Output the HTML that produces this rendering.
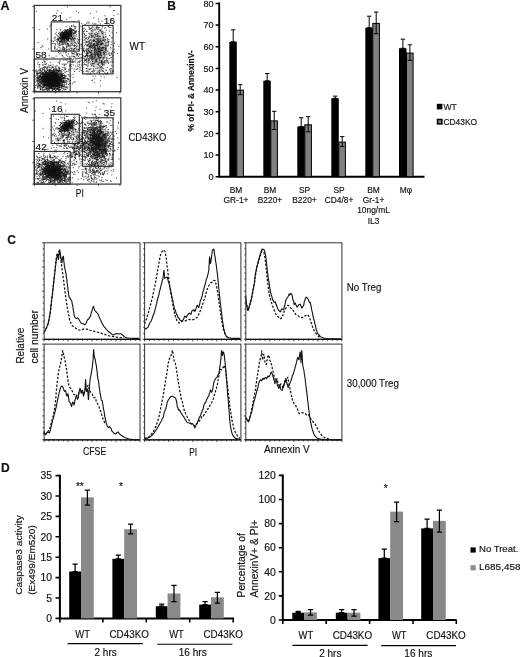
<!DOCTYPE html>
<html lang="en"><head><meta charset="utf-8"><title>Figure</title>
<style>html,body{margin:0;padding:0;background:#fff}body{width:520px;height:657px;overflow:hidden}svg{display:block}text{font-family:"Liberation Sans", sans-serif;fill:#111;stroke:#111;stroke-width:.22px;stroke-opacity:.7}</style>
</head><body>
<svg width="520" height="657" viewBox="0 0 520 657">
<rect width="520" height="657" fill="#fff"/>
<defs>
<radialGradient id="blob"><stop offset="0" stop-color="#000" stop-opacity="0.85"/><stop offset="0.45" stop-color="#000" stop-opacity="0.55"/><stop offset="1" stop-color="#000" stop-opacity="0"/></radialGradient>
<radialGradient id="blob2"><stop offset="0" stop-color="#000" stop-opacity="0.45"/><stop offset="0.5" stop-color="#000" stop-opacity="0.25"/><stop offset="1" stop-color="#000" stop-opacity="0"/></radialGradient>
<filter id="soft" x="-5%" y="-5%" width="110%" height="110%"><feGaussianBlur stdDeviation="0.35"/></filter>
</defs>
<text x="0.4" y="9.6" font-size="12.6" font-weight="bold" fill="#000">A</text>
<text x="167.2" y="10" font-size="12" font-weight="bold" fill="#000">B</text>
<text x="7.2" y="244" font-size="12" font-weight="bold" fill="#000">C</text>
<text x="0.9" y="471.7" font-size="12" font-weight="bold" fill="#000">D</text>
<g filter="url(#soft)">
<ellipse cx="52" cy="80.5" rx="12" ry="10" fill="url(#blob)" opacity="1.0"/>
<ellipse cx="65.8" cy="35.4" rx="8.5" ry="6" fill="url(#blob)" opacity="0.8" transform="rotate(-40 65.8 35.4)"/>
<ellipse cx="97.5" cy="50.0" rx="13" ry="24" fill="url(#blob2)" opacity="1.0"/>
<path d="M51.7 82.0h.1M54.7 76.4h.1M56.0 76.1h.1M50.3 87.2h.1M55.8 78.0h.1M48.4 81.7h.1M52.2 75.7h.1M51.5 84.0h.1M61.2 79.9h.1M65.7 76.5h.1M64.3 81.7h.1M60.0 83.5h.1M51.2 79.4h.1M69.0 81.1h.1M52.2 81.1h.1M62.5 80.1h.1M59.2 77.7h.1M45.9 75.1h.1M51.3 85.0h.1M55.9 80.7h.1M51.2 80.7h.1M59.9 82.5h.1M44.7 70.9h.1M46.3 80.0h.1M48.2 73.5h.1M50.9 83.3h.1M52.5 84.2h.1M51.8 83.9h.1M43.3 75.2h.1M51.1 77.9h.1M52.4 74.4h.1M56.0 80.3h.1M45.0 85.1h.1M61.4 78.2h.1M49.8 69.6h.1M55.1 80.6h.1M43.1 82.3h.1M54.5 79.1h.1M52.1 88.5h.1M55.1 79.5h.1M49.8 79.4h.1M54.4 75.1h.1M52.5 78.3h.1M43.7 82.3h.1M51.5 83.9h.1M53.2 86.2h.1M51.4 83.4h.1M60.1 83.9h.1M65.1 72.4h.1M54.9 76.4h.1M58.1 78.4h.1M50.2 82.7h.1M53.4 79.7h.1M46.9 82.2h.1M58.8 81.4h.1M52.8 75.1h.1M51.2 75.8h.1M45.5 80.2h.1M52.0 77.4h.1M54.8 70.6h.1M59.0 83.8h.1M65.0 87.5h.1M62.6 86.6h.1M56.7 85.5h.1M52.7 72.6h.1M42.4 86.1h.1M52.7 79.2h.1M54.0 75.8h.1M45.4 76.3h.1M53.1 76.6h.1M57.4 74.9h.1M44.0 78.1h.1M45.7 79.3h.1M56.9 79.8h.1M55.6 81.3h.1M54.7 79.5h.1M61.8 78.2h.1M41.9 75.0h.1M58.5 83.6h.1M44.3 71.3h.1M54.0 77.6h.1M62.7 86.5h.1M52.1 80.9h.1M56.5 83.8h.1M55.7 80.5h.1M60.5 75.8h.1M43.8 76.2h.1M50.1 80.0h.1M55.4 78.5h.1M48.2 78.2h.1M53.0 80.8h.1M43.6 82.4h.1M50.1 77.2h.1M60.1 87.1h.1M45.8 78.5h.1M47.7 83.7h.1M45.7 84.1h.1M53.5 88.7h.1M59.3 86.5h.1M47.9 84.3h.1M38.3 85.5h.1M61.2 73.5h.1M47.7 74.3h.1M51.2 84.7h.1M64.8 72.0h.1M50.3 80.4h.1M53.6 81.0h.1M59.1 74.0h.1M54.1 75.8h.1M62.2 85.2h.1M52.0 82.6h.1M59.1 78.5h.1M59.4 77.3h.1M51.5 76.3h.1M49.3 81.7h.1M40.2 70.9h.1M46.3 78.9h.1M53.5 73.2h.1M54.3 84.8h.1M52.5 81.0h.1M52.7 86.7h.1M54.3 69.4h.1M58.5 71.5h.1M73.7 82.1h.1M43.3 79.0h.1M60.6 77.3h.1M44.5 79.8h.1M51.7 80.2h.1M50.9 84.5h.1M48.2 80.9h.1M58.3 84.4h.1M55.4 86.9h.1M60.4 81.5h.1M53.4 73.8h.1M39.3 85.6h.1M54.2 85.0h.1M52.2 66.8h.1M50.4 79.9h.1M52.5 75.0h.1M53.9 80.0h.1M43.9 80.6h.1M50.5 88.2h.1M56.0 79.3h.1M62.3 90.8h.1M44.8 83.9h.1M47.5 80.2h.1M50.8 79.0h.1M53.3 81.0h.1M41.6 81.3h.1M53.0 77.7h.1M54.5 89.4h.1M48.6 80.2h.1M55.4 75.4h.1M51.6 85.0h.1M54.8 79.9h.1M53.3 81.3h.1M62.6 81.4h.1M56.7 86.1h.1M56.4 84.4h.1M42.4 76.9h.1M55.7 82.2h.1M53.0 75.5h.1M47.0 90.0h.1M53.9 79.8h.1M58.5 83.5h.1M61.2 76.5h.1M44.6 74.3h.1M43.4 86.8h.1M49.8 82.9h.1M39.5 77.0h.1M57.2 74.5h.1M50.2 87.9h.1M46.7 74.5h.1M58.1 79.1h.1M50.3 79.1h.1M50.3 81.7h.1M54.0 80.7h.1M50.7 79.8h.1M46.8 89.3h.1M48.1 80.0h.1M62.6 84.6h.1M66.1 75.9h.1M45.7 82.9h.1M54.7 72.1h.1M55.1 77.6h.1M51.4 76.3h.1M59.7 81.7h.1M54.3 74.9h.1M52.4 74.6h.1M43.7 84.4h.1M45.4 76.7h.1M48.8 79.2h.1M54.9 79.3h.1M61.9 74.9h.1M47.0 78.5h.1M49.6 85.3h.1M64.1 78.8h.1M50.5 82.2h.1M53.4 86.2h.1M51.8 74.1h.1M57.3 85.8h.1M50.9 70.3h.1M42.6 81.8h.1M43.6 76.8h.1M55.1 75.2h.1M35.6 76.3h.1M42.3 75.2h.1M52.6 71.9h.1M53.5 86.0h.1M59.1 87.5h.1M50.8 74.8h.1M55.7 78.8h.1M52.9 77.9h.1M57.7 80.0h.1M60.0 75.3h.1M51.4 85.0h.1M62.0 82.5h.1M57.2 76.4h.1M47.0 76.8h.1M43.0 74.6h.1M49.7 78.9h.1M56.3 84.4h.1M52.4 83.7h.1M53.4 75.1h.1M52.6 80.9h.1M46.7 74.7h.1M54.0 71.9h.1M48.8 74.2h.1M63.8 82.6h.1M46.3 71.4h.1M59.8 78.2h.1M59.0 83.9h.1M58.0 77.9h.1M49.0 75.9h.1M50.2 75.0h.1M61.8 72.8h.1M40.2 76.5h.1M50.4 80.0h.1M50.9 80.5h.1M40.6 72.8h.1M63.2 77.4h.1M60.0 86.0h.1M47.6 74.6h.1M61.4 80.5h.1M45.8 64.5h.1M49.6 74.4h.1M46.3 73.7h.1M55.4 73.3h.1M57.0 88.7h.1M47.1 77.4h.1M59.6 72.1h.1M54.6 80.9h.1M52.6 80.1h.1M59.4 81.6h.1M51.0 87.0h.1M40.0 77.4h.1M57.1 81.2h.1M56.7 77.6h.1M53.4 75.3h.1M48.2 79.2h.1M50.6 79.3h.1M57.7 76.7h.1M54.1 78.0h.1M50.5 80.2h.1M60.8 82.6h.1M61.4 79.1h.1M56.0 70.4h.1M51.3 81.1h.1M53.5 78.6h.1M55.4 76.1h.1M54.3 78.1h.1M52.6 74.3h.1M50.3 80.9h.1M53.4 78.5h.1M50.1 71.4h.1M48.8 81.1h.1M49.8 82.1h.1M56.5 80.0h.1M47.4 81.8h.1M52.2 72.6h.1M47.3 85.7h.1M45.2 80.4h.1M61.2 87.3h.1M55.5 67.9h.1M51.0 72.5h.1M61.1 79.0h.1M44.1 77.0h.1M48.5 88.9h.1M41.7 77.9h.1M54.8 74.5h.1M56.1 83.5h.1M49.3 80.5h.1M46.3 75.3h.1M51.6 84.3h.1M47.1 85.1h.1M49.7 78.4h.1M50.6 75.0h.1M62.1 85.6h.1M52.0 82.1h.1M63.4 80.9h.1M56.8 76.9h.1M67.0 81.7h.1M45.8 81.3h.1M55.9 81.2h.1M49.8 65.6h.1M52.3 83.4h.1M45.8 88.2h.1M44.3 80.6h.1M49.2 84.1h.1M55.6 81.0h.1M44.1 89.2h.1M53.1 80.5h.1M49.4 87.0h.1M50.7 87.9h.1M58.5 80.8h.1M52.5 84.7h.1M46.7 71.5h.1M57.6 83.4h.1M57.8 73.7h.1M44.7 81.6h.1M49.3 77.5h.1M45.5 78.0h.1M45.8 74.5h.1M57.4 82.6h.1M55.9 84.8h.1M51.2 75.5h.1M51.9 78.6h.1M46.7 76.1h.1M53.6 87.2h.1M35.4 87.7h.1M51.4 81.5h.1M42.1 77.9h.1M58.3 82.4h.1M49.9 75.7h.1M64.2 75.4h.1M48.4 75.8h.1M52.7 81.8h.1M48.3 78.0h.1M49.6 75.4h.1M55.4 75.8h.1M44.6 78.9h.1M57.2 79.7h.1M52.7 84.3h.1M63.5 77.4h.1M45.9 78.7h.1M45.3 89.9h.1M53.9 79.0h.1M43.6 81.4h.1M48.1 77.1h.1M37.7 86.6h.1M47.6 83.2h.1M64.6 86.3h.1M52.8 82.9h.1M47.9 77.9h.1M62.7 84.6h.1M57.2 79.8h.1M56.3 79.6h.1M65.8 89.6h.1M49.2 85.8h.1M39.1 78.0h.1M64.7 78.3h.1M60.4 79.5h.1M53.5 70.3h.1M51.3 72.5h.1M50.2 79.6h.1M54.1 80.5h.1M56.1 78.1h.1M63.0 82.5h.1M38.0 88.1h.1M42.7 82.3h.1M55.0 88.6h.1M52.4 80.2h.1M53.8 81.3h.1M54.9 80.6h.1M59.5 80.0h.1M37.2 77.2h.1M53.0 83.5h.1M48.5 74.0h.1M52.4 85.4h.1M50.1 80.8h.1M42.5 75.1h.1M52.0 77.8h.1M44.2 68.7h.1M56.9 78.7h.1M47.1 82.7h.1M44.5 70.8h.1M47.4 78.0h.1M55.8 84.1h.1M60.1 71.2h.1M55.9 73.4h.1M55.9 83.2h.1M48.4 88.1h.1M54.8 73.0h.1M57.9 76.9h.1M59.5 84.3h.1M58.2 71.4h.1M47.6 79.0h.1M49.6 80.6h.1M47.8 79.9h.1M43.5 81.0h.1M49.0 82.1h.1M61.7 81.6h.1M53.5 81.9h.1M59.2 90.5h.1M52.5 74.3h.1M63.4 81.3h.1M53.3 77.0h.1M52.0 77.2h.1M49.1 76.1h.1M51.3 85.5h.1M36.2 72.1h.1M55.9 76.9h.1M48.0 73.7h.1M55.2 81.0h.1M59.3 77.0h.1M57.2 70.5h.1M61.8 80.3h.1M51.2 79.4h.1M64.0 80.5h.1M46.2 82.3h.1M53.4 76.1h.1M48.5 76.8h.1M60.4 78.0h.1M42.3 79.7h.1M44.9 76.6h.1M46.5 76.3h.1M47.5 77.0h.1M52.2 82.3h.1M44.6 76.5h.1M63.6 81.4h.1M51.8 81.0h.1M43.1 80.4h.1M47.8 73.9h.1M44.2 89.9h.1M46.7 80.8h.1M49.2 89.3h.1M58.2 81.1h.1M48.3 83.6h.1M54.5 82.6h.1M53.7 81.5h.1M54.0 74.9h.1M51.3 84.9h.1M58.6 80.5h.1M48.7 74.2h.1M51.9 74.9h.1M42.3 90.7h.1M39.0 76.8h.1M47.1 80.1h.1M49.8 88.2h.1M59.5 87.5h.1M50.9 87.7h.1M51.5 76.9h.1M49.5 83.8h.1M51.3 82.9h.1M57.5 70.4h.1M45.4 82.8h.1M51.0 80.7h.1M45.7 76.9h.1M56.8 80.5h.1M45.6 72.0h.1M44.9 75.7h.1M57.9 88.3h.1M53.9 74.1h.1M53.4 85.7h.1M44.7 76.8h.1M48.6 83.6h.1M55.8 83.1h.1M52.7 77.8h.1M55.1 81.5h.1M52.4 77.6h.1M53.7 86.7h.1M49.7 84.7h.1M43.6 81.9h.1M38.0 73.4h.1M47.0 77.8h.1M38.2 86.6h.1M65.7 78.2h.1M46.9 83.6h.1M47.3 79.2h.1M48.4 83.2h.1M51.5 85.8h.1M66.1 86.6h.1M57.8 86.7h.1M54.4 76.3h.1M50.5 75.4h.1M59.5 73.8h.1M51.7 83.0h.1M45.5 78.5h.1M45.1 79.2h.1M52.0 83.5h.1M45.4 77.4h.1M53.8 80.0h.1M52.4 75.9h.1M45.7 77.1h.1M49.8 75.7h.1M49.3 82.0h.1M47.8 89.0h.1M46.4 75.9h.1M54.1 83.2h.1M51.6 80.7h.1M55.7 71.8h.1M55.7 69.6h.1M50.3 76.4h.1M56.9 80.3h.1M51.7 72.9h.1M64.5 77.4h.1M66.3 78.3h.1M42.7 73.1h.1M49.1 72.7h.1M50.4 78.5h.1M51.8 83.4h.1M40.3 79.2h.1M52.2 75.4h.1M48.4 78.5h.1M46.6 79.2h.1M42.6 68.3h.1M53.0 85.3h.1M55.1 77.0h.1M55.1 73.9h.1M45.6 73.4h.1M58.1 79.6h.1M46.3 75.1h.1M55.6 85.9h.1M46.7 77.5h.1M60.8 74.2h.1M58.8 70.2h.1M47.7 76.4h.1M47.0 89.3h.1M45.5 73.2h.1M45.2 85.2h.1M57.8 76.7h.1M54.3 72.6h.1M44.8 66.5h.1M59.5 80.6h.1M53.3 81.6h.1M50.4 79.1h.1M46.7 68.2h.1M52.7 76.9h.1M50.9 81.4h.1M58.6 78.5h.1M46.5 81.2h.1M38.4 70.1h.1M46.7 80.6h.1M53.9 78.0h.1M53.9 78.0h.1M47.5 77.5h.1M56.1 75.0h.1M53.2 76.1h.1M52.1 86.0h.1M49.1 82.6h.1M49.6 80.3h.1M53.1 79.1h.1M48.1 74.1h.1M43.2 78.9h.1M57.4 79.0h.1M56.3 82.2h.1M55.5 87.2h.1M59.4 70.1h.1M58.8 71.3h.1M51.2 85.9h.1M49.1 72.9h.1M55.2 90.4h.1M49.9 80.1h.1M43.4 79.5h.1M49.1 83.1h.1M57.1 76.0h.1M52.6 75.7h.1M52.3 81.1h.1M37.6 73.2h.1M53.0 79.8h.1M48.1 85.2h.1M56.0 77.0h.1M63.6 78.0h.1M48.5 80.0h.1M59.0 79.9h.1M51.3 83.0h.1M56.1 80.0h.1M65.0 77.1h.1M43.6 67.4h.1M54.0 82.0h.1M55.3 76.9h.1M52.4 80.6h.1M54.4 71.2h.1M53.8 76.4h.1M55.3 82.4h.1M46.9 84.2h.1M54.3 85.8h.1M43.2 84.7h.1M43.1 78.0h.1M52.3 84.9h.1M60.7 83.3h.1M55.8 79.3h.1M64.3 78.3h.1M51.2 85.0h.1M45.6 78.8h.1M54.1 76.6h.1M49.6 78.7h.1M46.3 88.5h.1M53.7 73.0h.1M59.1 74.3h.1M58.5 88.6h.1M52.0 72.6h.1M46.5 86.0h.1M55.0 77.6h.1M53.9 82.4h.1M46.6 85.6h.1M42.9 84.9h.1M42.5 82.1h.1M62.1 81.8h.1M50.3 78.2h.1M46.4 77.5h.1M56.6 89.0h.1M47.4 80.7h.1M44.9 84.6h.1M52.2 67.7h.1M56.9 79.1h.1M58.2 82.8h.1M44.7 76.5h.1M56.2 74.9h.1M50.0 82.3h.1M55.8 85.4h.1M56.1 76.5h.1M50.1 84.1h.1M55.8 83.0h.1M55.2 88.4h.1M52.5 79.9h.1M46.4 84.1h.1M43.4 80.5h.1M56.5 78.6h.1M48.1 82.8h.1M42.5 80.8h.1M43.6 86.8h.1M52.4 72.8h.1M61.1 74.8h.1M42.5 74.2h.1M43.4 81.8h.1M39.8 83.3h.1M52.9 79.6h.1M51.3 81.3h.1M55.5 81.0h.1M43.2 69.8h.1M51.2 75.6h.1M49.9 84.5h.1M51.6 84.5h.1M61.3 88.1h.1M55.3 84.4h.1M53.4 67.2h.1M56.7 82.6h.1M41.6 79.9h.1M51.7 73.1h.1M40.8 87.7h.1M52.0 79.4h.1M61.7 87.1h.1M43.2 81.6h.1M57.1 88.5h.1M60.3 81.0h.1M49.3 84.6h.1M48.9 81.9h.1M58.3 75.0h.1M52.3 76.8h.1M61.8 75.8h.1M57.1 71.8h.1M62.4 74.0h.1M50.4 82.3h.1M40.4 70.3h.1M55.5 86.0h.1M53.7 79.1h.1M41.2 76.6h.1M60.9 75.4h.1M49.5 81.6h.1M61.9 77.3h.1M47.9 82.7h.1M55.6 84.5h.1M50.1 70.8h.1M53.6 83.0h.1M57.9 70.5h.1M53.1 84.7h.1M43.9 67.4h.1M36.1 71.4h.1M44.5 85.5h.1M45.4 80.0h.1M58.9 85.2h.1M59.2 68.7h.1M41.1 73.5h.1M40.8 86.6h.1M41.9 78.4h.1M60.0 81.2h.1M68.1 74.8h.1M52.4 75.4h.1M53.2 80.2h.1M38.1 84.5h.1M51.1 86.6h.1M57.4 79.8h.1M47.3 73.1h.1M55.1 74.2h.1M49.6 88.6h.1M56.7 82.6h.1M59.0 75.9h.1M58.6 89.4h.1M36.1 79.9h.1M56.0 85.0h.1M53.4 85.0h.1M49.8 81.5h.1M48.6 76.8h.1M56.4 72.4h.1M56.3 73.9h.1M53.9 75.9h.1M50.9 82.7h.1M62.1 78.3h.1M57.4 85.5h.1M40.0 82.6h.1M52.8 88.3h.1M60.4 90.0h.1M59.1 67.4h.1M58.6 82.7h.1M53.3 81.3h.1M62.4 79.0h.1M48.7 81.0h.1M44.1 79.3h.1M37.4 73.8h.1M52.2 70.5h.1M58.8 88.8h.1M57.6 84.4h.1M53.5 75.3h.1M54.8 78.4h.1M54.4 84.9h.1M48.3 76.7h.1M57.6 83.1h.1M51.6 85.8h.1M52.4 79.7h.1M58.5 77.1h.1M58.9 79.8h.1M54.0 84.8h.1M54.8 80.0h.1M58.3 90.4h.1M46.9 88.8h.1M45.3 87.0h.1M52.9 84.4h.1M35.6 70.8h.1M42.6 87.5h.1M48.5 83.8h.1M44.3 75.5h.1M50.2 75.5h.1M57.1 78.2h.1M52.8 81.4h.1M50.4 72.6h.1M37.6 83.8h.1M47.5 77.7h.1M52.0 83.4h.1M51.0 71.3h.1M63.3 88.1h.1M49.6 79.4h.1M44.0 72.6h.1M49.4 87.8h.1M53.7 78.6h.1M51.7 78.0h.1M42.6 73.7h.1M47.4 72.9h.1M47.6 79.1h.1M69.3 83.9h.1M59.6 79.6h.1M42.8 72.7h.1M57.6 89.4h.1M49.6 88.3h.1M50.7 75.5h.1M51.2 87.0h.1M45.7 79.2h.1M51.8 79.9h.1M53.1 74.6h.1M54.4 84.9h.1M47.8 78.9h.1M56.5 81.5h.1M64.6 76.0h.1M47.1 77.0h.1M48.2 86.3h.1M47.6 79.7h.1M37.0 81.1h.1M53.6 84.8h.1M50.1 75.5h.1M51.7 79.5h.1M65.4 82.2h.1M54.4 78.6h.1M63.4 80.9h.1M52.2 81.1h.1M59.0 85.3h.1M60.4 81.0h.1M44.0 75.2h.1M54.3 86.7h.1M54.9 79.5h.1M49.4 85.6h.1M67.6 79.2h.1M59.9 76.2h.1M58.6 77.3h.1M50.9 75.5h.1M50.8 82.4h.1M56.7 82.1h.1M40.7 80.0h.1M56.3 81.0h.1M57.8 83.1h.1M47.1 75.1h.1M52.3 86.5h.1M55.1 82.1h.1M59.7 77.6h.1M55.2 78.4h.1M55.8 80.4h.1M47.5 80.6h.1M38.4 78.9h.1M42.3 80.0h.1M49.5 72.4h.1M52.9 80.3h.1M55.7 70.0h.1M46.6 77.4h.1M55.1 79.8h.1M53.1 82.8h.1M61.2 77.5h.1M50.0 80.9h.1M55.0 78.1h.1M57.5 81.3h.1M45.4 73.6h.1M41.2 82.8h.1M54.2 85.0h.1M63.3 73.7h.1M60.8 80.1h.1M54.6 78.3h.1M53.5 69.6h.1M50.2 72.7h.1M56.7 79.3h.1M60.9 75.1h.1M58.6 81.7h.1M47.6 82.6h.1M59.3 77.8h.1M57.6 84.0h.1M64.0 89.4h.1M55.9 77.2h.1M48.7 85.3h.1M48.7 85.4h.1M49.9 86.5h.1M44.0 78.4h.1M42.4 79.5h.1M52.4 75.7h.1M53.1 84.8h.1M59.9 85.5h.1M49.4 81.4h.1M66.5 82.9h.1M48.5 75.8h.1M53.8 68.4h.1M48.3 76.3h.1M48.2 70.1h.1M47.7 78.4h.1M47.7 74.8h.1M58.1 78.0h.1M54.8 75.7h.1M42.5 87.6h.1M58.3 72.7h.1M43.2 84.6h.1M45.5 85.3h.1M57.8 80.8h.1M62.5 75.2h.1M46.3 75.8h.1M37.1 77.9h.1M55.4 85.4h.1M39.8 80.6h.1M59.6 84.0h.1M43.5 76.2h.1M56.0 86.6h.1M52.2 74.8h.1M55.2 77.2h.1M50.0 80.7h.1M43.8 82.6h.1M61.8 84.6h.1M45.7 81.6h.1M45.8 76.4h.1M57.3 86.4h.1M61.1 71.0h.1M46.0 75.5h.1M55.4 73.9h.1M61.8 76.4h.1M54.0 82.8h.1M66.2 87.3h.1M60.8 76.7h.1M47.7 79.2h.1M57.4 82.9h.1M49.3 87.3h.1M54.0 86.2h.1M55.7 87.1h.1M57.3 79.7h.1M39.3 79.6h.1M50.5 75.9h.1M48.4 73.6h.1M43.4 85.1h.1M56.4 78.1h.1M50.8 80.3h.1M57.8 84.6h.1M65.8 81.0h.1M54.9 79.6h.1M51.2 73.9h.1M48.3 78.8h.1M57.6 74.5h.1M59.4 83.9h.1M58.2 82.1h.1M44.0 84.3h.1M42.1 77.0h.1M58.1 87.0h.1M48.9 85.8h.1M50.7 86.5h.1M45.8 83.0h.1M48.3 81.8h.1M50.3 81.3h.1M46.1 76.6h.1M40.8 77.7h.1M45.7 78.8h.1M55.3 74.5h.1M57.0 79.8h.1M37.7 78.7h.1M46.9 74.2h.1M49.0 83.4h.1M40.9 74.7h.1M47.8 81.2h.1M58.7 81.7h.1M56.1 69.1h.1M47.6 82.4h.1M56.2 74.3h.1M42.1 79.9h.1M44.0 86.3h.1M54.6 85.3h.1M53.6 80.5h.1M52.6 80.6h.1M44.6 79.7h.1M53.3 79.3h.1M50.7 75.6h.1M55.3 80.9h.1M55.8 80.6h.1M42.9 81.0h.1M50.0 79.6h.1M49.7 81.6h.1M42.8 78.6h.1M39.2 73.3h.1M48.5 74.6h.1M40.5 76.5h.1M51.5 85.2h.1M44.9 73.3h.1M55.7 73.9h.1M51.2 79.8h.1M55.0 77.5h.1M55.3 77.2h.1M47.0 87.4h.1M64.7 82.4h.1M54.2 83.5h.1M58.4 81.0h.1M58.1 85.4h.1M51.5 79.6h.1M49.8 78.8h.1M61.5 85.5h.1M50.3 79.3h.1M44.4 85.4h.1M59.9 78.0h.1M40.5 85.6h.1M58.0 75.5h.1M56.7 78.8h.1M62.3 82.7h.1M61.6 76.1h.1M46.7 75.9h.1M51.8 83.8h.1M47.0 77.7h.1M52.5 76.3h.1M39.9 81.5h.1M59.2 82.0h.1M46.9 82.0h.1M38.7 85.0h.1M55.6 80.8h.1M60.1 83.4h.1M53.5 69.8h.1M56.3 81.9h.1M61.1 77.8h.1M54.0 82.7h.1M54.0 76.2h.1M47.4 76.8h.1M56.6 74.2h.1M56.5 84.8h.1M62.6 82.2h.1M47.7 77.7h.1M51.6 74.6h.1M42.3 84.3h.1M52.2 71.4h.1M57.8 86.8h.1M40.5 79.8h.1M44.5 75.8h.1M53.2 80.8h.1M50.8 72.3h.1M44.5 85.9h.1M60.9 75.2h.1M50.4 76.7h.1M66.7 87.7h.1M51.5 77.9h.1M38.1 78.4h.1M56.8 82.0h.1M59.5 78.0h.1M50.0 77.2h.1M53.3 89.5h.1M45.6 83.4h.1M48.1 82.2h.1M42.5 78.5h.1M40.9 73.3h.1M55.0 73.9h.1M53.7 83.6h.1M43.2 75.3h.1M52.3 78.7h.1M58.0 75.5h.1M53.3 71.7h.1M51.3 80.5h.1M57.3 76.3h.1M59.2 90.1h.1M48.5 77.9h.1M58.5 87.3h.1M41.7 73.5h.1M52.9 86.2h.1M47.8 90.1h.1M55.2 84.0h.1M59.0 70.3h.1M53.0 80.0h.1M39.8 76.3h.1M51.5 83.5h.1M41.7 78.1h.1M44.7 81.8h.1M53.9 81.3h.1M52.7 75.9h.1M45.5 71.9h.1M43.4 83.8h.1M53.4 76.8h.1M53.0 83.2h.1M46.9 81.0h.1M46.1 76.4h.1M52.0 72.3h.1M46.9 80.3h.1M53.5 86.9h.1M50.3 65.4h.1M53.2 73.1h.1M55.3 81.6h.1M53.3 82.6h.1M46.5 86.1h.1M56.9 89.7h.1M57.8 83.1h.1M43.7 82.6h.1M58.8 78.2h.1M55.1 80.8h.1M45.8 72.5h.1M48.3 83.0h.1M47.9 82.1h.1M41.6 81.0h.1M45.8 82.2h.1M42.2 68.6h.1M43.9 77.5h.1M54.8 76.0h.1M64.6 81.0h.1M56.0 83.9h.1M60.2 89.6h.1M50.5 78.9h.1M57.4 77.5h.1M59.9 79.2h.1M52.1 79.6h.1M61.5 81.0h.1M57.7 82.5h.1M39.2 81.2h.1M55.7 72.7h.1M62.9 73.8h.1M48.0 75.7h.1M52.2 77.3h.1M50.0 87.4h.1M56.8 79.7h.1M56.4 86.0h.1M59.8 76.1h.1M62.5 75.2h.1M57.5 86.6h.1M51.5 74.6h.1M54.0 79.7h.1M64.1 84.9h.1M50.4 77.2h.1M50.1 84.7h.1M50.6 82.4h.1M49.5 69.4h.1M40.1 90.0h.1M44.6 84.3h.1M61.3 81.7h.1M57.9 78.6h.1M46.5 75.2h.1M54.8 71.1h.1M52.9 81.2h.1M57.3 77.8h.1M40.9 72.0h.1M59.7 77.8h.1M42.1 89.5h.1M50.6 76.5h.1M53.7 86.4h.1M56.5 89.0h.1M42.7 79.0h.1M47.0 83.4h.1M42.9 73.2h.1M44.7 77.1h.1M56.9 82.0h.1M54.4 75.8h.1M63.4 77.8h.1M40.6 88.5h.1M46.6 85.6h.1M55.4 80.8h.1M51.2 74.7h.1M58.4 82.3h.1M55.2 75.6h.1M49.7 78.7h.1M45.3 79.1h.1M53.8 81.5h.1M53.8 77.4h.1M53.9 84.8h.1M46.5 86.1h.1M63.4 80.7h.1M54.5 81.9h.1M55.5 78.5h.1M46.7 80.4h.1M58.3 88.7h.1M46.1 76.3h.1M47.3 75.7h.1M44.9 77.9h.1M57.6 79.7h.1M56.8 82.5h.1M50.8 80.5h.1M59.3 62.8h.1M53.3 70.8h.1M49.3 85.9h.1M50.6 78.2h.1M53.3 80.1h.1M56.2 78.3h.1M56.8 87.7h.1M51.1 85.3h.1M53.6 81.2h.1M52.6 83.1h.1M46.4 80.6h.1M57.2 77.5h.1M41.5 76.9h.1M52.4 88.3h.1M44.4 81.8h.1M48.9 82.7h.1M54.5 73.6h.1M60.3 84.3h.1M49.7 78.8h.1M61.1 74.8h.1M55.6 73.6h.1M45.0 85.1h.1M56.7 76.9h.1M75.1 82.0h.1M52.2 85.6h.1M47.4 82.7h.1M49.9 83.5h.1M43.6 73.3h.1M56.4 74.1h.1M40.1 84.9h.1M48.3 73.5h.1M51.1 79.1h.1M51.7 79.4h.1M49.0 77.8h.1M46.2 80.6h.1M54.0 80.3h.1M54.1 85.2h.1M53.5 82.3h.1M56.1 73.5h.1M47.2 74.0h.1M47.1 81.7h.1M63.8 77.9h.1M56.2 77.0h.1M59.0 85.8h.1M53.2 82.8h.1M54.5 82.6h.1M56.9 81.3h.1M48.2 80.0h.1M56.1 75.6h.1M50.6 82.0h.1M54.5 77.0h.1M53.6 82.6h.1M52.1 67.1h.1M51.9 76.8h.1M43.2 77.4h.1M57.3 80.4h.1M51.5 77.5h.1M53.7 73.8h.1M52.7 84.7h.1M38.4 81.5h.1M49.0 86.1h.1M43.7 87.6h.1M45.1 78.5h.1M50.1 81.1h.1M49.8 81.1h.1M59.2 70.9h.1M58.4 71.2h.1M51.6 80.4h.1M62.2 86.1h.1M46.2 79.9h.1M39.2 87.8h.1M58.8 87.3h.1M48.7 82.0h.1M46.6 75.7h.1M56.7 77.1h.1M57.0 81.0h.1M62.5 77.1h.1M48.3 79.4h.1M51.4 70.5h.1M57.7 78.7h.1M52.4 77.5h.1M46.0 79.0h.1M51.9 80.5h.1M47.9 77.2h.1M44.2 81.4h.1M51.0 80.5h.1M47.6 84.9h.1M45.5 81.2h.1M46.2 80.0h.1M43.9 78.7h.1M64.2 89.9h.1M52.5 74.5h.1M54.2 76.3h.1M37.8 80.3h.1M61.7 85.3h.1M52.7 90.7h.1M61.1 70.6h.1M51.9 78.7h.1M56.9 70.3h.1M47.5 88.4h.1M63.3 88.9h.1M49.3 79.0h.1M44.3 81.7h.1M55.2 84.8h.1M57.1 72.2h.1M39.1 76.1h.1M55.6 83.0h.1M63.5 75.7h.1M55.8 78.5h.1M50.4 86.1h.1M54.6 83.6h.1M49.2 74.3h.1M51.5 75.5h.1M44.6 81.4h.1M53.2 73.7h.1M52.0 76.5h.1M47.5 79.0h.1M56.4 86.2h.1M47.9 76.6h.1M44.7 77.5h.1M53.9 81.5h.1M57.4 79.3h.1M51.5 88.4h.1M42.5 77.2h.1M41.5 78.2h.1M48.6 84.5h.1M51.6 74.2h.1M43.9 76.7h.1M57.0 65.8h.1M44.6 83.3h.1M45.8 84.4h.1M41.0 78.1h.1M46.6 75.5h.1M53.2 86.3h.1M50.8 73.3h.1M49.8 79.1h.1M56.9 83.8h.1M56.2 73.1h.1M61.7 83.6h.1M47.4 82.9h.1M60.3 80.5h.1M50.3 84.3h.1M57.4 75.5h.1M44.4 84.8h.1M50.2 77.0h.1M49.2 80.5h.1M47.8 73.1h.1M51.4 79.5h.1M59.0 83.0h.1M52.2 78.4h.1M50.8 72.8h.1M51.9 82.7h.1M49.1 85.5h.1M61.3 74.5h.1M50.0 82.5h.1M37.6 80.8h.1M56.9 85.7h.1M59.0 74.1h.1M46.8 82.4h.1M39.9 79.6h.1M45.1 73.7h.1M59.6 89.5h.1M41.9 81.2h.1M50.4 81.0h.1M54.9 89.1h.1M47.2 82.2h.1M48.5 85.3h.1M48.0 83.6h.1M59.1 84.6h.1M38.3 75.0h.1M51.9 85.2h.1M45.1 82.4h.1M62.0 85.1h.1M60.5 77.9h.1M48.7 78.3h.1M46.2 83.1h.1M58.5 78.4h.1M59.5 79.2h.1M59.8 78.6h.1M54.4 75.7h.1M62.6 75.5h.1M49.0 80.2h.1M44.3 84.4h.1M53.5 84.3h.1M44.4 77.9h.1M59.2 83.9h.1M65.0 79.0h.1M47.0 79.9h.1M54.2 85.9h.1M58.5 83.3h.1M56.1 76.9h.1M50.0 74.9h.1M40.2 75.1h.1M40.1 72.4h.1M49.3 73.7h.1M60.6 83.0h.1M48.9 73.2h.1M45.1 74.9h.1M50.8 82.2h.1M49.9 70.7h.1M40.9 81.2h.1M55.8 75.9h.1M64.4 75.9h.1M48.8 78.1h.1M59.9 79.3h.1M42.1 76.8h.1M54.5 88.1h.1M48.9 80.1h.1M57.5 73.5h.1M60.1 79.6h.1M53.1 82.6h.1M48.2 80.9h.1M51.6 75.1h.1M66.6 80.7h.1M58.9 78.5h.1M55.0 74.6h.1M59.3 81.4h.1M51.9 77.0h.1M49.0 78.7h.1M58.6 82.0h.1M40.4 74.7h.1M43.0 85.9h.1M43.1 74.4h.1M38.7 78.5h.1M53.9 79.7h.1M48.0 80.0h.1M51.9 87.2h.1M57.8 76.2h.1M46.1 83.0h.1M45.9 73.7h.1M44.5 81.5h.1M41.8 71.9h.1M50.9 78.8h.1M63.1 79.0h.1M45.1 76.7h.1M55.8 85.8h.1M44.6 84.2h.1M57.2 81.2h.1M45.9 75.9h.1M56.1 85.6h.1M43.0 72.7h.1M70.4 76.6h.1M58.7 81.1h.1M48.1 79.0h.1M56.4 82.2h.1M58.3 81.5h.1M47.5 75.2h.1M58.9 79.6h.1M63.5 79.0h.1M55.9 85.9h.1M55.6 77.1h.1M61.9 76.3h.1M52.6 79.5h.1M45.2 75.9h.1M44.8 80.4h.1M54.0 70.4h.1M59.7 85.9h.1M42.7 79.7h.1M47.4 77.5h.1M55.1 77.6h.1M45.3 81.0h.1M53.9 79.2h.1M48.0 81.4h.1M55.7 90.2h.1M50.3 80.2h.1M41.3 83.7h.1M52.0 83.3h.1M59.6 78.7h.1M65.5 89.6h.1M63.7 86.4h.1M58.4 76.7h.1M53.0 82.1h.1M46.2 88.6h.1M48.8 84.5h.1M55.2 84.9h.1M51.5 78.0h.1M52.7 80.3h.1M50.4 82.3h.1M56.1 77.4h.1M48.8 71.0h.1M54.5 89.1h.1M70.4 80.5h.1M49.2 71.3h.1M37.7 64.1h.1M41.1 86.5h.1M46.2 78.2h.1M50.6 75.5h.1M47.8 73.8h.1M52.8 85.9h.1M59.6 80.1h.1M52.3 73.5h.1M44.1 80.7h.1M61.9 82.2h.1M57.7 78.2h.1M52.2 76.8h.1M46.4 75.7h.1M45.6 79.0h.1M47.0 76.7h.1M56.5 75.4h.1M47.3 84.5h.1M36.9 84.2h.1M50.6 79.1h.1M49.5 79.9h.1M41.5 83.3h.1M58.1 78.1h.1M42.8 80.3h.1M52.3 86.8h.1M54.8 79.6h.1M57.0 71.2h.1M47.6 73.3h.1M56.5 77.5h.1M47.3 79.2h.1M53.6 72.0h.1M54.1 73.2h.1M49.6 81.9h.1M48.0 82.8h.1M51.3 79.3h.1M44.6 84.8h.1M59.4 87.5h.1M47.7 84.7h.1M50.2 73.6h.1M51.8 73.0h.1M50.1 78.2h.1M66.3 71.4h.1M62.2 84.0h.1M52.6 79.3h.1M49.5 83.2h.1M66.0 81.7h.1M58.6 75.4h.1M55.7 80.6h.1M55.2 73.5h.1M60.6 73.4h.1M49.6 83.1h.1M50.1 74.3h.1M46.3 75.2h.1M60.0 78.9h.1M52.0 84.2h.1M48.0 79.6h.1M45.8 79.7h.1M47.6 72.3h.1M61.5 86.5h.1M61.4 80.8h.1M53.1 78.2h.1M53.6 88.1h.1M67.6 88.2h.1M37.0 77.6h.1M51.4 84.2h.1M41.3 72.1h.1M51.6 79.4h.1M48.2 80.6h.1M48.1 77.5h.1M52.4 77.1h.1M56.5 80.7h.1M54.1 74.8h.1M41.9 77.8h.1M59.9 87.8h.1M56.4 84.0h.1M51.9 81.8h.1M51.5 77.4h.1M49.7 90.7h.1M66.5 83.7h.1M50.2 74.6h.1M48.4 80.2h.1M48.3 83.1h.1M43.9 81.2h.1M50.9 81.2h.1M42.4 82.9h.1M59.2 78.6h.1M50.5 76.9h.1M55.4 76.2h.1M53.3 83.0h.1M45.5 79.3h.1M38.5 77.4h.1M49.3 77.3h.1M70.6 83.4h.1M48.9 89.9h.1M52.9 84.5h.1M68.4 84.5h.1M44.7 83.1h.1M48.9 69.4h.1M57.0 83.2h.1M53.7 85.6h.1M58.5 77.8h.1M60.8 83.3h.1M49.0 74.7h.1M48.3 78.2h.1M44.8 72.8h.1M68.6 79.7h.1M42.2 68.2h.1M41.1 83.4h.1M55.2 76.4h.1M48.5 75.7h.1M37.5 87.8h.1M40.8 77.0h.1M56.4 76.2h.1M49.0 80.6h.1M47.1 85.5h.1M57.4 80.4h.1M48.3 76.1h.1M53.2 84.9h.1M48.6 81.4h.1M44.9 67.4h.1M38.5 83.7h.1M52.2 89.9h.1M48.5 84.5h.1M60.6 85.5h.1M42.2 76.6h.1M49.2 70.6h.1M52.5 85.7h.1M45.2 76.5h.1M45.7 72.7h.1M52.0 78.2h.1M63.8 82.6h.1M53.1 76.3h.1M39.9 85.1h.1M47.7 90.5h.1M55.0 84.3h.1M50.2 79.6h.1M54.2 84.9h.1M41.2 81.7h.1M72.9 77.3h.1M45.6 72.8h.1M48.6 80.2h.1M39.6 85.9h.1M53.9 81.0h.1M52.6 77.8h.1M63.1 82.6h.1M51.3 87.4h.1M56.5 81.5h.1M52.9 77.3h.1M39.9 75.4h.1M38.1 78.8h.1M50.5 62.6h.1M48.2 82.9h.1M49.6 70.9h.1M60.1 72.8h.1M36.4 69.9h.1M47.9 85.4h.1M59.1 79.6h.1M36.7 73.1h.1M39.5 76.7h.1M54.1 76.9h.1M52.4 71.0h.1M59.0 85.7h.1M43.7 87.0h.1M44.9 89.3h.1M52.6 74.6h.1M55.6 72.2h.1M39.1 67.1h.1M50.5 77.6h.1M47.3 74.9h.1M61.7 74.8h.1M41.1 87.3h.1M61.5 80.5h.1M53.8 78.1h.1M62.8 67.7h.1M54.4 73.3h.1M60.6 77.4h.1M57.8 73.1h.1M42.2 70.3h.1M59.4 88.0h.1M50.6 70.2h.1M46.9 72.9h.1M61.8 80.4h.1M52.6 75.0h.1M37.4 80.8h.1M48.9 72.0h.1M44.3 89.7h.1M38.9 71.1h.1M45.8 72.8h.1M43.9 82.0h.1M64.5 64.7h.1M47.8 78.3h.1M47.2 76.6h.1M44.8 85.5h.1M43.6 77.0h.1M48.0 78.8h.1M46.4 85.5h.1M47.9 79.3h.1M47.5 70.5h.1M40.1 70.1h.1M49.8 72.6h.1M37.9 79.8h.1M53.0 64.8h.1M64.1 78.2h.1M47.0 86.0h.1M48.7 73.5h.1M68.8 69.9h.1M47.1 84.4h.1M37.8 77.2h.1M39.5 77.6h.1M54.3 78.6h.1M36.6 81.1h.1M49.0 81.3h.1M58.7 85.6h.1M51.9 80.3h.1M37.6 77.0h.1M50.1 75.0h.1M48.9 71.8h.1M44.3 81.0h.1M45.8 87.5h.1M52.1 78.6h.1M45.9 78.9h.1M38.5 83.1h.1M41.2 82.0h.1M49.2 86.2h.1M47.8 85.7h.1M39.2 82.6h.1M45.9 79.5h.1M48.7 85.0h.1M35.8 78.9h.1M42.9 64.5h.1M44.8 83.0h.1M46.2 85.1h.1M44.6 78.1h.1M44.3 80.6h.1M66.0 80.7h.1M49.8 73.4h.1M40.8 89.0h.1M37.4 71.2h.1M47.1 74.8h.1M66.6 60.3h.1M51.4 83.3h.1M37.4 73.2h.1M52.1 90.2h.1M39.3 66.2h.1M57.2 89.4h.1M44.8 61.4h.1M61.8 76.5h.1M58.7 77.7h.1M44.4 74.6h.1M62.0 88.8h.1M64.9 75.2h.1M47.0 77.3h.1M43.4 75.7h.1M43.7 80.5h.1M40.3 75.8h.1M46.6 87.8h.1M51.5 77.2h.1M53.1 81.0h.1M58.3 81.8h.1M65.0 88.1h.1M47.6 74.9h.1M56.4 81.9h.1M47.1 66.9h.1M55.3 84.0h.1M35.8 85.8h.1M42.9 80.9h.1M52.0 72.0h.1M42.4 62.5h.1M39.3 64.5h.1M52.2 78.5h.1M56.7 80.7h.1M42.0 80.6h.1M44.3 82.6h.1M51.0 70.6h.1M48.0 78.4h.1M45.1 84.7h.1M64.3 75.2h.1M44.7 61.1h.1M46.8 74.7h.1M53.6 72.5h.1M44.5 70.8h.1M55.2 66.6h.1M48.5 81.5h.1M46.6 69.2h.1M47.7 81.0h.1M38.3 80.6h.1M59.8 86.0h.1M53.8 83.3h.1M39.7 69.3h.1M48.7 78.8h.1M39.9 79.1h.1M54.1 79.7h.1M38.1 62.2h.1M45.5 79.2h.1M45.5 74.8h.1M41.4 83.4h.1M47.5 78.9h.1M38.8 73.3h.1M49.6 70.5h.1M36.0 75.5h.1M59.4 79.4h.1M61.9 77.0h.1M45.1 67.6h.1M42.5 88.8h.1M51.1 83.5h.1M54.7 77.9h.1M46.1 78.9h.1M54.4 81.4h.1M52.7 79.2h.1M40.7 76.0h.1M39.1 85.5h.1M70.7 75.4h.1M37.2 77.9h.1M60.2 76.8h.1M53.8 78.7h.1M48.7 74.0h.1M43.3 80.9h.1M51.9 83.8h.1M49.3 67.3h.1M53.1 75.7h.1M45.3 66.9h.1M42.6 72.5h.1M47.7 67.1h.1M48.5 78.9h.1M37.4 73.3h.1M39.9 84.8h.1M56.0 73.3h.1M49.3 71.7h.1M66.4 84.8h.1M58.7 68.0h.1M37.5 86.1h.1M46.2 76.1h.1M51.2 68.6h.1M55.3 78.1h.1M52.6 73.0h.1M52.9 72.7h.1M57.1 86.5h.1M56.7 81.9h.1M54.0 57.7h.1M55.9 75.9h.1M48.9 75.9h.1M54.3 88.6h.1M42.1 71.2h.1M61.8 71.4h.1M67.7 78.4h.1M39.6 85.4h.1M64.1 67.2h.1M62.8 75.9h.1M62.1 75.1h.1M64.4 83.2h.1M45.7 74.1h.1M45.2 71.8h.1M45.4 58.9h.1M49.7 77.8h.1M72.4 83.7h.1M43.4 82.2h.1M36.4 73.5h.1M53.6 69.2h.1M47.4 85.1h.1M52.7 80.9h.1M39.9 73.2h.1M48.9 84.9h.1M40.1 69.6h.1M58.9 71.0h.1M58.2 79.8h.1M54.5 83.8h.1M39.3 72.8h.1M54.1 89.5h.1M51.0 79.5h.1M57.6 78.1h.1M47.4 70.1h.1M57.4 70.0h.1M52.9 67.4h.1M58.4 70.3h.1M56.0 66.1h.1M43.8 86.8h.1M40.3 78.5h.1M43.5 60.7h.1M50.9 81.2h.1M37.5 82.3h.1M40.4 70.5h.1M48.1 72.9h.1M69.8 66.3h.1M55.0 85.4h.1M53.3 74.4h.1M51.6 86.5h.1M44.5 70.0h.1M39.2 80.4h.1M50.2 67.6h.1M64.4 86.1h.1M56.1 69.1h.1M44.1 73.9h.1M44.1 69.6h.1M52.1 79.7h.1M51.5 74.2h.1M60.3 79.4h.1M47.5 85.2h.1M45.1 76.1h.1M41.7 83.0h.1M43.7 73.5h.1M40.9 82.2h.1M42.9 65.4h.1M53.9 72.7h.1M51.4 80.8h.1M59.4 85.8h.1M42.5 76.8h.1M35.7 90.6h.1M52.2 88.5h.1M45.0 62.6h.1M62.6 78.7h.1M49.3 78.4h.1M54.1 82.0h.1M43.0 74.5h.1M64.4 84.9h.1M44.8 64.1h.1M49.5 82.0h.1M47.2 68.7h.1M40.5 68.6h.1M50.0 84.1h.1M57.7 72.5h.1M50.2 82.2h.1M43.1 76.9h.1M68.2 79.5h.1M56.4 74.7h.1M48.4 65.1h.1M47.8 86.9h.1M67.9 87.0h.1M54.5 78.4h.1M42.3 76.8h.1M53.8 72.1h.1M56.9 70.6h.1M58.8 76.5h.1M50.1 86.7h.1M60.0 74.2h.1M60.6 80.9h.1M48.0 81.3h.1M47.0 82.6h.1M44.5 77.0h.1M57.2 88.6h.1M55.3 87.5h.1M44.2 75.7h.1M51.0 75.7h.1M43.2 90.4h.1M46.1 70.8h.1M48.8 87.2h.1M43.8 74.3h.1M41.4 76.9h.1M65.4 69.3h.1M63.6 70.4h.1M45.8 84.3h.1M54.0 80.1h.1M46.0 79.4h.1M37.1 74.4h.1M35.7 85.4h.1M45.5 82.2h.1M41.5 74.2h.1M60.2 70.7h.1M37.2 74.7h.1M56.7 71.9h.1M56.3 72.9h.1M62.2 87.9h.1M43.5 76.4h.1M40.1 79.5h.1M58.9 67.1h.1M56.7 68.1h.1M39.8 64.6h.1M68.0 78.4h.1M50.3 72.9h.1M58.1 62.2h.1M44.4 78.1h.1M54.4 71.9h.1M48.2 85.2h.1M49.8 80.8h.1M44.7 80.4h.1M48.5 88.9h.1M54.9 76.2h.1M55.2 71.1h.1M56.8 70.0h.1M43.6 79.7h.1M59.6 77.9h.1M47.0 73.9h.1M63.5 86.0h.1M47.1 67.5h.1M40.5 82.3h.1M41.1 84.7h.1M51.4 80.2h.1M54.2 81.7h.1M39.9 75.6h.1M70.2 68.9h.1M43.5 86.0h.1M46.5 71.9h.1M35.4 82.0h.1M57.7 88.5h.1M48.5 85.8h.1M38.2 79.3h.1M41.6 79.3h.1M64.2 39.5h.1M71.4 35.2h.1M66.4 32.2h.1M64.6 32.2h.1M66.2 36.0h.1M67.3 35.9h.1M67.1 34.6h.1M71.6 31.6h.1M68.6 32.3h.1M66.4 35.5h.1M70.4 28.0h.1M67.6 35.5h.1M65.5 38.1h.1M61.2 39.9h.1M64.6 33.4h.1M69.0 32.0h.1M65.0 36.5h.1M65.6 35.1h.1M63.5 37.5h.1M65.0 36.8h.1M66.7 32.0h.1M64.4 37.5h.1M66.1 34.0h.1M55.7 40.1h.1M67.0 35.3h.1M70.6 32.5h.1M59.8 42.0h.1M64.0 38.2h.1M66.6 37.5h.1M65.9 34.2h.1M66.6 37.4h.1M65.3 37.6h.1M75.4 32.2h.1M58.2 44.2h.1M66.0 32.9h.1M63.4 34.3h.1M62.2 36.4h.1M63.7 40.6h.1M74.3 30.5h.1M66.8 30.8h.1M68.0 33.3h.1M59.7 35.3h.1M64.2 42.1h.1M64.1 38.1h.1M64.3 33.1h.1M64.2 37.6h.1M66.2 42.3h.1M63.4 38.2h.1M57.8 37.0h.1M69.9 31.6h.1M69.3 35.0h.1M69.3 37.9h.1M60.7 41.0h.1M68.1 35.5h.1M61.2 35.5h.1M65.3 37.7h.1M67.0 39.0h.1M59.9 37.1h.1M64.2 34.1h.1M62.4 35.3h.1M62.6 38.6h.1M61.7 37.7h.1M73.9 34.8h.1M68.3 37.6h.1M64.9 37.8h.1M58.9 41.0h.1M58.3 36.3h.1M62.0 37.3h.1M66.3 35.1h.1M66.5 39.5h.1M73.3 30.5h.1M70.2 35.7h.1M68.1 35.1h.1M68.2 35.6h.1M61.2 37.4h.1M63.8 32.8h.1M65.7 37.9h.1M69.5 36.0h.1M71.7 26.3h.1M70.7 30.7h.1M65.6 35.3h.1M67.0 36.6h.1M66.1 31.7h.1M73.5 36.1h.1M75.0 28.7h.1M60.6 40.2h.1M69.1 33.2h.1M63.9 40.0h.1M70.4 34.4h.1M66.2 38.2h.1M59.8 38.5h.1M72.1 32.3h.1M59.6 41.5h.1M68.0 40.6h.1M71.1 34.3h.1M68.1 34.0h.1M67.4 38.5h.1M68.9 31.9h.1M72.8 32.0h.1M68.2 35.0h.1M69.6 31.8h.1M61.4 37.9h.1M64.0 38.1h.1M65.2 31.5h.1M62.1 38.4h.1M59.3 34.2h.1M69.7 26.9h.1M70.6 35.0h.1M63.5 36.9h.1M66.3 37.2h.1M67.5 35.3h.1M62.4 31.6h.1M69.1 37.0h.1M67.2 34.1h.1M67.6 32.8h.1M61.0 37.9h.1M65.9 26.7h.1M65.6 30.1h.1M74.1 32.0h.1M60.5 33.7h.1M63.0 38.6h.1M69.9 34.7h.1M70.8 28.7h.1M70.1 29.4h.1M60.6 35.2h.1M69.2 30.5h.1M64.6 35.3h.1M61.4 36.4h.1M70.3 31.0h.1M64.5 33.7h.1M67.0 39.6h.1M68.2 33.9h.1M59.6 37.8h.1M67.8 31.0h.1M64.9 37.4h.1M66.5 35.0h.1M61.9 40.4h.1M71.4 31.5h.1M66.4 37.0h.1M65.9 33.5h.1M65.4 30.7h.1M65.2 34.1h.1M62.7 34.6h.1M66.4 32.2h.1M71.0 33.7h.1M68.3 34.8h.1M70.5 32.4h.1M72.0 29.8h.1M68.7 35.0h.1M65.0 35.4h.1M62.8 37.8h.1M64.7 38.1h.1M65.8 34.5h.1M64.1 35.3h.1M65.8 38.4h.1M62.0 36.8h.1M71.0 31.6h.1M67.8 37.0h.1M67.2 33.8h.1M62.4 36.3h.1M68.8 38.0h.1M60.8 40.4h.1M63.6 34.1h.1M63.8 36.8h.1M64.4 34.8h.1M65.7 34.8h.1M66.5 38.7h.1M62.4 33.0h.1M67.8 29.6h.1M69.8 34.1h.1M63.6 35.1h.1M63.9 34.5h.1M69.8 28.7h.1M71.2 35.6h.1M72.9 33.9h.1M60.4 38.4h.1M65.3 33.9h.1M66.9 36.4h.1M67.2 37.1h.1M61.6 39.0h.1M64.6 35.9h.1M63.1 34.0h.1M64.6 36.6h.1M72.1 36.9h.1M68.7 30.9h.1M62.3 32.2h.1M67.1 30.1h.1M69.6 32.3h.1M66.1 38.1h.1M64.2 39.6h.1M63.0 35.8h.1M60.9 37.2h.1M70.4 36.4h.1M63.1 37.7h.1M64.1 38.8h.1M71.3 31.3h.1M70.8 32.2h.1M70.4 35.9h.1M62.8 35.0h.1M64.5 32.8h.1M66.5 36.3h.1M62.4 32.2h.1M67.9 35.2h.1M66.2 38.2h.1M71.8 32.7h.1M68.8 33.8h.1M65.2 37.5h.1M68.5 33.9h.1M68.8 29.3h.1M63.7 36.5h.1M71.3 29.2h.1M67.9 38.2h.1M62.8 39.5h.1M73.0 30.1h.1M64.6 37.2h.1M64.0 35.8h.1M60.8 42.7h.1M65.1 33.0h.1M57.0 39.6h.1M63.6 42.0h.1M70.1 33.1h.1M68.0 35.2h.1M67.2 39.7h.1M63.6 36.7h.1M61.1 37.6h.1M70.3 38.4h.1M68.6 32.0h.1M64.4 33.2h.1M75.7 31.5h.1M68.4 32.0h.1M66.2 32.3h.1M70.5 32.5h.1M57.3 43.0h.1M61.0 34.3h.1M64.5 32.8h.1M62.6 36.8h.1M65.7 35.1h.1M66.3 30.7h.1M61.9 34.1h.1M70.3 31.4h.1M69.1 33.7h.1M62.2 38.3h.1M65.2 35.7h.1M60.2 33.9h.1M63.3 34.3h.1M70.9 31.8h.1M68.3 35.2h.1M58.6 33.7h.1M68.8 38.7h.1M64.3 40.2h.1M63.7 32.7h.1M71.4 33.5h.1M61.2 36.3h.1M67.4 34.9h.1M72.5 29.7h.1M62.3 43.7h.1M68.7 38.3h.1M67.0 32.2h.1M76.1 30.9h.1M70.5 38.6h.1M64.9 36.4h.1M75.1 33.1h.1M67.2 33.8h.1M76.0 31.0h.1M61.2 36.6h.1M66.1 36.1h.1M62.2 37.9h.1M58.8 39.3h.1M67.8 32.6h.1M75.1 26.8h.1M62.3 38.4h.1M69.7 33.6h.1M73.7 29.2h.1M64.7 37.9h.1M70.2 34.8h.1M57.9 39.4h.1M61.0 34.2h.1M74.6 31.0h.1M66.0 35.7h.1M67.9 33.0h.1M64.9 40.6h.1M64.7 31.4h.1M61.6 39.7h.1M63.4 37.3h.1M56.7 41.6h.1M61.5 33.0h.1M67.4 32.3h.1M66.5 35.7h.1M71.2 36.4h.1M69.6 31.4h.1M63.4 33.4h.1M64.5 37.9h.1M69.6 38.0h.1M66.0 35.9h.1M67.6 29.4h.1M68.1 32.9h.1M68.7 35.4h.1M74.0 26.6h.1M75.0 32.8h.1M67.5 32.7h.1M71.5 33.9h.1M67.9 34.5h.1M75.6 31.9h.1M65.1 37.3h.1M60.7 38.1h.1M67.5 36.1h.1M63.9 35.9h.1M65.1 34.3h.1M64.3 38.9h.1M68.3 38.8h.1M71.8 30.6h.1M58.5 39.0h.1M74.1 33.5h.1M62.2 34.4h.1M61.5 35.3h.1M71.1 31.3h.1M66.4 31.8h.1M66.1 32.3h.1M65.7 35.3h.1M62.4 36.3h.1M69.6 29.1h.1M68.9 37.5h.1M61.7 36.2h.1M60.7 35.5h.1M61.4 37.2h.1M63.6 38.4h.1M67.5 35.1h.1M70.1 32.2h.1M66.9 45.9h.1M63.2 37.3h.1M71.4 34.5h.1M71.5 29.2h.1M62.9 33.8h.1M61.2 41.4h.1M67.5 32.6h.1M69.4 28.9h.1M65.0 37.6h.1M64.9 36.6h.1M68.6 34.4h.1M71.8 31.2h.1M61.7 41.7h.1M67.4 33.3h.1M62.7 42.3h.1M71.4 30.3h.1M66.6 38.2h.1M70.1 34.2h.1M70.2 38.9h.1M64.0 36.1h.1M68.6 36.3h.1M61.8 35.0h.1M63.3 33.2h.1M67.3 30.7h.1M70.4 30.3h.1M70.5 33.6h.1M62.4 36.9h.1M71.5 33.7h.1M71.6 26.0h.1M63.8 38.4h.1M61.7 37.4h.1M70.3 30.8h.1M62.7 35.3h.1M66.9 30.6h.1M71.7 33.7h.1M62.6 34.2h.1M69.5 31.2h.1M62.2 34.4h.1M63.8 30.6h.1M71.5 32.6h.1M60.8 35.4h.1M70.1 34.6h.1M66.8 33.1h.1M64.1 37.0h.1M62.5 39.7h.1M68.1 33.4h.1M64.4 32.4h.1M71.1 34.4h.1M73.6 32.8h.1M64.6 35.7h.1M64.4 37.6h.1M60.5 37.7h.1M66.5 34.1h.1M59.6 42.1h.1M69.2 32.1h.1M68.8 33.3h.1M68.0 40.2h.1M74.6 32.2h.1M63.3 35.0h.1M65.9 33.9h.1M67.0 37.3h.1M73.7 33.6h.1M69.3 37.1h.1M65.8 38.7h.1M65.0 38.8h.1M64.6 33.8h.1M64.1 38.4h.1M54.9 37.1h.1M68.1 36.7h.1M70.6 31.4h.1M59.2 43.7h.1M71.3 35.6h.1M62.1 39.9h.1M64.7 36.7h.1M68.7 31.9h.1M63.1 37.5h.1M58.0 39.6h.1M75.1 28.1h.1M65.3 36.7h.1M64.6 33.9h.1M59.0 38.0h.1M62.7 36.6h.1M72.5 34.7h.1M74.8 26.9h.1M63.7 35.8h.1M62.7 37.1h.1M70.5 38.2h.1M66.5 34.4h.1M69.2 30.9h.1M64.0 38.1h.1M65.0 34.0h.1M60.9 33.9h.1M66.8 37.8h.1M71.3 36.9h.1M66.1 33.6h.1M59.5 53.9h.1M59.7 47.6h.1M64.2 49.5h.1M69.9 57.9h.1M68.4 40.8h.1M50.7 25.0h.1M73.7 33.4h.1M60.0 41.8h.1M65.5 52.8h.1M74.6 45.0h.1M58.6 52.5h.1M77.8 42.1h.1M65.2 38.4h.1M63.0 39.2h.1M63.6 50.2h.1M62.0 50.2h.1M69.6 36.0h.1M59.5 43.9h.1M49.1 55.8h.1M74.3 42.9h.1M61.8 44.9h.1M69.1 41.6h.1M64.8 48.9h.1M69.5 41.3h.1M64.8 49.0h.1M78.8 20.3h.1M69.2 35.8h.1M69.1 46.1h.1M62.1 43.8h.1M73.7 48.9h.1M70.7 39.0h.1M59.0 51.0h.1M78.7 31.6h.1M67.6 38.4h.1M62.4 48.8h.1M71.4 43.5h.1M64.1 43.8h.1M65.5 43.8h.1M65.8 37.1h.1M61.6 36.9h.1M78.6 39.9h.1M67.2 39.6h.1M66.8 40.4h.1M66.2 41.4h.1M74.5 40.8h.1M74.3 41.8h.1M71.7 25.9h.1M60.0 45.7h.1M71.3 39.0h.1M72.0 35.7h.1M76.0 27.0h.1M71.9 39.9h.1M57.5 42.0h.1M54.7 47.1h.1M66.6 19.3h.1M57.3 49.0h.1M66.2 34.2h.1M77.9 41.1h.1M74.4 48.5h.1M56.7 29.5h.1M59.8 43.9h.1M74.2 46.7h.1M72.6 44.7h.1M62.7 37.6h.1M60.6 41.1h.1M63.6 51.9h.1M68.4 44.0h.1M61.7 42.8h.1M60.1 44.8h.1M58.5 40.1h.1M67.3 43.4h.1M68.4 34.9h.1M72.1 41.4h.1M71.8 39.1h.1M59.3 50.9h.1M75.3 32.9h.1M59.1 45.4h.1M62.7 49.8h.1M62.6 42.2h.1M67.6 37.2h.1M68.0 43.7h.1M62.4 42.0h.1M67.4 43.2h.1M71.4 28.9h.1M69.4 35.9h.1M66.3 38.5h.1M73.7 39.4h.1M57.2 35.4h.1M60.9 36.2h.1M54.7 48.4h.1M68.5 39.4h.1M66.8 39.8h.1M58.6 50.5h.1M66.4 50.7h.1M78.7 43.4h.1M66.5 49.1h.1M74.3 40.1h.1M61.4 41.0h.1M56.1 56.1h.1M68.1 40.7h.1M66.1 51.1h.1M68.2 49.7h.1M52.5 43.7h.1M64.5 34.4h.1M71.8 48.1h.1M57.8 40.1h.1M72.1 44.2h.1M68.4 37.9h.1M56.3 34.8h.1M63.3 46.9h.1M58.6 39.9h.1M67.5 34.4h.1M64.9 42.9h.1M73.2 49.8h.1M55.7 45.1h.1M77.1 45.2h.1M73.8 45.6h.1M54.9 47.5h.1M67.8 40.1h.1M66.3 32.2h.1M71.9 42.8h.1M67.5 37.9h.1M62.5 32.6h.1M47.6 38.9h.1M72.0 40.1h.1M76.2 36.3h.1M55.4 44.2h.1M59.9 37.4h.1M63.6 44.3h.1M70.9 48.4h.1M69.4 49.7h.1M57.2 39.3h.1M66.7 44.8h.1M79.7 39.3h.1M67.2 43.2h.1M71.2 36.7h.1M62.9 41.4h.1M56.2 32.2h.1M53.7 43.6h.1M73.6 25.1h.1M72.9 39.1h.1M72.2 37.5h.1M81.0 45.8h.1M71.7 52.8h.1M74.4 38.6h.1M73.7 38.6h.1M55.2 37.8h.1M67.0 29.8h.1M70.9 29.8h.1M64.8 29.6h.1M67.9 44.1h.1M70.6 31.6h.1M64.9 40.2h.1M73.4 40.9h.1M64.4 48.7h.1M75.9 48.8h.1M54.8 48.8h.1M71.9 45.7h.1M72.1 38.5h.1M62.6 38.2h.1M60.3 32.9h.1M60.1 29.3h.1M60.3 60.1h.1M60.7 49.1h.1M66.2 52.1h.1M64.5 50.7h.1M72.8 38.0h.1M63.7 32.9h.1M74.1 36.8h.1M54.2 40.7h.1M63.0 57.0h.1M66.0 36.9h.1M70.7 45.0h.1M63.2 34.1h.1M55.0 33.7h.1M70.4 46.9h.1M67.8 46.1h.1M66.5 46.9h.1M61.5 38.1h.1M66.9 39.5h.1M66.4 55.0h.1M60.4 39.9h.1M69.1 36.2h.1M60.0 50.0h.1M62.9 37.3h.1M62.5 47.1h.1M66.7 41.2h.1M56.1 49.4h.1M62.3 55.7h.1M69.6 45.2h.1M63.0 36.7h.1M63.4 35.5h.1M63.3 43.8h.1M66.6 47.7h.1M84.3 25.5h.1M76.5 32.0h.1M71.2 36.7h.1M51.0 40.8h.1M64.6 41.7h.1M79.1 33.6h.1M63.6 38.9h.1M84.1 51.3h.1M60.2 30.9h.1M69.4 34.3h.1M67.7 38.6h.1M74.1 37.7h.1M62.6 32.4h.1M68.7 34.9h.1M63.5 47.7h.1M67.9 39.3h.1M73.9 51.2h.1M71.4 39.7h.1M57.8 40.7h.1M65.7 42.7h.1M71.1 41.0h.1M65.4 51.6h.1M67.9 40.8h.1M48.4 48.9h.1M68.7 46.1h.1M68.1 44.7h.1M68.4 45.3h.1M58.1 47.0h.1M64.7 41.8h.1M68.1 38.7h.1M75.4 38.2h.1M64.3 57.8h.1M54.8 43.6h.1M54.6 46.1h.1M74.5 48.9h.1M75.5 38.9h.1M63.8 41.9h.1M72.6 38.1h.1M73.1 43.1h.1M53.3 41.5h.1M67.3 36.8h.1M67.5 29.6h.1M64.6 40.6h.1M72.6 29.7h.1M57.8 38.5h.1M78.0 43.0h.1M51.7 41.0h.1M75.0 35.3h.1M71.3 33.4h.1M70.9 41.0h.1M70.0 17.5h.1M77.1 38.8h.1M59.3 32.6h.1M66.5 46.8h.1M65.9 38.2h.1M69.0 48.7h.1M67.5 44.2h.1M64.6 39.1h.1M72.1 37.2h.1M66.5 38.3h.1M63.1 48.2h.1M54.3 38.7h.1M60.4 41.4h.1M90.8 39.8h.1M104.5 63.0h.1M88.9 41.1h.1M94.3 49.4h.1M89.1 69.8h.1M93.8 27.2h.1M98.4 49.0h.1M112.6 56.8h.1M93.4 45.2h.1M97.3 27.8h.1M96.6 59.4h.1M99.0 63.1h.1M101.4 67.0h.1M92.0 36.7h.1M83.9 31.7h.1M103.8 51.7h.1M99.2 72.5h.1M89.6 46.8h.1M101.2 60.6h.1M101.6 41.4h.1M85.1 56.9h.1M99.2 57.8h.1M94.2 44.6h.1M110.0 69.0h.1M91.5 71.6h.1M103.1 40.6h.1M91.2 35.0h.1M108.4 26.3h.1M101.8 61.5h.1M94.8 51.9h.1M101.3 43.9h.1M105.2 39.7h.1M90.9 43.6h.1M97.9 64.6h.1M95.2 55.9h.1M98.9 21.7h.1M103.6 32.2h.1M83.0 31.5h.1M100.8 52.4h.1M89.2 51.0h.1M88.3 60.5h.1M91.6 43.9h.1M103.0 44.0h.1M100.7 41.1h.1M86.4 58.4h.1M93.6 35.3h.1M99.0 41.7h.1M100.5 25.4h.1M97.1 58.0h.1M96.1 32.4h.1M100.9 42.2h.1M102.4 47.5h.1M107.0 42.9h.1M88.0 22.0h.1M87.6 55.8h.1M89.9 58.6h.1M91.3 50.7h.1M98.2 43.6h.1M94.8 48.0h.1M99.8 74.8h.1M102.9 36.8h.1M106.8 58.1h.1M92.9 71.0h.1M106.5 61.0h.1M99.2 48.9h.1M90.4 13.4h.1M87.0 71.5h.1M98.9 42.4h.1M109.4 54.9h.1M95.9 27.8h.1M89.3 60.1h.1M110.5 47.4h.1M102.6 64.5h.1M93.8 17.8h.1M95.8 53.8h.1M118.8 46.3h.1M90.6 47.0h.1M95.6 52.1h.1M96.6 45.3h.1M100.0 58.1h.1M95.3 34.7h.1M94.8 55.0h.1M104.1 62.3h.1M98.7 36.9h.1M110.4 71.8h.1M103.7 47.8h.1M86.8 41.8h.1M99.8 55.5h.1M97.9 55.2h.1M94.3 53.2h.1M103.8 54.2h.1M103.1 47.8h.1M90.2 28.3h.1M111.2 65.2h.1M97.0 52.1h.1M98.7 33.6h.1M88.1 59.2h.1M101.5 55.4h.1M90.2 55.0h.1M87.7 56.4h.1M100.0 66.8h.1M105.6 34.2h.1M94.2 63.2h.1M92.9 76.0h.1M106.0 52.0h.1M102.0 21.2h.1M97.3 48.2h.1M98.7 35.9h.1M89.6 36.3h.1M88.5 44.4h.1M90.0 68.7h.1M94.5 40.1h.1M103.0 48.6h.1M96.3 59.0h.1M97.3 44.4h.1M103.2 58.4h.1M82.7 44.1h.1M106.3 74.1h.1M100.1 51.9h.1M90.0 43.4h.1M95.6 45.2h.1M86.8 42.4h.1M101.2 44.9h.1M97.1 43.1h.1M93.9 24.3h.1M88.9 48.3h.1M98.5 28.0h.1M100.0 39.0h.1M101.4 43.6h.1M86.7 45.9h.1M95.1 48.2h.1M95.1 57.2h.1M103.0 43.8h.1M104.0 62.5h.1M101.7 61.2h.1M104.4 57.7h.1M98.4 53.8h.1M114.3 49.2h.1M95.9 49.3h.1M96.9 44.7h.1M89.9 52.6h.1M97.5 25.1h.1M97.6 29.6h.1M105.6 50.0h.1M101.8 68.8h.1M88.8 43.1h.1M96.9 39.5h.1M95.8 24.2h.1M101.9 48.5h.1M97.9 44.9h.1M93.5 40.5h.1M96.5 27.7h.1M100.3 67.5h.1M91.1 54.0h.1M93.7 66.6h.1M99.1 58.5h.1M103.6 36.9h.1M98.8 49.1h.1M97.8 54.4h.1M100.3 44.2h.1M97.5 44.1h.1M86.5 41.9h.1M93.4 41.2h.1M105.7 48.5h.1M96.6 28.7h.1M87.9 23.1h.1M81.4 44.3h.1M96.6 26.6h.1M96.8 50.0h.1M111.6 38.1h.1M91.4 47.6h.1M103.5 68.7h.1M105.4 43.8h.1M102.1 50.5h.1M90.6 52.4h.1M99.6 60.5h.1M91.2 37.4h.1M95.9 60.7h.1M102.1 49.2h.1M87.1 51.5h.1M104.7 56.1h.1M109.6 58.4h.1M103.3 52.9h.1M97.2 68.2h.1M111.3 68.8h.1M111.1 57.3h.1M92.3 59.7h.1M101.0 62.4h.1M99.0 53.9h.1M102.8 65.0h.1M100.1 40.4h.1M93.2 58.2h.1M94.4 44.0h.1M99.3 41.5h.1M111.7 60.0h.1M105.8 62.7h.1M107.9 61.9h.1M101.9 44.1h.1M96.9 52.9h.1M93.5 43.9h.1M88.7 46.5h.1M97.9 55.3h.1M100.0 50.1h.1M94.2 58.0h.1M86.3 48.7h.1M81.7 23.6h.1M86.5 68.5h.1M108.2 53.8h.1M108.3 42.5h.1M106.0 70.6h.1M104.3 77.1h.1M100.4 40.0h.1M88.0 44.5h.1M112.2 32.3h.1M96.8 42.6h.1M97.8 41.0h.1M94.5 46.5h.1M86.5 35.4h.1M98.8 40.0h.1M107.1 73.4h.1M102.9 70.7h.1M88.4 48.9h.1M82.8 50.5h.1M108.6 44.6h.1M105.8 52.5h.1M87.7 45.5h.1M94.4 43.7h.1M112.6 62.5h.1M94.4 40.6h.1M95.1 47.7h.1M97.0 34.3h.1M100.7 53.4h.1M95.6 34.9h.1M102.2 27.9h.1M94.7 37.2h.1M93.2 44.3h.1M84.4 37.7h.1M101.3 69.9h.1M112.5 51.2h.1M101.5 47.8h.1M106.0 48.9h.1M100.4 55.2h.1M99.4 46.1h.1M84.6 64.6h.1M94.7 48.1h.1M83.8 47.0h.1M92.7 58.6h.1M94.0 47.0h.1M92.9 29.6h.1M89.3 27.9h.1M97.4 45.6h.1M96.9 50.1h.1M103.0 74.7h.1M92.2 35.1h.1M95.8 41.6h.1M91.2 42.7h.1M99.8 69.1h.1M95.7 45.5h.1M107.2 45.9h.1M106.0 54.4h.1M96.7 11.8h.1M112.5 60.9h.1M85.9 50.8h.1M94.3 56.8h.1M91.6 28.3h.1M107.2 61.3h.1M91.3 58.7h.1M92.3 80.3h.1M87.7 49.4h.1M102.3 64.9h.1M99.4 60.0h.1M98.9 48.5h.1M102.7 26.2h.1M96.1 60.6h.1M99.9 49.1h.1M102.5 68.0h.1M94.4 50.3h.1M92.1 31.8h.1M96.2 50.5h.1M103.1 49.9h.1M100.2 54.5h.1M99.8 57.3h.1M101.1 48.9h.1M104.7 28.1h.1M102.3 33.6h.1M105.6 49.0h.1M91.4 50.5h.1M100.3 62.3h.1M98.6 50.9h.1M104.6 61.1h.1M87.4 53.3h.1M98.2 44.7h.1M102.5 70.9h.1M106.1 47.8h.1M97.6 48.3h.1M87.7 52.4h.1M101.9 60.8h.1M89.7 46.9h.1M107.8 51.3h.1M89.9 42.6h.1M87.3 55.6h.1M92.5 23.3h.1M95.3 41.5h.1M99.7 42.8h.1M93.6 47.4h.1M101.8 43.8h.1M105.2 60.6h.1M75.9 60.0h.1M94.7 37.8h.1M87.0 53.1h.1M101.6 66.5h.1M98.5 42.1h.1M92.4 46.0h.1M95.4 56.0h.1M92.1 33.2h.1M90.4 49.0h.1M91.8 65.5h.1M106.0 70.2h.1M97.9 38.3h.1M97.9 64.0h.1M97.5 35.4h.1M89.8 74.5h.1M98.7 56.4h.1M95.2 48.6h.1M104.9 45.3h.1M91.8 57.5h.1M90.7 69.2h.1M100.0 57.6h.1M101.8 63.9h.1M99.0 62.5h.1M101.5 61.2h.1M95.5 76.0h.1M102.5 63.8h.1M94.3 52.3h.1M88.3 56.1h.1M101.6 33.0h.1M106.4 30.3h.1M99.5 46.4h.1M101.1 50.5h.1M95.3 46.7h.1M105.2 47.7h.1M108.1 62.7h.1M97.1 54.4h.1M100.8 29.3h.1M96.2 60.2h.1M107.9 58.8h.1M105.5 50.4h.1M86.4 54.6h.1M94.8 44.5h.1M92.7 56.7h.1M91.0 45.2h.1M98.6 49.4h.1M104.7 61.1h.1M100.0 51.7h.1M99.0 51.1h.1M82.5 69.9h.1M100.1 47.6h.1M91.7 64.1h.1M104.4 53.5h.1M84.4 45.7h.1M89.4 46.3h.1M92.9 58.2h.1M101.0 71.1h.1M93.8 40.5h.1M99.7 36.6h.1M98.2 67.9h.1M92.6 61.5h.1M114.4 52.2h.1M105.2 32.3h.1M86.3 65.1h.1M89.9 33.3h.1M96.2 61.7h.1M102.8 47.4h.1M99.8 51.1h.1M105.6 45.3h.1M108.9 39.5h.1M92.2 46.3h.1M101.9 57.3h.1M97.5 26.0h.1M90.9 34.2h.1M93.0 59.8h.1M95.8 54.3h.1M99.5 73.1h.1M89.2 36.4h.1M98.0 38.9h.1M104.8 49.2h.1M99.1 51.7h.1M97.5 53.7h.1M103.8 52.8h.1M95.1 59.5h.1M90.6 29.1h.1M81.1 54.6h.1M100.6 43.8h.1M89.7 43.6h.1M109.4 69.9h.1M106.9 45.8h.1M91.5 65.9h.1M94.3 82.4h.1M90.1 47.2h.1M88.9 51.4h.1M105.4 48.9h.1M96.3 52.4h.1M93.4 68.7h.1M96.9 61.4h.1M98.4 52.2h.1M97.7 51.2h.1M93.1 40.6h.1M97.6 54.9h.1M91.8 36.0h.1M96.8 41.3h.1M98.7 51.6h.1M97.3 41.7h.1M76.4 34.8h.1M86.3 49.8h.1M88.5 38.8h.1M90.1 57.7h.1M94.7 53.0h.1M85.6 35.5h.1M100.9 54.6h.1M111.2 57.5h.1M99.9 52.4h.1M98.3 47.7h.1M91.1 45.6h.1M86.9 74.3h.1M101.0 52.0h.1M91.1 51.6h.1M94.2 47.1h.1M96.1 36.3h.1M93.3 44.6h.1M90.9 57.9h.1M93.8 54.7h.1M98.4 54.1h.1M91.0 52.5h.1M90.8 40.2h.1M102.8 50.6h.1M95.1 62.2h.1M86.4 50.9h.1M89.1 22.9h.1M86.0 41.9h.1M99.2 27.3h.1M85.0 40.3h.1M101.0 76.5h.1M101.7 44.6h.1M107.5 38.8h.1M86.7 31.2h.1M91.9 47.6h.1M87.7 66.6h.1M98.2 39.9h.1M104.8 54.8h.1M112.8 51.5h.1M98.0 42.9h.1M96.0 59.1h.1M93.7 45.4h.1M88.8 41.6h.1M85.9 42.9h.1M86.6 54.1h.1M111.1 72.2h.1M96.9 61.9h.1M105.0 40.8h.1M101.2 50.3h.1M103.7 39.3h.1M97.0 38.9h.1M90.8 28.2h.1M94.5 54.7h.1M102.1 42.6h.1M105.6 46.8h.1M98.5 19.2h.1M87.0 55.4h.1M101.8 32.4h.1M91.6 36.1h.1M95.4 55.8h.1M91.6 54.6h.1M104.9 51.3h.1M82.3 53.6h.1M98.2 56.1h.1M105.7 36.7h.1M108.2 26.5h.1M107.3 39.9h.1M87.9 48.7h.1M99.5 49.3h.1M78.0 66.5h.1M87.4 55.3h.1M71.2 59.9h.1M82.0 46.7h.1M75.3 66.1h.1M79.6 45.1h.1M62.1 55.2h.1M73.8 53.6h.1M92.8 48.5h.1M85.4 64.6h.1M59.2 68.7h.1M74.1 69.0h.1M79.0 49.5h.1M63.8 64.1h.1M77.3 55.5h.1M76.9 53.1h.1M77.1 68.7h.1M75.8 47.4h.1M72.0 49.1h.1M88.2 61.0h.1M61.0 72.3h.1M89.9 56.0h.1M93.6 41.0h.1M68.9 70.0h.1M82.8 40.2h.1M71.2 61.8h.1M84.6 56.5h.1M75.3 43.1h.1M69.2 58.1h.1M81.1 44.2h.1M73.1 54.1h.1M72.2 59.2h.1M68.0 61.1h.1M75.7 42.4h.1M89.9 55.5h.1M48.7 66.9h.1M87.9 53.6h.1M71.7 56.1h.1M71.3 48.5h.1M84.2 60.9h.1M64.4 65.4h.1M82.1 58.6h.1M71.2 66.3h.1M85.7 55.3h.1M67.6 58.6h.1M91.0 53.0h.1M79.1 65.0h.1M75.0 54.2h.1M77.7 49.1h.1M83.6 49.0h.1M86.5 61.2h.1M87.9 50.4h.1M88.8 62.8h.1M74.6 56.7h.1M71.9 62.3h.1M88.1 63.7h.1M79.3 71.3h.1M71.9 68.3h.1M72.9 51.9h.1M72.8 61.8h.1M72.7 61.1h.1M79.8 47.9h.1M77.6 68.8h.1M82.3 58.5h.1M63.8 60.3h.1M76.5 49.2h.1M69.7 65.5h.1M75.4 45.4h.1M83.5 62.3h.1M78.9 53.5h.1M68.2 53.9h.1M80.1 61.3h.1M81.2 48.5h.1M75.8 58.3h.1M80.9 57.5h.1M72.7 53.4h.1M85.3 56.5h.1M74.5 71.5h.1M89.2 59.3h.1M71.9 61.6h.1M77.5 65.0h.1M59.7 61.3h.1M72.8 60.1h.1M84.3 63.1h.1M67.6 56.2h.1M81.3 57.4h.1M92.8 54.9h.1M79.4 58.2h.1M82.5 69.9h.1M76.4 55.8h.1M62.2 64.2h.1M76.9 46.8h.1M70.5 65.1h.1M75.0 61.2h.1M76.1 52.4h.1M86.1 55.9h.1M83.5 67.7h.1M82.3 50.7h.1M91.7 60.0h.1M91.0 55.4h.1M66.1 64.7h.1M64.0 49.4h.1M74.7 46.1h.1M76.8 58.7h.1M88.0 58.9h.1M73.2 56.6h.1M76.5 46.5h.1M87.9 68.8h.1M85.4 56.2h.1M85.6 59.3h.1M73.7 58.8h.1M90.4 45.1h.1M67.6 62.8h.1M71.2 58.4h.1M94.7 50.0h.1M73.3 56.1h.1M82.2 57.4h.1M84.2 56.5h.1M70.5 43.1h.1M76.9 53.5h.1M86.4 55.5h.1M84.1 58.2h.1M69.9 64.5h.1M87.6 45.1h.1M69.8 61.2h.1M84.2 52.8h.1M75.1 62.0h.1M69.7 56.5h.1M79.3 54.8h.1M70.1 45.6h.1M74.7 48.8h.1M73.1 74.3h.1M67.8 71.6h.1M85.7 60.6h.1M82.1 60.2h.1M83.0 49.5h.1M81.3 70.5h.1M87.1 70.6h.1M51.0 65.4h.1M74.6 52.2h.1M77.1 54.0h.1M82.4 63.0h.1M71.6 64.4h.1M78.5 58.5h.1M79.3 61.8h.1M80.0 60.7h.1M91.6 55.2h.1M64.8 68.4h.1M94.6 57.9h.1M69.0 38.9h.1M82.2 60.1h.1M79.8 67.1h.1M73.6 61.9h.1M89.5 40.7h.1M79.3 62.7h.1M83.9 48.7h.1M66.8 49.5h.1M92.7 45.9h.1M74.2 56.5h.1M96.5 45.5h.1M91.2 54.4h.1M79.9 58.8h.1M70.9 58.3h.1M76.3 69.5h.1M80.1 67.7h.1M86.6 59.7h.1M72.0 53.7h.1M76.6 54.4h.1M82.8 55.4h.1M68.3 61.8h.1M71.3 50.1h.1M81.7 65.1h.1M73.4 65.0h.1M78.4 49.4h.1M73.6 49.7h.1M91.6 56.6h.1M92.4 63.2h.1M91.2 52.6h.1M88.1 52.5h.1M86.5 52.4h.1M77.5 54.4h.1M79.9 69.3h.1M86.2 59.7h.1M77.3 58.2h.1M52.0 57.4h.1M76.4 43.8h.1M79.7 54.8h.1M48.9 80.6h.1M68.8 75.1h.1M83.5 58.2h.1M65.4 68.0h.1M78.3 61.9h.1M86.9 45.0h.1M77.5 62.8h.1M84.1 51.0h.1M78.4 56.3h.1M72.9 62.3h.1M71.2 50.6h.1M87.8 54.0h.1M91.9 50.7h.1M99.1 29.2h.1M90.5 64.1h.1M87.9 41.8h.1M93.5 40.5h.1M91.6 54.7h.1M93.6 72.9h.1M93.5 39.6h.1M105.6 36.8h.1M96.8 43.7h.1M108.4 63.4h.1M98.1 70.8h.1M91.7 33.4h.1M110.7 27.4h.1M102.5 40.7h.1M108.3 41.4h.1M90.0 61.9h.1M112.2 58.7h.1M102.1 61.9h.1M94.2 44.9h.1M90.5 46.6h.1M86.0 71.2h.1M84.0 28.3h.1M88.9 27.0h.1M92.3 26.8h.1M98.9 65.2h.1M94.9 50.9h.1M84.4 59.4h.1M87.3 57.4h.1M83.6 65.0h.1M84.2 51.4h.1M91.9 41.8h.1M102.2 31.4h.1M87.6 45.7h.1M109.5 35.4h.1M112.6 70.5h.1M101.5 62.6h.1M84.4 39.7h.1M88.4 50.5h.1M98.3 48.5h.1M111.0 55.0h.1M112.5 71.5h.1M105.1 39.2h.1M109.7 55.5h.1M85.9 50.2h.1M98.2 71.8h.1M97.3 36.5h.1M89.5 57.1h.1M99.9 30.4h.1M99.9 52.1h.1M112.1 72.1h.1M85.0 60.5h.1M92.0 27.5h.1M88.1 73.2h.1M89.7 51.9h.1M92.6 53.8h.1M94.1 71.4h.1M111.7 54.1h.1M92.9 36.6h.1M97.5 46.6h.1M88.0 62.0h.1M89.6 45.0h.1M89.5 34.1h.1M100.1 44.7h.1M92.0 30.9h.1M91.3 30.8h.1M98.7 31.8h.1M83.5 50.5h.1M108.9 41.4h.1M84.5 34.6h.1M95.3 61.5h.1M112.7 55.4h.1M88.0 65.4h.1M84.4 33.7h.1M97.6 55.8h.1M101.9 38.6h.1M94.5 49.8h.1M89.6 47.4h.1M103.7 54.0h.1M100.7 53.4h.1M93.4 70.1h.1M101.5 56.0h.1M108.2 42.9h.1M98.4 64.1h.1M94.6 33.7h.1M101.5 63.2h.1M98.1 53.7h.1M86.0 38.5h.1M110.1 62.1h.1M86.7 31.5h.1M105.3 27.7h.1M96.0 39.0h.1M106.5 50.2h.1M98.7 56.3h.1M107.6 41.1h.1M97.1 53.8h.1M90.4 73.1h.1M106.1 73.9h.1M107.8 60.6h.1M98.1 40.5h.1M110.9 48.9h.1M104.2 64.8h.1M111.0 68.6h.1M88.9 71.7h.1M111.3 44.6h.1M106.0 42.2h.1M111.3 42.1h.1M93.5 63.7h.1M99.7 71.9h.1M109.8 53.0h.1M103.2 47.3h.1M91.7 58.0h.1M91.7 46.2h.1M111.4 53.4h.1M103.1 35.0h.1M84.6 30.8h.1M90.8 45.5h.1M99.7 38.9h.1M88.7 33.3h.1M97.0 72.3h.1M103.0 59.4h.1M85.5 44.6h.1M90.6 73.6h.1M109.4 31.1h.1M84.2 42.7h.1M86.3 68.4h.1M107.6 72.5h.1M103.3 64.1h.1M97.1 34.9h.1M108.8 53.2h.1M89.3 29.4h.1M83.2 29.0h.1M107.4 67.4h.1M102.1 26.1h.1M93.1 30.7h.1M100.4 31.1h.1M85.4 60.2h.1M92.4 56.2h.1M100.1 36.4h.1M108.3 45.7h.1M92.5 71.7h.1M84.8 36.1h.1M85.6 29.3h.1M92.2 57.0h.1M101.8 31.2h.1M104.2 52.7h.1M103.8 38.2h.1M109.2 27.6h.1M103.5 57.6h.1M103.1 62.1h.1M100.8 41.1h.1M103.0 33.6h.1M104.9 72.9h.1M112.3 37.7h.1M88.4 37.8h.1M102.3 43.6h.1M86.7 37.5h.1M89.2 37.8h.1M110.8 70.4h.1M95.1 29.9h.1M100.0 66.1h.1M89.3 51.7h.1M98.3 27.7h.1M83.7 33.2h.1M100.4 57.5h.1M111.6 52.9h.1M103.6 37.6h.1M103.0 40.0h.1M99.6 70.5h.1M92.6 61.4h.1M106.2 57.8h.1M94.7 70.4h.1M93.1 37.1h.1M99.4 41.8h.1M112.2 66.2h.1M105.0 47.1h.1M103.2 47.4h.1M86.8 64.8h.1M107.2 74.0h.1M95.7 68.6h.1M101.9 63.0h.1M99.8 47.4h.1M106.6 59.9h.1M84.0 36.8h.1M85.9 38.2h.1M91.4 35.8h.1M89.1 58.7h.1M103.4 71.5h.1M86.5 62.3h.1M85.8 38.8h.1M98.9 57.7h.1M64.9 69.7h.1M104.9 15.8h.1M76.3 11.1h.1M56.4 13.4h.1M59.9 68.7h.1M42.5 69.4h.1M65.8 59.7h.1M64.0 47.6h.1M74.0 45.4h.1M90.9 56.6h.1M113.8 15.5h.1M104.4 73.4h.1M83.8 71.9h.1M65.8 63.8h.1M49.7 26.3h.1M85.2 24.5h.1M40.7 89.0h.1M39.8 86.4h.1M89.6 69.5h.1M49.2 72.6h.1M107.0 45.0h.1M91.9 80.3h.1M79.6 64.6h.1M114.4 43.3h.1M46.4 63.8h.1M61.5 13.1h.1M78.2 39.7h.1M116.9 77.5h.1M42.0 46.8h.1M86.2 53.3h.1M113.0 53.7h.1M47.5 85.9h.1M94.8 23.3h.1M93.7 63.8h.1M65.7 44.3h.1M80.6 26.2h.1M114.3 10.5h.1M74.8 57.9h.1M73.9 21.9h.1M83.0 55.5h.1M38.0 42.6h.1M103.7 40.6h.1M39.6 81.3h.1M118.0 14.0h.1M117.3 53.7h.1M104.5 41.3h.1M111.0 19.2h.1M87.3 39.7h.1M61.1 79.5h.1M86.3 23.1h.1M92.7 63.7h.1M47.3 29.0h.1M100.8 50.2h.1M61.0 52.8h.1M78.6 12.4h.1M57.8 74.5h.1M59.1 38.3h.1M109.4 24.1h.1M100.4 23.9h.1M40.6 89.5h.1M100.5 85.9h.1M113.5 46.0h.1M94.8 29.2h.1M93.8 66.1h.1M57.6 10.9h.1M94.4 78.8h.1M67.3 6.9h.1M113.3 10.6h.1M94.8 34.6h.1M62.6 44.9h.1M110.0 6.8h.1M100.7 30.5h.1M52.3 89.3h.1M53.4 71.6h.1M36.4 11.3h.1M100.4 80.3h.1M42.6 45.7h.1M58.6 89.8h.1M97.5 33.5h.1M61.1 32.5h.1M59.5 63.7h.1M40.9 47.5h.1M39.6 29.7h.1M83.6 50.6h.1M47.0 60.1h.1M116.7 32.7h.1M37.5 75.9h.1M62.0 69.5h.1M50.8 69.9h.1M111.3 62.1h.1" stroke="#111" stroke-width="0.85" stroke-linecap="square" stroke-opacity="0.85" fill="none"/>
<ellipse cx="54.8" cy="171.4" rx="14" ry="11.5" fill="url(#blob)" opacity="0.58"/>
<ellipse cx="67.4" cy="125.8" rx="8" ry="5.5" fill="url(#blob)" opacity="0.7" transform="rotate(-40 67.4 125.79999999999998)"/>
<ellipse cx="97.6" cy="142.4" rx="12.5" ry="20" fill="url(#blob)" opacity="0.78"/>
<path d="M61.9 169.2h.1M58.7 172.9h.1M55.4 170.9h.1M57.9 165.2h.1M72.2 182.4h.1M49.2 160.8h.1M59.4 174.9h.1M48.0 171.8h.1M47.4 167.6h.1M52.1 172.2h.1M56.0 178.4h.1M49.5 174.3h.1M56.1 177.5h.1M61.7 176.4h.1M74.8 174.4h.1M51.8 167.3h.1M57.9 163.5h.1M44.3 169.8h.1M55.0 173.5h.1M50.6 177.1h.1M57.3 164.1h.1M54.7 178.2h.1M52.8 167.9h.1M51.5 170.3h.1M55.0 162.4h.1M60.2 177.2h.1M56.4 173.8h.1M43.5 164.4h.1M55.3 168.2h.1M59.9 173.0h.1M69.5 166.0h.1M47.0 167.1h.1M48.1 168.8h.1M53.3 174.2h.1M53.5 163.9h.1M49.8 163.5h.1M49.1 182.8h.1M51.7 179.0h.1M56.7 175.4h.1M54.5 173.3h.1M63.1 169.8h.1M56.7 163.3h.1M59.8 177.0h.1M61.5 169.2h.1M62.6 175.4h.1M57.7 173.3h.1M53.1 180.6h.1M62.5 163.7h.1M54.9 171.2h.1M58.0 163.6h.1M48.4 168.1h.1M59.2 164.3h.1M52.7 169.9h.1M47.7 165.7h.1M63.4 175.7h.1M60.7 176.1h.1M63.0 174.1h.1M57.2 172.0h.1M60.7 169.3h.1M57.2 169.0h.1M55.2 169.8h.1M70.4 177.7h.1M46.0 168.9h.1M50.8 171.9h.1M61.4 166.7h.1M48.3 174.0h.1M51.1 171.8h.1M53.2 170.3h.1M53.9 170.8h.1M55.5 166.2h.1M58.6 175.9h.1M62.8 161.4h.1M59.5 160.7h.1M41.9 169.3h.1M52.7 166.6h.1M63.3 173.8h.1M57.1 168.0h.1M53.2 174.2h.1M53.9 165.1h.1M69.5 177.7h.1M58.9 175.5h.1M41.8 174.3h.1M51.5 175.8h.1M45.0 167.1h.1M52.1 174.6h.1M56.8 169.4h.1M60.4 173.7h.1M57.9 176.9h.1M54.7 179.2h.1M50.3 162.5h.1M49.4 166.7h.1M45.7 170.0h.1M54.4 174.7h.1M58.4 174.6h.1M53.3 169.8h.1M55.0 165.9h.1M54.4 164.5h.1M50.5 171.9h.1M52.0 167.0h.1M36.6 162.0h.1M56.0 167.7h.1M47.2 165.4h.1M51.0 164.5h.1M54.1 169.0h.1M50.0 167.7h.1M59.9 176.1h.1M64.8 170.7h.1M54.2 161.0h.1M51.3 167.7h.1M60.6 175.3h.1M52.4 167.2h.1M54.7 175.7h.1M50.6 169.3h.1M62.0 169.5h.1M57.6 176.4h.1M50.9 171.4h.1M47.0 166.4h.1M58.3 171.0h.1M47.2 157.0h.1M52.4 172.8h.1M50.1 181.9h.1M46.2 171.8h.1M59.7 176.4h.1M57.3 172.9h.1M54.7 168.9h.1M47.8 177.2h.1M48.1 169.7h.1M65.0 181.9h.1M48.6 167.8h.1M56.7 175.9h.1M58.5 177.5h.1M63.6 170.6h.1M57.7 165.1h.1M53.9 174.0h.1M61.3 179.5h.1M57.3 175.7h.1M54.5 169.0h.1M61.6 165.5h.1M60.8 170.2h.1M42.6 171.6h.1M61.9 179.1h.1M54.2 169.4h.1M50.4 173.9h.1M59.0 172.1h.1M55.8 166.8h.1M53.9 170.8h.1M60.8 169.8h.1M51.2 174.7h.1M54.5 167.0h.1M49.8 170.4h.1M48.8 175.2h.1M60.8 173.6h.1M60.3 169.5h.1M40.5 170.3h.1M65.0 178.5h.1M56.0 178.3h.1M54.6 170.7h.1M53.2 173.0h.1M55.1 170.6h.1M54.7 174.3h.1M61.9 174.8h.1M56.5 169.9h.1M52.8 163.9h.1M58.8 168.9h.1M52.3 168.1h.1M53.7 173.3h.1M63.9 178.1h.1M60.0 172.6h.1M53.9 175.6h.1M46.7 177.5h.1M54.6 169.1h.1M56.6 176.0h.1M44.1 168.8h.1M57.9 174.5h.1M53.1 171.1h.1M64.4 162.5h.1M56.1 177.9h.1M57.8 161.3h.1M58.4 163.5h.1M42.0 167.0h.1M60.7 178.6h.1M58.6 176.4h.1M57.0 166.4h.1M53.3 163.9h.1M46.3 168.2h.1M64.8 166.5h.1M41.9 173.6h.1M59.4 182.5h.1M54.2 170.3h.1M55.9 170.8h.1M45.6 168.4h.1M51.5 164.4h.1M58.8 168.7h.1M53.7 173.3h.1M54.5 168.4h.1M58.1 177.7h.1M51.0 182.0h.1M58.3 177.4h.1M56.0 168.2h.1M46.1 168.5h.1M61.0 172.8h.1M50.9 163.4h.1M44.9 170.9h.1M53.9 178.5h.1M42.7 169.5h.1M50.1 179.4h.1M47.3 163.4h.1M56.5 171.3h.1M60.3 166.2h.1M49.0 169.6h.1M51.4 177.7h.1M58.4 173.0h.1M53.9 169.0h.1M54.0 175.4h.1M52.2 177.6h.1M59.1 174.7h.1M64.0 175.2h.1M56.5 179.7h.1M49.1 171.9h.1M40.4 173.0h.1M51.7 166.6h.1M63.9 175.6h.1M58.3 169.8h.1M59.9 165.1h.1M47.7 162.4h.1M57.9 176.1h.1M63.2 180.4h.1M49.5 167.7h.1M62.5 172.6h.1M63.7 183.1h.1M55.9 168.3h.1M59.4 176.8h.1M47.9 161.8h.1M61.9 165.4h.1M50.2 170.5h.1M40.8 164.8h.1M59.0 169.7h.1M52.7 162.0h.1M49.6 170.7h.1M59.8 169.1h.1M44.4 177.1h.1M56.6 175.3h.1M45.0 164.0h.1M58.8 166.9h.1M55.9 171.7h.1M58.9 169.6h.1M67.5 170.1h.1M59.7 177.3h.1M59.7 169.3h.1M49.5 172.4h.1M60.8 171.0h.1M49.9 171.5h.1M59.6 175.1h.1M52.7 176.8h.1M58.5 178.1h.1M54.1 165.9h.1M46.3 172.8h.1M63.9 170.8h.1M55.3 176.1h.1M51.3 169.6h.1M45.3 169.7h.1M40.2 180.5h.1M58.8 159.5h.1M59.9 168.1h.1M54.0 171.9h.1M65.0 169.9h.1M56.9 171.6h.1M54.6 171.6h.1M55.0 166.2h.1M53.0 176.6h.1M46.9 170.7h.1M58.3 168.7h.1M45.2 170.3h.1M62.0 162.9h.1M64.4 165.3h.1M46.3 169.0h.1M60.2 172.6h.1M35.4 169.8h.1M63.8 175.0h.1M66.4 167.3h.1M48.7 182.4h.1M44.5 167.4h.1M56.8 173.7h.1M51.1 161.9h.1M49.6 178.4h.1M50.2 177.9h.1M57.8 175.8h.1M42.5 171.9h.1M56.0 177.2h.1M62.1 167.0h.1M48.4 176.7h.1M51.8 163.3h.1M47.7 172.3h.1M63.0 161.4h.1M46.2 172.9h.1M55.1 162.1h.1M62.5 180.8h.1M48.5 171.7h.1M55.6 174.3h.1M59.0 171.8h.1M60.0 175.5h.1M55.6 177.4h.1M51.7 165.7h.1M45.0 161.0h.1M49.5 175.5h.1M50.9 157.5h.1M45.6 174.5h.1M49.9 156.9h.1M59.5 173.2h.1M54.9 179.4h.1M56.7 179.5h.1M54.1 163.1h.1M62.4 172.4h.1M52.1 176.1h.1M54.1 176.6h.1M71.7 161.9h.1M56.1 174.9h.1M59.3 168.0h.1M47.9 179.6h.1M57.0 168.6h.1M53.8 174.7h.1M44.4 173.2h.1M58.9 179.0h.1M48.1 171.5h.1M49.2 166.0h.1M56.4 169.4h.1M51.1 166.3h.1M54.5 165.3h.1M56.4 170.3h.1M55.3 172.7h.1M56.5 171.2h.1M66.3 183.1h.1M59.5 172.4h.1M58.2 178.9h.1M59.8 176.8h.1M43.5 176.0h.1M45.6 171.1h.1M60.1 181.4h.1M45.1 172.1h.1M49.3 169.7h.1M55.9 178.4h.1M48.5 163.0h.1M48.1 170.2h.1M48.3 170.4h.1M45.2 173.3h.1M51.7 162.6h.1M49.1 169.5h.1M60.7 178.4h.1M61.9 180.0h.1M44.5 164.3h.1M47.6 171.1h.1M53.2 163.4h.1M50.3 170.6h.1M49.7 169.6h.1M46.8 169.8h.1M47.2 176.2h.1M51.3 175.9h.1M52.0 173.5h.1M56.4 176.9h.1M46.6 167.8h.1M48.4 171.4h.1M61.1 176.7h.1M46.9 165.6h.1M65.8 177.9h.1M54.8 182.5h.1M54.8 171.9h.1M58.1 174.8h.1M60.1 169.2h.1M56.6 168.2h.1M48.3 162.5h.1M56.4 168.8h.1M63.6 176.3h.1M44.1 155.2h.1M60.8 181.9h.1M54.5 168.7h.1M56.7 167.4h.1M50.6 178.4h.1M56.7 173.5h.1M42.5 177.5h.1M57.7 174.9h.1M59.5 170.4h.1M58.4 170.0h.1M69.9 167.5h.1M59.0 174.5h.1M47.6 165.8h.1M54.2 175.3h.1M49.9 169.1h.1M51.0 180.6h.1M57.7 170.5h.1M64.2 178.5h.1M52.3 181.4h.1M55.0 176.5h.1M45.0 176.7h.1M59.8 182.8h.1M54.6 171.2h.1M57.3 170.8h.1M61.6 161.9h.1M51.0 170.6h.1M60.8 174.2h.1M38.7 166.8h.1M53.5 180.8h.1M60.0 173.4h.1M58.6 172.3h.1M48.5 172.3h.1M59.5 173.3h.1M54.8 169.6h.1M56.2 168.5h.1M59.2 174.1h.1M60.4 176.7h.1M57.7 168.1h.1M59.5 171.3h.1M55.3 172.7h.1M57.7 168.3h.1M43.4 171.8h.1M51.9 175.8h.1M52.9 169.6h.1M46.0 173.7h.1M55.9 175.7h.1M39.0 167.2h.1M45.0 174.5h.1M47.1 177.2h.1M52.0 173.4h.1M52.3 171.4h.1M46.6 165.5h.1M56.2 168.2h.1M55.2 169.9h.1M51.3 169.6h.1M59.0 172.1h.1M56.4 169.7h.1M47.1 172.1h.1M56.1 165.9h.1M53.8 164.4h.1M53.3 171.4h.1M60.1 169.6h.1M54.9 183.2h.1M56.7 171.6h.1M47.5 170.9h.1M50.2 163.1h.1M55.4 170.5h.1M51.5 175.8h.1M61.6 176.5h.1M53.4 174.9h.1M54.5 168.8h.1M65.1 163.1h.1M51.3 162.2h.1M53.8 180.5h.1M56.0 175.7h.1M54.5 175.5h.1M55.4 169.3h.1M46.4 166.7h.1M63.8 174.1h.1M53.4 165.1h.1M48.0 173.0h.1M42.3 162.8h.1M53.7 162.2h.1M57.0 173.4h.1M52.1 170.3h.1M56.4 169.2h.1M56.8 174.4h.1M49.7 173.1h.1M45.8 174.3h.1M67.2 174.5h.1M56.9 169.3h.1M46.4 172.2h.1M55.0 172.6h.1M47.2 166.6h.1M54.8 176.8h.1M48.7 176.9h.1M50.7 174.1h.1M60.0 169.0h.1M60.0 159.7h.1M50.0 175.0h.1M54.5 170.5h.1M47.7 168.5h.1M43.9 178.9h.1M48.0 174.0h.1M50.9 171.5h.1M52.7 171.3h.1M50.9 161.3h.1M54.9 175.5h.1M60.2 173.7h.1M58.1 175.7h.1M46.1 175.9h.1M52.8 167.1h.1M51.8 173.6h.1M49.9 158.0h.1M55.9 162.4h.1M49.1 171.7h.1M49.6 174.3h.1M53.4 167.7h.1M49.9 176.2h.1M55.3 172.2h.1M60.0 180.5h.1M59.3 169.8h.1M59.2 169.1h.1M53.6 178.2h.1M46.6 176.0h.1M46.9 163.5h.1M48.5 177.2h.1M42.8 158.8h.1M62.7 177.9h.1M58.7 168.2h.1M53.7 167.1h.1M69.1 178.1h.1M52.5 174.3h.1M48.2 169.9h.1M57.4 169.4h.1M66.0 174.4h.1M46.9 171.9h.1M41.8 165.2h.1M64.3 180.5h.1M50.4 163.5h.1M64.6 177.0h.1M52.3 164.6h.1M58.3 169.2h.1M64.8 169.1h.1M54.5 169.6h.1M64.2 161.8h.1M45.4 162.5h.1M57.8 167.0h.1M55.3 163.8h.1M54.4 170.6h.1M51.0 164.2h.1M59.3 172.5h.1M44.3 159.1h.1M54.1 167.9h.1M51.4 173.8h.1M53.3 172.5h.1M54.1 168.3h.1M59.4 164.8h.1M58.5 169.2h.1M54.8 175.8h.1M51.3 172.8h.1M52.5 157.8h.1M52.0 170.4h.1M58.0 166.1h.1M48.9 175.4h.1M48.4 168.4h.1M48.8 174.1h.1M40.7 172.1h.1M53.7 171.7h.1M53.2 172.3h.1M56.4 176.6h.1M60.8 170.0h.1M53.7 168.1h.1M60.5 163.0h.1M49.7 169.4h.1M54.6 174.2h.1M54.8 167.9h.1M42.9 164.0h.1M44.9 177.2h.1M58.5 173.9h.1M57.9 178.8h.1M59.1 167.7h.1M44.5 172.1h.1M58.0 179.6h.1M45.0 164.3h.1M58.3 168.5h.1M53.8 171.5h.1M49.9 170.0h.1M65.8 172.2h.1M43.5 172.9h.1M56.1 171.5h.1M55.8 172.3h.1M63.7 180.5h.1M58.7 174.2h.1M70.4 179.9h.1M50.8 157.8h.1M44.2 169.5h.1M62.7 166.6h.1M46.9 169.6h.1M51.6 168.8h.1M58.1 177.9h.1M59.1 178.5h.1M67.3 172.2h.1M61.4 181.8h.1M68.3 171.5h.1M50.1 170.9h.1M37.1 173.8h.1M49.5 173.1h.1M68.2 172.9h.1M57.3 171.8h.1M65.5 171.4h.1M58.1 178.9h.1M52.8 169.0h.1M56.0 173.8h.1M59.8 172.5h.1M64.4 179.6h.1M47.9 170.6h.1M51.0 172.0h.1M41.4 166.8h.1M65.4 170.7h.1M48.1 174.5h.1M48.2 173.3h.1M56.6 164.4h.1M63.0 165.5h.1M60.0 166.6h.1M54.5 170.6h.1M65.8 180.6h.1M52.8 163.2h.1M52.5 174.5h.1M55.0 176.4h.1M51.5 176.0h.1M54.0 170.4h.1M50.0 173.8h.1M54.2 168.9h.1M60.7 172.2h.1M58.1 174.3h.1M54.0 170.8h.1M54.6 172.5h.1M42.4 172.7h.1M57.8 175.3h.1M57.2 172.2h.1M57.8 169.5h.1M68.7 164.3h.1M51.2 176.5h.1M59.7 176.6h.1M56.9 174.1h.1M60.6 172.9h.1M60.5 161.1h.1M53.8 170.4h.1M69.6 181.8h.1M54.8 172.7h.1M53.5 168.7h.1M62.8 172.7h.1M53.2 183.1h.1M44.1 164.1h.1M57.0 174.3h.1M52.8 166.9h.1M51.4 161.5h.1M68.1 172.9h.1M52.5 173.5h.1M60.5 165.2h.1M52.4 173.8h.1M56.1 169.4h.1M51.4 169.7h.1M62.1 175.3h.1M61.5 179.8h.1M54.1 165.7h.1M51.1 176.8h.1M69.3 177.2h.1M47.6 159.7h.1M59.1 165.5h.1M60.4 160.7h.1M66.7 173.9h.1M53.4 173.0h.1M49.9 175.7h.1M49.0 173.0h.1M61.8 173.8h.1M48.1 172.7h.1M49.4 166.9h.1M43.0 164.2h.1M51.1 182.0h.1M67.9 179.4h.1M67.7 173.6h.1M56.4 170.3h.1M55.5 167.6h.1M58.2 166.4h.1M60.5 166.3h.1M53.4 163.7h.1M51.4 167.7h.1M54.6 178.1h.1M58.3 162.5h.1M57.8 156.6h.1M54.1 169.0h.1M64.1 176.1h.1M52.9 182.0h.1M53.9 182.0h.1M47.2 164.7h.1M57.7 180.2h.1M55.6 172.8h.1M59.3 166.7h.1M59.5 168.2h.1M65.8 174.8h.1M39.9 174.0h.1M55.2 172.5h.1M48.8 176.5h.1M54.0 168.5h.1M55.3 178.1h.1M39.1 161.0h.1M67.0 181.5h.1M55.3 172.5h.1M46.7 168.3h.1M68.0 166.3h.1M57.8 166.3h.1M55.8 164.8h.1M60.5 165.7h.1M58.4 170.6h.1M48.3 176.2h.1M58.1 168.1h.1M41.3 167.6h.1M49.7 172.7h.1M43.2 172.1h.1M48.9 173.3h.1M62.0 171.3h.1M55.5 172.4h.1M54.3 173.1h.1M55.8 169.6h.1M64.1 180.4h.1M53.0 165.8h.1M50.9 172.0h.1M58.4 162.7h.1M64.3 172.4h.1M46.1 162.8h.1M59.7 167.4h.1M57.6 174.7h.1M74.8 164.4h.1M50.5 169.9h.1M57.0 178.0h.1M53.0 158.8h.1M53.8 177.4h.1M60.1 172.2h.1M49.2 167.6h.1M64.5 172.0h.1M62.7 178.2h.1M64.4 181.5h.1M65.9 176.8h.1M65.5 174.5h.1M45.8 173.9h.1M46.5 167.4h.1M53.8 172.4h.1M51.8 167.9h.1M47.0 169.9h.1M46.4 170.5h.1M52.1 166.2h.1M60.5 166.8h.1M57.4 171.7h.1M52.1 163.2h.1M44.4 172.8h.1M72.4 177.9h.1M50.3 155.8h.1M51.8 165.0h.1M57.7 174.1h.1M67.1 178.1h.1M60.9 170.0h.1M51.6 173.3h.1M56.9 168.4h.1M50.1 178.1h.1M51.9 175.3h.1M64.8 179.3h.1M50.9 171.3h.1M64.9 169.6h.1M56.4 172.8h.1M65.4 170.2h.1M49.2 174.9h.1M60.3 170.0h.1M52.0 169.9h.1M43.5 179.5h.1M50.3 161.4h.1M56.5 170.0h.1M60.0 166.9h.1M60.0 167.6h.1M52.8 170.8h.1M68.2 167.7h.1M57.0 176.2h.1M52.0 169.8h.1M78.3 179.1h.1M60.8 172.2h.1M64.2 173.2h.1M50.9 168.6h.1M55.7 171.2h.1M54.8 169.1h.1M53.1 176.6h.1M48.9 170.6h.1M45.8 168.7h.1M65.4 166.2h.1M59.9 173.4h.1M50.2 175.6h.1M60.7 169.5h.1M47.5 174.9h.1M57.6 174.7h.1M45.3 169.1h.1M59.9 161.9h.1M44.9 170.7h.1M55.3 169.0h.1M63.7 174.9h.1M53.5 177.2h.1M60.2 182.1h.1M52.4 177.2h.1M60.9 176.2h.1M46.7 168.5h.1M65.7 174.4h.1M54.5 163.4h.1M64.3 177.1h.1M60.1 177.7h.1M66.9 166.4h.1M57.2 181.0h.1M60.9 174.2h.1M55.5 166.4h.1M47.5 169.2h.1M55.7 162.3h.1M72.7 163.7h.1M56.9 171.1h.1M47.2 176.5h.1M57.4 171.1h.1M48.9 177.6h.1M59.3 177.1h.1M57.5 170.8h.1M51.4 165.5h.1M60.9 178.0h.1M55.9 170.5h.1M55.0 174.4h.1M56.0 176.4h.1M49.2 177.4h.1M44.8 171.9h.1M56.2 172.8h.1M55.4 174.9h.1M48.9 161.1h.1M61.5 172.2h.1M64.4 168.6h.1M55.8 179.3h.1M50.2 169.7h.1M58.4 163.7h.1M49.5 171.6h.1M61.9 175.8h.1M57.5 169.8h.1M63.1 171.4h.1M60.4 176.6h.1M52.0 172.1h.1M57.2 170.3h.1M45.4 156.7h.1M46.3 169.8h.1M55.7 169.0h.1M59.0 166.7h.1M64.6 175.2h.1M64.3 180.6h.1M54.9 152.0h.1M64.8 177.6h.1M53.4 171.5h.1M50.7 173.9h.1M45.5 177.6h.1M53.0 175.7h.1M66.2 175.9h.1M60.2 181.9h.1M38.3 167.3h.1M63.9 175.0h.1M54.4 172.5h.1M45.7 172.9h.1M59.5 170.5h.1M46.1 166.2h.1M67.0 169.4h.1M52.7 175.8h.1M45.4 166.4h.1M54.7 180.8h.1M55.0 179.9h.1M52.9 172.1h.1M55.9 173.8h.1M59.5 169.8h.1M57.3 169.0h.1M52.8 171.2h.1M57.2 171.5h.1M52.8 180.6h.1M56.3 168.9h.1M55.6 175.7h.1M56.7 171.5h.1M56.4 173.2h.1M51.5 172.6h.1M68.2 171.5h.1M44.9 174.5h.1M51.6 176.7h.1M55.5 171.2h.1M66.9 172.5h.1M57.0 177.8h.1M44.9 164.5h.1M51.9 171.9h.1M63.8 165.8h.1M63.1 167.1h.1M57.4 171.9h.1M56.6 171.4h.1M53.8 165.8h.1M52.6 161.1h.1M53.8 173.3h.1M63.7 166.4h.1M52.2 166.6h.1M48.2 173.0h.1M55.1 171.7h.1M47.7 170.5h.1M60.9 175.2h.1M50.9 171.0h.1M54.1 170.4h.1M57.8 167.6h.1M62.2 181.2h.1M58.8 174.6h.1M64.7 176.8h.1M63.8 170.1h.1M46.4 174.2h.1M68.5 179.1h.1M51.8 163.3h.1M51.6 167.1h.1M62.4 172.9h.1M61.0 166.5h.1M41.2 162.9h.1M58.2 177.9h.1M52.7 178.2h.1M56.1 174.1h.1M54.1 172.2h.1M56.7 171.8h.1M45.4 163.5h.1M59.4 171.6h.1M50.4 171.9h.1M51.7 162.6h.1M53.7 170.1h.1M56.6 173.3h.1M67.5 178.7h.1M57.1 164.5h.1M52.4 179.2h.1M56.4 175.6h.1M58.2 168.5h.1M62.0 172.5h.1M44.7 171.7h.1M57.6 178.4h.1M57.3 168.8h.1M54.1 166.1h.1M62.7 182.4h.1M66.0 179.6h.1M65.2 176.0h.1M57.3 170.2h.1M69.7 177.6h.1M57.2 167.5h.1M53.4 176.5h.1M59.2 175.0h.1M61.8 176.8h.1M45.6 181.4h.1M48.2 171.0h.1M47.8 162.9h.1M49.1 166.0h.1M56.8 178.6h.1M50.7 177.2h.1M64.0 177.2h.1M59.0 171.9h.1M65.6 181.6h.1M55.7 166.4h.1M65.7 171.5h.1M46.0 167.1h.1M56.1 174.9h.1M54.4 172.7h.1M49.4 171.0h.1M51.7 163.5h.1M55.3 169.8h.1M54.3 171.2h.1M59.8 171.9h.1M49.8 166.3h.1M61.8 178.1h.1M49.1 167.6h.1M55.8 167.4h.1M53.9 177.4h.1M49.3 170.0h.1M60.0 164.9h.1M51.8 172.9h.1M43.8 178.0h.1M50.4 175.0h.1M59.6 180.6h.1M46.3 175.5h.1M49.5 171.8h.1M46.5 164.3h.1M48.3 174.9h.1M62.3 168.6h.1M51.7 171.0h.1M49.5 172.9h.1M59.0 175.5h.1M48.1 166.8h.1M58.9 167.3h.1M45.4 178.4h.1M62.1 179.2h.1M50.0 166.5h.1M59.3 168.0h.1M59.4 174.8h.1M50.2 170.4h.1M48.7 170.2h.1M59.3 181.8h.1M48.4 165.0h.1M42.2 168.8h.1M49.8 180.2h.1M74.2 171.5h.1M50.5 168.5h.1M57.7 181.5h.1M54.1 164.4h.1M57.2 177.6h.1M47.1 157.3h.1M53.7 169.3h.1M66.3 176.0h.1M66.1 173.9h.1M43.0 169.4h.1M48.2 172.3h.1M50.2 175.2h.1M62.9 173.5h.1M50.5 165.9h.1M54.9 178.6h.1M45.8 164.5h.1M58.6 176.8h.1M54.1 167.9h.1M49.5 172.6h.1M43.9 171.6h.1M41.7 182.5h.1M48.8 165.3h.1M52.2 171.2h.1M57.6 174.6h.1M52.9 170.8h.1M55.9 177.0h.1M63.1 180.2h.1M53.8 173.0h.1M67.5 172.8h.1M51.5 167.1h.1M61.7 162.6h.1M56.8 174.0h.1M50.6 168.5h.1M52.1 173.2h.1M60.4 170.3h.1M43.4 162.1h.1M46.2 168.5h.1M46.1 164.5h.1M50.3 171.8h.1M55.2 173.9h.1M59.6 173.6h.1M55.4 176.5h.1M57.9 165.6h.1M57.0 172.4h.1M57.6 180.6h.1M50.0 174.5h.1M60.2 172.2h.1M50.8 162.2h.1M51.8 171.1h.1M57.5 173.7h.1M61.0 176.0h.1M65.0 169.4h.1M46.7 164.4h.1M68.9 181.1h.1M61.2 146.6h.1M48.9 177.4h.1M44.0 182.4h.1M50.0 175.2h.1M59.1 173.5h.1M50.3 156.2h.1M54.7 162.0h.1M42.8 164.1h.1M47.2 162.9h.1M48.4 164.0h.1M42.3 176.8h.1M43.3 155.1h.1M49.9 155.0h.1M53.2 176.3h.1M46.1 161.3h.1M45.2 163.3h.1M38.0 182.6h.1M39.5 180.9h.1M55.8 179.3h.1M42.1 158.4h.1M66.3 168.1h.1M48.1 173.8h.1M51.7 170.6h.1M50.4 171.5h.1M43.1 173.3h.1M49.6 172.7h.1M52.9 177.2h.1M49.3 172.7h.1M57.3 169.4h.1M47.8 170.6h.1M56.9 163.3h.1M48.8 171.8h.1M42.5 178.9h.1M54.9 156.7h.1M53.0 157.5h.1M60.8 180.3h.1M44.6 165.1h.1M55.8 171.1h.1M66.1 177.1h.1M58.6 179.7h.1M54.9 179.3h.1M58.2 177.7h.1M54.7 165.4h.1M50.3 174.4h.1M43.5 181.5h.1M44.5 150.2h.1M55.8 156.9h.1M52.4 175.9h.1M64.0 164.3h.1M48.3 168.4h.1M42.0 182.6h.1M54.3 171.5h.1M58.9 174.2h.1M37.5 179.0h.1M50.6 165.6h.1M58.6 161.8h.1M46.5 180.4h.1M75.5 158.8h.1M37.4 156.7h.1M47.6 161.0h.1M40.6 175.2h.1M46.6 176.5h.1M48.1 174.8h.1M56.8 166.0h.1M51.9 169.5h.1M49.3 166.2h.1M42.8 170.0h.1M45.7 170.2h.1M44.6 161.0h.1M44.0 174.5h.1M37.6 174.4h.1M47.1 169.1h.1M65.3 175.1h.1M52.7 169.0h.1M47.1 179.6h.1M38.1 178.3h.1M62.9 165.9h.1M43.4 167.6h.1M46.7 173.7h.1M51.7 172.2h.1M55.9 171.7h.1M53.6 173.5h.1M65.0 162.3h.1M44.2 171.8h.1M58.9 170.8h.1M56.7 175.3h.1M52.1 168.5h.1M38.8 175.3h.1M53.0 164.7h.1M48.0 168.5h.1M46.0 171.0h.1M38.3 161.9h.1M49.8 165.1h.1M49.3 175.0h.1M35.4 166.4h.1M57.0 180.1h.1M44.2 168.6h.1M66.2 176.4h.1M49.4 169.4h.1M44.4 172.0h.1M62.8 174.1h.1M50.5 181.7h.1M59.6 166.4h.1M56.3 167.0h.1M47.1 178.8h.1M63.8 161.8h.1M65.9 182.1h.1M37.7 157.5h.1M65.0 174.6h.1M36.9 176.5h.1M46.2 175.6h.1M46.4 166.3h.1M60.6 169.3h.1M64.2 173.6h.1M39.6 159.9h.1M46.6 161.8h.1M57.8 169.9h.1M63.2 163.9h.1M51.7 170.0h.1M44.4 161.2h.1M40.9 164.7h.1M58.4 169.1h.1M50.2 172.7h.1M47.9 165.0h.1M51.7 166.4h.1M52.6 175.1h.1M57.6 177.8h.1M46.9 176.3h.1M38.6 178.6h.1M41.8 175.1h.1M50.0 175.4h.1M58.2 170.6h.1M41.6 169.3h.1M45.8 162.5h.1M36.0 164.4h.1M45.0 170.1h.1M40.1 166.6h.1M61.2 158.7h.1M53.4 162.7h.1M41.9 180.6h.1M72.7 165.2h.1M44.4 179.5h.1M45.5 172.8h.1M43.2 174.3h.1M61.9 169.5h.1M47.8 164.6h.1M52.2 167.5h.1M55.1 177.2h.1M54.2 163.6h.1M56.0 172.4h.1M69.9 177.3h.1M59.1 162.4h.1M65.5 169.0h.1M36.6 173.9h.1M66.2 173.0h.1M54.4 170.3h.1M42.2 165.4h.1M50.4 182.2h.1M67.8 171.3h.1M45.8 161.0h.1M56.9 162.3h.1M48.2 166.1h.1M39.9 177.1h.1M49.0 168.0h.1M46.3 170.9h.1M59.8 180.8h.1M45.8 176.4h.1M61.5 179.6h.1M63.5 173.6h.1M49.3 172.6h.1M50.7 175.0h.1M53.4 173.4h.1M55.8 172.8h.1M39.7 165.6h.1M43.4 163.2h.1M53.0 169.8h.1M37.5 163.2h.1M38.6 158.0h.1M49.5 177.9h.1M43.3 162.3h.1M60.2 179.4h.1M61.0 177.3h.1M54.3 171.7h.1M42.3 159.3h.1M45.8 170.7h.1M48.4 180.9h.1M65.9 176.1h.1M48.7 165.1h.1M48.7 171.4h.1M72.8 164.0h.1M57.8 178.3h.1M38.9 173.7h.1M49.4 154.2h.1M47.6 166.7h.1M35.7 178.9h.1M42.2 161.9h.1M49.8 161.6h.1M41.6 160.5h.1M52.3 165.1h.1M53.3 175.0h.1M54.5 173.4h.1M57.5 182.9h.1M54.4 179.4h.1M59.4 171.0h.1M38.0 165.3h.1M46.2 164.8h.1M45.0 160.9h.1M44.4 147.2h.1M48.5 163.9h.1M38.3 165.8h.1M42.3 173.5h.1M65.2 178.0h.1M49.5 180.7h.1M36.8 163.8h.1M55.1 173.2h.1M43.1 166.6h.1M49.6 175.5h.1M43.5 178.8h.1M47.9 163.8h.1M66.1 179.8h.1M53.0 168.8h.1M54.1 159.5h.1M56.4 152.0h.1M54.4 164.8h.1M51.2 172.4h.1M42.8 163.9h.1M52.0 168.5h.1M68.3 180.1h.1M39.8 164.8h.1M53.6 162.0h.1M62.7 156.5h.1M39.1 160.2h.1M45.1 172.6h.1M55.8 172.2h.1M50.9 167.2h.1M48.7 171.1h.1M61.3 162.7h.1M57.8 173.1h.1M44.9 177.3h.1M46.7 178.9h.1M47.5 173.5h.1M52.2 171.2h.1M50.1 166.3h.1M37.2 182.8h.1M56.0 150.3h.1M42.3 174.3h.1M66.9 171.8h.1M53.0 153.3h.1M41.9 172.9h.1M48.3 162.3h.1M57.5 167.1h.1M45.7 162.4h.1M48.5 166.3h.1M50.7 156.7h.1M50.6 151.7h.1M58.2 182.7h.1M36.9 165.9h.1M58.2 179.4h.1M49.7 172.4h.1M44.4 161.4h.1M44.0 153.2h.1M36.4 156.2h.1M56.8 166.7h.1M41.0 175.1h.1M45.1 174.2h.1M44.8 169.3h.1M72.2 156.4h.1M73.4 174.2h.1M52.1 170.0h.1M47.5 168.4h.1M61.8 160.9h.1M67.6 183.2h.1M41.9 158.7h.1M51.9 174.4h.1M46.3 179.1h.1M68.5 168.0h.1M50.9 165.2h.1M48.8 162.9h.1M39.8 173.9h.1M55.5 168.2h.1M64.9 172.5h.1M39.4 176.7h.1M42.6 175.9h.1M56.4 168.0h.1M36.6 171.9h.1M57.3 175.8h.1M40.2 174.5h.1M49.2 166.4h.1M43.4 182.8h.1M49.0 165.2h.1M47.7 160.6h.1M47.7 167.9h.1M39.7 169.7h.1M53.0 164.6h.1M45.1 169.1h.1M49.0 165.7h.1M43.9 170.1h.1M72.4 172.5h.1M44.8 178.9h.1M56.7 165.4h.1M38.6 163.9h.1M48.1 173.9h.1M42.1 169.3h.1M59.9 180.1h.1M54.9 167.3h.1M61.3 168.7h.1M53.2 165.2h.1M68.5 179.9h.1M41.5 171.0h.1M53.6 172.8h.1M44.5 161.5h.1M53.9 166.8h.1M42.3 171.3h.1M63.9 168.1h.1M49.0 165.5h.1M37.0 167.9h.1M55.8 162.3h.1M51.3 177.2h.1M44.6 159.3h.1M60.5 173.3h.1M57.0 167.2h.1M56.4 170.9h.1M57.1 158.4h.1M45.1 165.6h.1M36.9 172.5h.1M43.3 170.8h.1M37.0 165.8h.1M59.6 174.8h.1M78.3 172.3h.1M48.2 166.9h.1M36.1 173.6h.1M49.2 167.2h.1M39.5 163.5h.1M53.2 176.8h.1M54.5 156.6h.1M41.6 178.8h.1M49.6 182.5h.1M56.4 161.8h.1M43.4 174.9h.1M45.3 160.1h.1M59.6 160.9h.1M68.1 163.0h.1M66.4 171.8h.1M44.8 174.4h.1M51.0 165.4h.1M49.3 174.7h.1M52.9 171.3h.1M53.8 167.0h.1M51.0 161.9h.1M41.2 156.8h.1M47.0 159.4h.1M58.9 168.4h.1M61.6 171.9h.1M62.4 182.1h.1M55.6 173.5h.1M40.3 173.0h.1M45.9 168.2h.1M49.9 171.6h.1M39.6 157.3h.1M56.6 161.9h.1M60.8 166.0h.1M37.7 159.2h.1M50.7 161.7h.1M43.9 179.2h.1M42.9 176.0h.1M54.0 155.8h.1M70.4 173.0h.1M42.5 179.0h.1M53.5 171.6h.1M46.1 178.0h.1M52.1 162.3h.1M38.4 171.6h.1M47.7 160.2h.1M52.2 157.5h.1M70.8 172.0h.1M53.7 175.4h.1M35.3 167.7h.1M43.8 159.6h.1M49.1 167.8h.1M51.4 175.2h.1M69.1 174.5h.1M58.1 172.7h.1M46.5 166.9h.1M55.2 162.4h.1M45.3 164.4h.1M47.3 158.9h.1M37.3 160.4h.1M38.8 165.1h.1M44.6 168.4h.1M43.1 169.3h.1M36.2 173.3h.1M41.0 181.8h.1M55.5 181.3h.1M51.1 159.2h.1M45.4 168.1h.1M49.2 172.1h.1M68.8 177.4h.1M58.4 182.6h.1M65.9 174.5h.1M47.3 175.5h.1M54.5 162.0h.1M52.6 163.7h.1M56.7 171.2h.1M63.2 169.2h.1M52.0 167.0h.1M51.0 180.1h.1M47.3 159.6h.1M53.4 176.7h.1M56.5 172.1h.1M49.6 174.4h.1M52.0 169.6h.1M58.3 174.6h.1M50.5 168.8h.1M42.1 168.4h.1M49.2 169.9h.1M58.5 164.7h.1M55.7 180.1h.1M56.9 168.4h.1M53.7 176.4h.1M44.3 170.4h.1M52.4 174.7h.1M61.9 178.8h.1M49.0 162.6h.1M40.0 157.5h.1M53.4 166.9h.1M41.9 179.5h.1M69.3 173.8h.1M50.0 178.1h.1M52.0 160.9h.1M53.3 163.0h.1M57.8 172.0h.1M54.5 173.3h.1M36.3 173.6h.1M65.8 156.4h.1M59.1 170.1h.1M53.8 180.3h.1M37.6 168.4h.1M37.2 170.8h.1M58.1 162.7h.1M50.0 178.1h.1M65.8 160.6h.1M47.8 149.1h.1M40.2 183.1h.1M66.0 165.0h.1M51.0 172.3h.1M37.6 178.5h.1M49.3 167.7h.1M50.0 172.7h.1M36.5 169.2h.1M42.4 182.6h.1M36.5 170.7h.1M59.8 166.6h.1M51.2 173.0h.1M54.3 159.9h.1M56.8 175.5h.1M43.3 158.5h.1M55.8 158.5h.1M49.8 167.7h.1M57.5 162.3h.1M68.9 173.2h.1M51.0 181.9h.1M66.1 176.4h.1M38.8 153.5h.1M45.3 157.2h.1M42.9 180.6h.1M49.7 172.6h.1M56.7 173.7h.1M38.7 167.1h.1M50.9 173.6h.1M43.7 156.8h.1M50.2 165.2h.1M43.7 177.3h.1M45.2 179.5h.1M60.6 169.0h.1M60.0 172.5h.1M49.3 168.8h.1M62.4 171.9h.1M53.7 175.7h.1M51.3 179.6h.1M50.0 156.1h.1M53.5 160.0h.1M38.4 179.5h.1M49.7 173.8h.1M67.5 156.0h.1M55.9 169.4h.1M65.2 173.6h.1M46.0 174.7h.1M53.6 171.8h.1M45.2 161.6h.1M35.4 174.9h.1M53.1 166.0h.1M38.2 182.3h.1M39.7 170.3h.1M44.0 162.4h.1M44.6 157.7h.1M45.0 173.9h.1M60.3 180.2h.1M54.9 173.7h.1M37.2 182.3h.1M41.0 174.4h.1M48.6 168.4h.1M43.4 170.7h.1M53.1 160.4h.1M52.2 175.6h.1M54.1 173.9h.1M52.5 163.0h.1M59.9 166.5h.1M53.0 169.1h.1M39.7 160.5h.1M69.7 179.1h.1M54.5 170.4h.1M42.5 176.6h.1M47.3 177.5h.1M56.8 166.2h.1M52.5 183.2h.1M38.1 167.4h.1M39.1 166.4h.1M40.1 168.1h.1M52.6 170.9h.1M48.8 166.0h.1M55.9 157.6h.1M76.2 153.4h.1M54.2 181.8h.1M66.7 171.0h.1M66.9 182.0h.1M45.5 172.4h.1M39.8 164.5h.1M64.4 165.0h.1M51.3 171.9h.1M53.8 180.5h.1M46.6 169.0h.1M68.0 180.8h.1M57.7 168.4h.1M47.1 171.0h.1M38.9 163.7h.1M47.5 172.5h.1M48.4 175.7h.1M50.6 180.1h.1M58.6 161.0h.1M48.5 179.6h.1M55.6 166.8h.1M52.9 172.5h.1M50.9 173.3h.1M44.7 163.2h.1M36.0 159.3h.1M69.6 179.8h.1M53.9 163.5h.1M54.2 156.4h.1M43.8 168.0h.1M50.5 181.8h.1M50.0 165.6h.1M59.3 171.8h.1M39.4 164.4h.1M59.0 179.4h.1M48.9 170.3h.1M49.7 156.9h.1M51.9 175.6h.1M39.6 159.2h.1M40.0 175.1h.1M50.6 164.0h.1M47.5 155.9h.1M52.8 175.9h.1M68.0 121.9h.1M74.6 120.3h.1M73.0 121.7h.1M65.2 126.2h.1M72.4 125.9h.1M68.4 125.9h.1M62.0 125.8h.1M74.0 128.5h.1M66.5 123.5h.1M67.5 124.2h.1M71.4 122.1h.1M67.4 125.9h.1M63.0 123.9h.1M74.0 123.7h.1M70.6 127.2h.1M64.3 124.0h.1M63.9 125.4h.1M67.9 129.0h.1M59.2 131.2h.1M65.0 128.3h.1M61.0 123.0h.1M69.2 125.6h.1M64.5 125.7h.1M65.6 130.2h.1M66.7 125.7h.1M68.8 125.4h.1M64.8 131.9h.1M67.9 123.0h.1M71.6 125.9h.1M66.8 127.1h.1M66.0 127.9h.1M66.4 123.6h.1M69.8 124.7h.1M65.3 126.2h.1M70.6 127.6h.1M69.4 125.2h.1M67.4 123.5h.1M72.3 121.1h.1M71.5 125.6h.1M71.1 122.3h.1M64.7 127.4h.1M66.5 128.8h.1M73.0 121.0h.1M72.7 126.2h.1M68.4 126.7h.1M60.4 129.5h.1M67.5 127.0h.1M69.9 127.7h.1M65.5 130.0h.1M66.7 125.4h.1M68.2 124.4h.1M74.0 122.6h.1M64.2 128.0h.1M69.2 124.8h.1M66.9 127.2h.1M59.4 128.8h.1M66.8 128.2h.1M66.7 125.7h.1M70.4 122.3h.1M66.5 130.5h.1M70.4 125.2h.1M66.6 129.2h.1M67.0 127.4h.1M62.5 126.0h.1M64.9 122.7h.1M73.6 119.5h.1M73.7 123.1h.1M63.2 127.8h.1M67.5 125.2h.1M68.5 125.6h.1M65.4 125.9h.1M69.6 123.0h.1M63.8 127.1h.1M61.6 129.1h.1M60.7 127.1h.1M70.5 125.2h.1M65.3 126.9h.1M59.8 131.1h.1M65.5 125.6h.1M62.2 131.7h.1M63.7 123.8h.1M65.4 126.0h.1M67.0 128.7h.1M70.4 124.5h.1M64.3 128.4h.1M67.2 123.1h.1M68.2 121.9h.1M63.8 128.6h.1M71.8 122.9h.1M67.9 116.5h.1M64.3 131.2h.1M71.9 120.9h.1M66.1 125.7h.1M69.8 122.9h.1M67.5 124.3h.1M66.3 126.0h.1M70.2 124.1h.1M75.3 124.6h.1M73.7 121.5h.1M66.6 127.6h.1M68.0 129.0h.1M71.4 123.0h.1M66.2 125.3h.1M71.1 126.9h.1M69.4 123.3h.1M68.1 124.8h.1M66.5 125.9h.1M66.1 127.1h.1M67.3 129.7h.1M72.5 127.0h.1M69.8 126.1h.1M66.4 125.7h.1M76.6 124.2h.1M69.1 122.6h.1M63.5 128.6h.1M62.5 133.7h.1M65.0 128.1h.1M62.9 125.3h.1M66.9 126.6h.1M69.4 125.2h.1M73.9 124.0h.1M61.0 126.6h.1M68.8 129.2h.1M64.5 125.0h.1M72.0 125.1h.1M59.2 128.3h.1M66.2 124.5h.1M68.8 125.8h.1M66.6 124.5h.1M59.4 130.7h.1M69.4 127.5h.1M67.1 125.5h.1M62.6 126.2h.1M65.9 129.7h.1M64.7 127.2h.1M65.2 122.6h.1M68.2 126.1h.1M64.4 128.3h.1M67.7 123.4h.1M67.7 126.0h.1M62.9 128.8h.1M69.0 124.5h.1M68.8 124.3h.1M73.4 117.5h.1M72.3 123.9h.1M67.8 126.0h.1M61.8 126.7h.1M63.7 129.4h.1M71.8 126.9h.1M71.2 120.3h.1M68.6 126.1h.1M65.4 121.4h.1M68.3 125.0h.1M59.8 134.6h.1M65.5 124.1h.1M64.7 124.5h.1M67.1 127.1h.1M69.1 125.4h.1M67.9 124.0h.1M62.5 130.7h.1M67.5 123.7h.1M67.4 127.4h.1M66.1 130.7h.1M64.3 124.9h.1M61.4 133.0h.1M66.0 130.4h.1M72.3 121.6h.1M70.7 126.9h.1M71.3 122.4h.1M62.6 130.7h.1M71.1 128.5h.1M72.8 123.5h.1M68.8 126.3h.1M67.3 123.6h.1M65.0 123.9h.1M65.0 126.5h.1M63.5 127.2h.1M70.3 125.0h.1M60.3 125.0h.1M67.7 127.3h.1M71.4 120.8h.1M64.0 125.9h.1M71.8 127.5h.1M69.7 122.0h.1M74.4 118.2h.1M74.0 126.1h.1M61.4 126.4h.1M61.2 132.0h.1M69.0 126.9h.1M65.0 125.3h.1M72.6 119.9h.1M67.0 125.2h.1M71.3 125.9h.1M72.4 124.9h.1M69.3 124.9h.1M71.4 123.1h.1M68.1 120.7h.1M67.4 125.7h.1M64.7 128.4h.1M70.3 122.2h.1M75.0 117.7h.1M64.5 131.8h.1M65.0 128.2h.1M65.9 128.2h.1M72.6 120.0h.1M64.5 130.9h.1M66.1 125.8h.1M68.1 123.9h.1M68.4 120.0h.1M66.3 125.3h.1M70.3 128.5h.1M64.4 125.9h.1M63.4 124.4h.1M63.9 128.9h.1M68.8 126.4h.1M61.5 128.5h.1M73.6 127.4h.1M69.2 128.7h.1M70.3 124.9h.1M70.5 125.5h.1M67.6 123.9h.1M62.1 130.2h.1M74.5 120.5h.1M69.2 121.3h.1M68.9 123.5h.1M66.3 124.4h.1M73.5 120.3h.1M62.5 125.4h.1M65.7 128.2h.1M69.4 125.3h.1M69.6 123.2h.1M71.7 124.2h.1M61.5 127.9h.1M60.3 124.7h.1M69.4 121.7h.1M60.3 128.9h.1M62.0 123.8h.1M67.7 127.2h.1M64.1 120.6h.1M67.8 127.8h.1M63.0 129.8h.1M73.3 121.3h.1M63.1 126.5h.1M64.7 126.3h.1M68.0 127.5h.1M73.6 129.5h.1M67.3 126.8h.1M70.2 124.1h.1M66.6 122.4h.1M73.4 122.6h.1M64.4 120.6h.1M74.9 120.0h.1M68.4 126.8h.1M72.7 123.9h.1M67.9 124.1h.1M69.2 127.3h.1M66.5 128.9h.1M69.6 123.6h.1M71.0 121.9h.1M68.3 123.9h.1M65.3 128.4h.1M64.8 127.9h.1M63.6 128.6h.1M64.5 129.1h.1M64.6 127.5h.1M70.1 120.0h.1M60.7 131.3h.1M65.6 126.6h.1M72.7 130.1h.1M71.5 122.9h.1M66.2 123.5h.1M71.2 121.3h.1M68.1 124.0h.1M62.9 125.6h.1M67.8 129.6h.1M62.7 125.8h.1M79.4 120.2h.1M64.8 125.9h.1M62.2 128.2h.1M65.7 124.1h.1M65.7 125.8h.1M70.6 126.6h.1M64.7 123.5h.1M65.9 129.1h.1M70.0 123.0h.1M66.9 125.5h.1M67.8 127.3h.1M71.8 128.5h.1M69.3 123.0h.1M63.1 135.2h.1M67.0 125.5h.1M72.8 125.3h.1M65.7 124.6h.1M67.6 129.4h.1M67.7 131.7h.1M63.7 129.5h.1M68.2 126.8h.1M64.0 130.4h.1M63.8 128.8h.1M66.1 130.0h.1M66.4 122.9h.1M61.8 131.1h.1M69.3 125.2h.1M66.2 122.0h.1M66.3 122.6h.1M66.5 126.1h.1M63.1 128.3h.1M65.6 126.1h.1M67.0 122.2h.1M64.0 128.6h.1M69.8 124.8h.1M68.0 123.4h.1M68.0 128.7h.1M66.6 122.4h.1M71.9 127.7h.1M71.9 126.1h.1M69.2 126.6h.1M65.8 122.5h.1M71.6 128.8h.1M68.6 126.5h.1M67.9 130.7h.1M68.0 137.3h.1M56.6 147.8h.1M64.4 129.8h.1M64.6 118.9h.1M54.2 130.8h.1M65.0 145.8h.1M62.3 127.2h.1M67.0 133.7h.1M57.9 138.0h.1M68.5 130.8h.1M65.0 129.3h.1M66.3 116.2h.1M69.0 128.2h.1M74.5 148.6h.1M61.1 146.1h.1M57.7 145.2h.1M81.6 138.7h.1M69.8 125.0h.1M75.9 137.2h.1M73.9 132.5h.1M62.5 126.2h.1M66.8 135.6h.1M67.8 122.7h.1M75.7 131.9h.1M66.1 137.3h.1M62.2 134.9h.1M61.6 134.3h.1M69.5 122.2h.1M66.5 135.2h.1M53.2 134.0h.1M70.1 133.5h.1M72.8 128.1h.1M63.0 126.6h.1M54.5 135.6h.1M60.2 138.4h.1M66.7 124.1h.1M66.0 125.5h.1M56.0 128.2h.1M65.6 144.7h.1M55.4 138.8h.1M74.5 116.1h.1M69.4 133.5h.1M69.0 129.8h.1M58.2 128.7h.1M52.8 141.0h.1M71.4 139.2h.1M70.6 128.4h.1M58.0 143.1h.1M63.7 141.4h.1M69.7 137.7h.1M67.0 131.2h.1M63.9 140.7h.1M58.4 132.3h.1M73.3 138.2h.1M64.6 140.7h.1M66.2 127.9h.1M72.4 141.7h.1M73.7 138.7h.1M74.7 136.1h.1M72.6 127.8h.1M75.4 129.1h.1M59.4 133.7h.1M68.1 127.1h.1M69.0 120.4h.1M75.1 130.9h.1M58.3 140.9h.1M69.5 132.5h.1M68.0 129.1h.1M64.3 139.9h.1M64.4 130.9h.1M57.0 140.8h.1M61.0 130.5h.1M70.3 130.0h.1M71.6 133.0h.1M59.4 128.8h.1M82.9 122.3h.1M77.5 135.3h.1M62.9 130.8h.1M63.0 136.2h.1M62.1 130.2h.1M69.8 141.8h.1M78.8 136.8h.1M70.9 130.8h.1M64.5 115.7h.1M64.7 152.5h.1M52.8 134.7h.1M68.2 136.6h.1M68.2 135.2h.1M70.4 127.0h.1M70.5 124.8h.1M61.2 133.0h.1M66.0 130.1h.1M71.8 137.1h.1M68.0 136.5h.1M71.8 122.8h.1M58.7 135.6h.1M63.9 127.1h.1M58.5 140.5h.1M73.6 131.1h.1M64.5 142.5h.1M63.6 140.7h.1M65.3 131.0h.1M66.2 128.0h.1M64.7 135.5h.1M69.8 136.3h.1M60.1 128.0h.1M64.8 124.2h.1M76.4 121.5h.1M65.8 120.9h.1M76.6 129.7h.1M73.7 135.2h.1M65.1 131.3h.1M67.5 139.4h.1M61.0 130.3h.1M62.9 126.1h.1M68.7 132.1h.1M67.5 148.4h.1M68.9 141.4h.1M80.5 145.3h.1M73.8 153.3h.1M67.4 137.5h.1M63.1 141.0h.1M60.4 131.8h.1M63.4 140.0h.1M62.1 137.9h.1M77.9 123.8h.1M54.9 136.2h.1M69.9 126.0h.1M59.2 125.5h.1M64.2 148.6h.1M60.4 122.6h.1M75.7 143.2h.1M69.2 143.1h.1M72.6 128.2h.1M84.3 131.1h.1M53.3 129.2h.1M78.1 123.2h.1M64.7 133.1h.1M74.7 144.9h.1M55.8 129.0h.1M60.9 127.5h.1M72.4 129.4h.1M62.2 128.3h.1M62.8 130.1h.1M63.3 135.9h.1M63.8 134.9h.1M62.8 137.7h.1M64.1 131.1h.1M57.0 127.6h.1M51.1 148.1h.1M64.0 132.2h.1M71.4 131.6h.1M67.1 128.4h.1M68.5 120.9h.1M81.9 132.4h.1M67.5 120.6h.1M73.6 139.9h.1M66.7 116.5h.1M68.2 135.3h.1M64.1 117.3h.1M75.4 129.8h.1M71.1 135.7h.1M67.3 132.4h.1M63.5 136.8h.1M61.1 131.3h.1M72.2 131.1h.1M64.2 128.9h.1M66.8 139.5h.1M63.0 130.3h.1M75.9 148.4h.1M62.7 122.1h.1M65.7 124.6h.1M66.6 120.5h.1M67.6 141.9h.1M64.0 145.6h.1M74.9 134.1h.1M68.0 127.9h.1M78.9 130.1h.1M59.9 138.0h.1M68.6 131.3h.1M70.5 137.6h.1M68.8 135.1h.1M72.4 122.3h.1M84.6 128.1h.1M64.3 144.9h.1M72.3 147.8h.1M54.3 133.3h.1M55.6 123.0h.1M64.2 123.2h.1M69.1 134.5h.1M69.8 126.0h.1M64.9 134.3h.1M55.2 122.9h.1M73.2 133.2h.1M58.0 129.2h.1M69.6 132.3h.1M75.0 129.2h.1M69.0 126.6h.1M79.2 140.7h.1M65.5 128.8h.1M61.2 135.9h.1M54.3 125.9h.1M65.5 134.9h.1M80.1 129.7h.1M67.1 130.7h.1M64.5 118.4h.1M61.6 123.6h.1M69.3 139.5h.1M61.5 122.9h.1M63.2 126.5h.1M67.1 134.8h.1M69.3 130.5h.1M71.1 146.1h.1M73.2 132.3h.1M62.5 127.5h.1M63.1 142.8h.1M68.2 135.2h.1M62.2 128.0h.1M63.5 147.9h.1M70.8 138.3h.1M60.0 140.6h.1M62.6 135.6h.1M62.7 136.2h.1M53.8 147.5h.1M67.0 138.1h.1M73.4 134.3h.1M65.2 130.9h.1M63.0 130.2h.1M64.7 143.1h.1M55.3 134.3h.1M61.7 131.9h.1M73.3 138.3h.1M64.9 134.0h.1M67.1 144.0h.1M48.6 138.0h.1M63.3 133.5h.1M71.6 127.7h.1M60.6 117.1h.1M69.8 126.1h.1M54.5 142.4h.1M62.0 118.0h.1M67.3 129.8h.1M58.7 128.5h.1M58.6 119.5h.1M58.0 128.2h.1M85.8 119.5h.1M66.5 137.6h.1M59.9 131.4h.1M56.5 136.0h.1M59.3 146.3h.1M80.1 124.2h.1M56.5 144.9h.1M60.9 139.1h.1M56.3 119.2h.1M58.9 139.4h.1M59.3 131.2h.1M77.1 131.3h.1M66.7 129.0h.1M73.9 125.6h.1M60.9 136.3h.1M61.4 127.2h.1M57.2 139.8h.1M76.5 138.3h.1M59.9 125.7h.1M69.4 125.6h.1M59.9 145.5h.1M72.4 134.7h.1M56.9 138.7h.1M64.8 145.6h.1M52.4 127.1h.1M73.4 139.6h.1M80.4 140.0h.1M61.3 129.7h.1M65.8 138.1h.1M61.9 137.7h.1M58.0 139.5h.1M59.8 129.3h.1M71.8 128.7h.1M67.7 127.1h.1M69.3 132.7h.1M67.5 141.1h.1M63.3 140.6h.1M61.1 123.6h.1M64.4 127.9h.1M84.2 127.5h.1M77.5 122.4h.1M63.1 135.9h.1M55.0 150.2h.1M79.9 134.8h.1M63.1 122.5h.1M68.3 124.1h.1M68.6 134.7h.1M76.0 124.5h.1M52.7 145.2h.1M71.3 134.9h.1M57.8 138.6h.1M66.1 123.0h.1M66.6 143.8h.1M65.8 110.8h.1M84.8 130.7h.1M99.8 145.7h.1M107.0 161.3h.1M105.4 141.3h.1M86.3 134.2h.1M103.6 140.7h.1M99.6 123.3h.1M96.1 151.5h.1M96.0 143.9h.1M102.9 141.4h.1M102.4 131.8h.1M105.3 149.6h.1M80.8 123.5h.1M95.1 149.8h.1M90.9 135.5h.1M92.5 127.9h.1M91.5 135.0h.1M90.8 148.4h.1M85.4 156.7h.1M94.2 170.1h.1M104.7 146.6h.1M102.3 140.6h.1M85.6 143.0h.1M105.7 143.8h.1M85.1 138.2h.1M98.2 134.9h.1M105.3 143.4h.1M102.0 146.9h.1M107.5 117.4h.1M103.2 141.0h.1M95.6 138.2h.1M107.9 140.1h.1M104.9 156.9h.1M99.3 163.3h.1M95.6 147.8h.1M100.6 155.4h.1M111.0 149.7h.1M107.0 116.7h.1M96.1 145.6h.1M91.1 121.8h.1M92.8 117.2h.1M109.1 137.4h.1M103.8 136.8h.1M113.7 151.3h.1M101.9 138.1h.1M86.8 127.2h.1M96.7 138.9h.1M92.0 129.4h.1M96.1 149.9h.1M91.3 141.4h.1M112.4 154.0h.1M97.2 144.2h.1M104.5 158.9h.1M87.1 136.6h.1M110.7 132.5h.1M115.2 131.5h.1M96.1 142.1h.1M98.9 156.3h.1M91.6 147.4h.1M89.9 129.6h.1M93.7 145.2h.1M96.2 120.2h.1M95.3 140.5h.1M81.3 138.5h.1M98.0 159.5h.1M108.0 145.5h.1M101.5 153.6h.1M99.6 141.5h.1M103.5 150.8h.1M99.5 136.5h.1M103.0 144.9h.1M107.1 142.1h.1M103.9 142.8h.1M93.9 143.2h.1M94.4 132.0h.1M107.2 145.8h.1M94.0 141.7h.1M104.9 134.6h.1M94.5 143.7h.1M90.6 151.7h.1M97.6 143.2h.1M89.7 142.1h.1M110.9 150.0h.1M95.4 127.6h.1M113.9 145.6h.1M90.4 138.8h.1M110.9 139.0h.1M99.5 142.3h.1M87.6 163.8h.1M98.7 117.5h.1M90.2 152.1h.1M99.0 147.4h.1M92.8 145.3h.1M90.8 138.3h.1M96.2 142.8h.1M105.6 159.0h.1M96.8 124.5h.1M102.7 156.8h.1M99.8 153.5h.1M93.0 150.7h.1M90.3 152.2h.1M90.6 157.8h.1M96.3 118.6h.1M98.0 139.9h.1M98.4 146.5h.1M97.0 132.2h.1M101.6 144.9h.1M97.3 164.1h.1M101.4 141.8h.1M88.7 138.8h.1M103.3 134.3h.1M101.0 138.2h.1M98.9 133.4h.1M90.5 135.9h.1M98.2 143.0h.1M90.2 159.9h.1M109.4 145.1h.1M98.2 157.0h.1M92.8 135.3h.1M99.5 144.8h.1M102.3 144.8h.1M87.7 132.1h.1M86.0 130.7h.1M99.4 140.4h.1M106.9 168.2h.1M107.0 140.1h.1M98.2 133.6h.1M105.0 151.2h.1M96.2 146.7h.1M93.8 128.9h.1M100.8 134.6h.1M101.0 139.7h.1M100.4 123.4h.1M85.4 135.0h.1M90.3 128.1h.1M104.9 152.9h.1M95.5 129.3h.1M87.0 143.0h.1M81.9 134.2h.1M78.2 136.3h.1M89.6 134.7h.1M90.4 134.5h.1M97.9 154.7h.1M103.1 143.4h.1M104.1 150.6h.1M89.1 137.5h.1M92.7 134.3h.1M97.0 142.1h.1M99.4 153.7h.1M108.4 159.6h.1M102.2 135.6h.1M100.1 109.3h.1M101.1 145.7h.1M110.4 120.4h.1M96.1 139.4h.1M98.9 154.2h.1M100.0 131.9h.1M100.2 130.1h.1M105.3 141.8h.1M103.0 127.3h.1M111.2 142.3h.1M108.3 132.4h.1M104.4 148.3h.1M99.6 133.4h.1M93.7 150.2h.1M89.9 130.7h.1M101.9 157.2h.1M101.6 151.5h.1M99.3 142.8h.1M104.7 135.8h.1M99.5 143.4h.1M96.5 126.7h.1M92.8 135.4h.1M92.8 154.5h.1M101.3 138.9h.1M96.8 154.9h.1M100.2 144.9h.1M81.0 132.9h.1M97.2 120.5h.1M89.0 144.9h.1M93.5 135.6h.1M96.6 138.1h.1M97.5 166.5h.1M92.9 144.5h.1M90.4 136.4h.1M93.4 140.2h.1M99.8 145.3h.1M108.2 129.7h.1M97.3 129.0h.1M97.8 166.0h.1M109.9 154.0h.1M86.2 148.1h.1M101.4 156.9h.1M104.7 134.3h.1M102.9 132.7h.1M99.9 135.3h.1M92.6 131.0h.1M90.8 133.1h.1M96.9 144.1h.1M106.4 142.1h.1M85.1 143.3h.1M97.5 138.7h.1M106.7 151.3h.1M98.3 152.3h.1M89.6 150.8h.1M103.4 155.0h.1M96.3 147.8h.1M93.3 143.4h.1M90.2 149.8h.1M103.4 151.5h.1M101.9 163.5h.1M98.7 140.6h.1M97.0 142.4h.1M87.8 131.7h.1M94.4 136.3h.1M87.3 130.9h.1M101.8 137.8h.1M101.6 138.9h.1M104.8 151.2h.1M94.0 138.0h.1M88.9 123.0h.1M91.5 148.4h.1M110.1 154.3h.1M102.8 136.7h.1M87.5 128.3h.1M96.8 137.9h.1M91.5 141.1h.1M104.0 162.4h.1M102.7 144.0h.1M96.5 144.1h.1M85.6 138.3h.1M94.9 159.1h.1M88.5 125.3h.1M107.1 122.1h.1M107.7 143.8h.1M104.6 156.6h.1M94.2 149.0h.1M93.4 141.8h.1M93.1 143.3h.1M105.5 154.3h.1M86.4 143.1h.1M105.0 147.9h.1M89.2 142.9h.1M105.5 145.0h.1M97.0 120.7h.1M94.0 122.5h.1M102.2 160.3h.1M96.6 147.4h.1M113.0 138.5h.1M98.6 156.5h.1M96.9 137.8h.1M103.9 164.9h.1M97.7 154.2h.1M103.4 126.5h.1M92.3 142.2h.1M91.6 135.5h.1M86.1 137.6h.1M102.8 154.1h.1M97.5 152.7h.1M99.5 145.3h.1M105.6 153.2h.1M94.2 146.6h.1M89.7 130.3h.1M92.6 135.9h.1M105.7 126.5h.1M85.0 147.6h.1M86.4 132.2h.1M105.1 142.9h.1M99.4 130.6h.1M104.5 137.4h.1M102.7 155.9h.1M99.2 149.5h.1M89.2 139.6h.1M97.9 145.5h.1M96.2 137.9h.1M90.4 141.4h.1M103.9 134.7h.1M106.2 137.5h.1M86.2 131.6h.1M102.9 142.2h.1M100.2 134.1h.1M106.7 150.3h.1M97.0 140.8h.1M94.0 124.5h.1M107.4 142.9h.1M89.2 129.7h.1M101.2 130.1h.1M84.9 116.7h.1M106.5 162.7h.1M94.2 128.0h.1M103.1 150.1h.1M92.0 140.7h.1M99.4 150.7h.1M102.0 149.9h.1M105.9 135.0h.1M99.3 136.1h.1M94.7 135.6h.1M92.7 140.2h.1M106.6 142.6h.1M111.1 159.5h.1M106.7 138.1h.1M110.2 143.8h.1M104.4 126.6h.1M103.8 134.0h.1M102.5 135.7h.1M84.8 141.5h.1M93.9 132.1h.1M83.1 145.2h.1M90.2 130.3h.1M98.6 139.4h.1M85.9 135.4h.1M96.1 145.5h.1M96.2 151.9h.1M93.3 149.9h.1M98.8 144.6h.1M92.6 147.9h.1M91.8 141.8h.1M101.3 139.4h.1M104.5 173.1h.1M99.9 149.2h.1M103.1 153.2h.1M102.2 152.4h.1M111.9 165.2h.1M95.8 123.7h.1M83.5 145.8h.1M92.7 133.5h.1M96.8 134.1h.1M98.4 122.1h.1M101.6 149.6h.1M96.9 138.5h.1M104.0 135.5h.1M111.6 144.5h.1M106.2 136.1h.1M95.3 136.1h.1M98.7 130.3h.1M101.5 140.5h.1M100.6 157.6h.1M104.3 144.7h.1M94.0 142.1h.1M101.7 145.0h.1M104.8 149.0h.1M99.0 134.4h.1M97.4 155.5h.1M94.5 146.6h.1M109.2 141.3h.1M91.8 145.1h.1M99.8 145.3h.1M91.3 155.5h.1M95.1 132.5h.1M101.5 124.2h.1M87.8 122.0h.1M90.2 127.4h.1M103.3 149.5h.1M103.6 150.8h.1M95.1 120.3h.1M90.3 123.4h.1M93.3 138.6h.1M93.5 148.2h.1M105.4 159.2h.1M105.2 153.3h.1M99.4 151.3h.1M95.3 163.9h.1M98.7 146.8h.1M99.2 139.2h.1M101.6 133.0h.1M100.0 150.0h.1M92.6 151.1h.1M89.9 123.9h.1M113.2 136.1h.1M103.8 138.2h.1M113.1 147.9h.1M102.1 142.3h.1M91.7 141.1h.1M90.4 132.6h.1M102.7 156.5h.1M97.4 140.4h.1M96.2 136.1h.1M101.8 140.7h.1M89.2 153.7h.1M107.1 142.5h.1M93.8 131.7h.1M105.1 142.2h.1M97.6 148.5h.1M105.5 145.8h.1M110.5 143.5h.1M91.9 147.8h.1M95.1 134.0h.1M101.2 139.0h.1M109.5 143.3h.1M109.1 148.4h.1M93.3 134.6h.1M99.8 149.0h.1M100.7 148.2h.1M107.3 133.2h.1M90.3 156.1h.1M96.5 135.6h.1M98.8 149.2h.1M100.1 126.7h.1M105.0 138.2h.1M104.9 143.8h.1M105.3 149.5h.1M103.2 135.4h.1M90.2 145.9h.1M94.7 138.4h.1M103.2 146.0h.1M100.0 129.5h.1M90.9 142.9h.1M94.7 151.8h.1M100.0 128.7h.1M95.6 152.4h.1M106.6 151.7h.1M109.5 134.0h.1M99.1 141.2h.1M96.6 116.5h.1M99.3 135.1h.1M101.5 122.8h.1M113.2 154.7h.1M95.1 110.6h.1M79.2 149.9h.1M95.7 134.7h.1M95.7 158.1h.1M98.0 144.4h.1M96.1 146.5h.1M106.1 150.2h.1M102.1 126.5h.1M94.5 134.8h.1M101.1 153.8h.1M104.3 147.2h.1M95.8 149.2h.1M100.2 131.5h.1M101.9 149.7h.1M103.1 139.2h.1M89.2 143.9h.1M101.9 144.6h.1M94.0 151.6h.1M98.5 134.1h.1M96.6 137.8h.1M102.7 151.6h.1M104.0 160.9h.1M108.7 158.7h.1M103.9 168.8h.1M106.3 139.8h.1M94.1 137.8h.1M101.2 144.6h.1M96.8 127.7h.1M97.4 139.4h.1M97.4 144.7h.1M103.8 153.1h.1M98.4 140.6h.1M105.7 152.4h.1M100.3 156.0h.1M111.6 141.4h.1M109.1 140.1h.1M97.5 152.1h.1M99.4 127.4h.1M92.4 136.5h.1M102.2 123.3h.1M98.9 143.8h.1M100.9 146.6h.1M102.0 143.1h.1M81.4 143.5h.1M102.8 149.9h.1M108.7 140.9h.1M77.0 132.3h.1M104.4 157.7h.1M92.3 126.4h.1M92.1 150.9h.1M113.2 145.7h.1M101.4 157.3h.1M93.2 147.5h.1M96.7 144.7h.1M87.7 134.4h.1M103.3 162.7h.1M93.6 132.9h.1M112.1 156.0h.1M98.4 136.2h.1M98.2 152.5h.1M89.7 132.0h.1M93.6 144.0h.1M94.1 129.8h.1M104.9 151.5h.1M110.2 137.9h.1M96.3 134.8h.1M100.4 127.7h.1M87.5 143.8h.1M108.1 131.8h.1M100.8 150.1h.1M90.2 153.9h.1M88.2 136.1h.1M94.2 134.8h.1M106.0 146.9h.1M117.7 149.3h.1M97.2 137.7h.1M94.3 149.2h.1M100.4 139.2h.1M99.5 133.0h.1M94.0 156.9h.1M93.9 119.0h.1M97.2 131.8h.1M99.3 137.7h.1M106.1 153.3h.1M90.1 140.6h.1M79.0 120.0h.1M97.2 134.3h.1M93.0 136.5h.1M84.2 128.3h.1M98.4 123.9h.1M98.1 121.1h.1M99.5 132.4h.1M103.4 143.8h.1M95.6 155.7h.1M93.0 132.8h.1M100.4 133.3h.1M97.6 141.0h.1M95.7 147.0h.1M88.4 155.9h.1M101.4 143.8h.1M91.6 135.0h.1M97.6 151.8h.1M84.8 123.9h.1M94.2 153.6h.1M109.3 153.6h.1M100.7 139.1h.1M93.2 133.9h.1M99.8 133.9h.1M93.9 128.8h.1M101.0 141.7h.1M81.5 122.3h.1M94.2 133.1h.1M99.1 143.0h.1M106.2 161.8h.1M95.7 148.6h.1M103.7 149.0h.1M98.3 148.9h.1M108.6 146.2h.1M81.9 136.5h.1M104.0 149.3h.1M94.1 140.0h.1M100.6 170.9h.1M91.7 129.8h.1M94.7 147.8h.1M98.6 137.3h.1M97.3 137.2h.1M90.6 142.8h.1M90.2 144.1h.1M93.6 152.7h.1M85.3 141.8h.1M88.5 138.8h.1M100.0 157.3h.1M87.4 149.5h.1M93.6 129.2h.1M101.7 126.2h.1M97.5 137.4h.1M97.1 145.0h.1M94.8 150.6h.1M105.8 143.8h.1M98.7 143.7h.1M97.0 138.2h.1M97.3 149.0h.1M94.7 124.1h.1M100.0 139.5h.1M107.5 140.0h.1M88.6 130.6h.1M92.3 149.8h.1M98.0 145.0h.1M97.3 120.6h.1M101.7 155.4h.1M99.3 126.2h.1M94.3 131.1h.1M93.3 146.9h.1M92.8 124.5h.1M91.9 142.3h.1M100.3 132.7h.1M94.2 141.3h.1M97.1 135.3h.1M96.4 142.8h.1M92.0 127.9h.1M96.4 135.1h.1M105.8 152.1h.1M99.4 148.0h.1M98.7 137.9h.1M94.1 137.2h.1M95.1 133.1h.1M108.7 138.3h.1M96.1 147.7h.1M96.0 150.1h.1M104.4 150.8h.1M96.8 172.4h.1M96.4 141.0h.1M102.4 143.6h.1M90.7 132.7h.1M104.0 143.4h.1M85.2 132.3h.1M105.0 152.0h.1M93.6 153.8h.1M98.3 139.3h.1M97.5 146.2h.1M103.5 139.7h.1M93.0 137.9h.1M93.2 137.9h.1M96.3 143.2h.1M105.2 135.3h.1M95.9 145.1h.1M96.6 155.0h.1M96.7 141.7h.1M93.7 136.3h.1M88.6 144.3h.1M98.0 137.4h.1M99.7 144.0h.1M106.4 164.1h.1M96.3 140.3h.1M100.0 141.0h.1M105.9 136.7h.1M98.8 129.8h.1M91.3 148.1h.1M102.0 147.1h.1M110.1 132.2h.1M96.8 149.1h.1M91.7 137.8h.1M98.2 144.1h.1M87.9 128.9h.1M93.3 135.0h.1M92.4 138.9h.1M104.4 146.7h.1M84.0 145.2h.1M100.4 139.3h.1M98.8 140.4h.1M88.4 144.5h.1M95.7 115.7h.1M98.7 135.9h.1M95.6 138.8h.1M92.8 156.7h.1M90.6 142.9h.1M100.3 141.6h.1M99.6 147.8h.1M95.9 127.6h.1M105.2 149.1h.1M105.2 162.0h.1M91.9 132.2h.1M103.8 141.0h.1M100.4 129.1h.1M93.3 149.1h.1M93.9 148.6h.1M95.4 141.9h.1M90.6 145.4h.1M85.1 149.6h.1M93.0 138.3h.1M103.9 156.4h.1M90.8 137.9h.1M93.5 142.7h.1M85.0 167.2h.1M82.4 145.4h.1M94.6 152.8h.1M97.3 158.1h.1M100.8 152.0h.1M99.9 153.2h.1M86.6 113.1h.1M99.8 124.9h.1M98.4 146.9h.1M99.4 145.8h.1M108.0 133.4h.1M96.6 144.2h.1M90.4 127.9h.1M96.2 141.9h.1M96.0 136.9h.1M95.0 130.4h.1M88.8 127.4h.1M101.0 133.1h.1M98.8 146.3h.1M92.4 130.7h.1M106.6 147.8h.1M91.5 127.5h.1M99.6 142.2h.1M101.4 140.8h.1M103.8 125.2h.1M95.2 130.2h.1M105.5 145.2h.1M104.5 149.4h.1M99.1 154.4h.1M108.3 147.0h.1M87.2 135.9h.1M103.9 129.8h.1M97.8 154.4h.1M100.8 143.5h.1M88.1 154.5h.1M94.6 136.5h.1M98.5 144.7h.1M98.5 138.2h.1M110.8 112.2h.1M104.6 148.7h.1M98.6 134.6h.1M112.9 159.7h.1M90.0 144.1h.1M95.9 143.7h.1M91.4 151.9h.1M98.7 139.5h.1M102.9 135.7h.1M87.5 132.1h.1M101.8 137.2h.1M93.2 139.5h.1M100.5 149.5h.1M97.1 136.3h.1M100.7 138.6h.1M92.8 144.2h.1M93.9 137.5h.1M100.5 144.9h.1M94.5 133.7h.1M104.9 143.4h.1M110.0 141.7h.1M102.0 141.0h.1M90.6 139.8h.1M100.6 142.2h.1M99.0 144.8h.1M91.7 139.5h.1M99.7 138.1h.1M79.2 155.6h.1M105.4 146.4h.1M102.5 153.8h.1M96.1 149.0h.1M100.5 140.2h.1M90.2 131.8h.1M89.6 145.4h.1M88.4 144.2h.1M98.0 143.6h.1M90.4 137.4h.1M82.6 139.6h.1M97.3 137.6h.1M96.9 154.4h.1M105.6 138.2h.1M98.1 159.7h.1M106.9 150.6h.1M92.5 148.2h.1M99.0 131.6h.1M101.3 165.2h.1M112.5 154.9h.1M91.1 130.0h.1M106.7 155.5h.1M98.5 147.2h.1M94.9 148.9h.1M95.7 168.2h.1M94.5 123.6h.1M97.5 156.8h.1M91.0 142.5h.1M91.0 142.3h.1M86.2 133.6h.1M107.8 133.8h.1M98.5 140.9h.1M98.3 164.9h.1M98.5 131.1h.1M96.9 129.0h.1M93.2 154.7h.1M106.8 134.3h.1M91.0 132.0h.1M96.0 144.5h.1M105.5 131.1h.1M98.2 135.5h.1M95.1 137.9h.1M100.2 126.8h.1M104.4 135.7h.1M92.0 130.7h.1M99.1 146.4h.1M95.2 135.3h.1M95.0 128.7h.1M92.8 114.9h.1M105.9 154.1h.1M96.6 150.8h.1M96.0 147.2h.1M96.6 140.9h.1M96.0 106.8h.1M103.6 145.2h.1M99.7 131.3h.1M84.6 149.5h.1M94.0 124.0h.1M95.9 135.1h.1M105.3 133.3h.1M84.9 124.5h.1M86.9 133.7h.1M96.0 136.0h.1M96.8 127.8h.1M107.0 153.4h.1M108.7 160.3h.1M108.4 139.1h.1M110.6 146.3h.1M84.0 142.6h.1M96.1 129.8h.1M97.4 147.5h.1M92.5 153.3h.1M102.1 133.4h.1M98.2 142.2h.1M107.3 154.5h.1M97.1 133.6h.1M93.8 124.8h.1M87.6 148.0h.1M113.3 154.9h.1M104.3 145.6h.1M99.7 157.1h.1M102.2 151.8h.1M88.7 127.7h.1M103.0 134.8h.1M103.9 141.6h.1M88.7 138.9h.1M118.9 159.0h.1M97.2 146.0h.1M93.3 155.3h.1M88.3 141.7h.1M100.2 146.4h.1M92.7 138.7h.1M89.3 127.8h.1M98.1 154.7h.1M94.9 155.7h.1M94.6 141.7h.1M101.8 138.3h.1M97.8 120.4h.1M99.1 148.9h.1M96.4 143.0h.1M99.5 148.8h.1M96.8 133.2h.1M101.9 151.0h.1M99.0 141.9h.1M93.7 137.6h.1M92.5 123.3h.1M97.3 152.3h.1M101.2 131.7h.1M98.8 143.4h.1M102.9 145.7h.1M92.4 142.6h.1M101.7 159.2h.1M97.1 134.0h.1M91.4 155.7h.1M99.6 155.2h.1M106.0 161.0h.1M105.1 139.2h.1M98.2 155.1h.1M95.0 144.9h.1M90.9 152.9h.1M84.2 143.0h.1M85.2 150.7h.1M97.0 131.1h.1M94.2 139.0h.1M92.7 132.9h.1M95.9 124.1h.1M104.0 148.9h.1M105.1 140.0h.1M104.5 145.3h.1M98.7 145.8h.1M79.9 137.8h.1M98.3 148.5h.1M89.7 164.2h.1M93.6 151.5h.1M92.2 143.1h.1M98.2 145.4h.1M100.4 150.4h.1M106.5 145.0h.1M97.9 147.3h.1M99.6 154.4h.1M96.5 146.4h.1M77.9 139.3h.1M92.1 150.3h.1M110.2 146.9h.1M100.2 127.8h.1M100.2 140.4h.1M95.3 130.1h.1M106.7 141.6h.1M104.1 162.8h.1M110.5 135.5h.1M97.1 141.0h.1M100.7 142.4h.1M95.7 149.8h.1M109.0 138.5h.1M103.8 157.3h.1M96.9 145.0h.1M96.7 152.8h.1M95.2 143.8h.1M96.6 135.8h.1M94.2 142.8h.1M98.0 141.3h.1M92.7 138.2h.1M101.7 139.8h.1M101.2 152.8h.1M97.0 139.4h.1M107.4 159.8h.1M95.4 132.7h.1M94.4 137.3h.1M94.4 125.3h.1M91.3 129.4h.1M107.0 155.8h.1M89.6 134.8h.1M84.3 135.5h.1M94.0 132.7h.1M100.2 130.7h.1M94.4 142.2h.1M105.8 158.5h.1M109.2 140.3h.1M96.2 156.0h.1M95.8 145.8h.1M106.3 125.4h.1M93.1 158.6h.1M88.7 149.1h.1M99.7 152.8h.1M104.9 137.5h.1M96.2 142.5h.1M97.8 151.5h.1M99.6 150.7h.1M103.4 149.5h.1M93.3 151.2h.1M100.8 161.0h.1M97.8 160.4h.1M95.6 139.7h.1M97.6 154.2h.1M89.0 148.3h.1M98.1 137.0h.1M86.0 143.5h.1M92.9 148.3h.1M100.7 161.7h.1M106.7 163.8h.1M95.8 147.3h.1M100.3 140.3h.1M99.8 121.3h.1M93.7 130.7h.1M94.7 114.1h.1M101.1 149.2h.1M96.2 145.8h.1M105.6 142.0h.1M100.0 137.1h.1M97.9 149.7h.1M99.6 144.2h.1M111.8 133.9h.1M107.5 135.5h.1M87.4 155.5h.1M104.7 143.2h.1M93.9 151.5h.1M90.9 146.3h.1M94.0 131.9h.1M108.1 141.8h.1M105.1 144.3h.1M88.0 131.5h.1M107.6 134.8h.1M85.0 130.7h.1M105.0 139.7h.1M92.7 125.9h.1M103.9 126.4h.1M100.9 148.7h.1M96.2 141.9h.1M94.0 144.3h.1M88.9 134.6h.1M92.8 143.2h.1M86.5 153.7h.1M102.3 147.1h.1M98.8 154.7h.1M88.7 128.1h.1M98.2 153.9h.1M93.2 138.6h.1M96.1 141.7h.1M90.6 127.0h.1M108.9 150.3h.1M94.2 141.5h.1M99.5 156.0h.1M94.4 130.2h.1M108.9 147.0h.1M100.0 136.3h.1M104.1 137.1h.1M99.9 144.3h.1M93.6 132.5h.1M74.5 143.5h.1M99.5 150.7h.1M95.0 140.4h.1M99.2 141.9h.1M95.6 128.6h.1M98.1 143.1h.1M93.6 127.1h.1M97.1 128.5h.1M106.0 154.1h.1M93.6 139.3h.1M98.6 135.8h.1M92.9 135.9h.1M86.9 117.7h.1M92.6 134.8h.1M91.8 156.1h.1M98.5 127.7h.1M94.5 132.2h.1M98.1 143.7h.1M101.7 132.9h.1M94.6 158.5h.1M102.9 138.0h.1M90.9 141.2h.1M101.9 136.5h.1M97.1 131.5h.1M94.4 146.7h.1M103.0 146.8h.1M105.6 150.8h.1M100.0 125.7h.1M105.0 146.5h.1M101.5 132.2h.1M91.2 147.3h.1M95.5 155.9h.1M98.0 131.2h.1M98.6 135.4h.1M98.9 139.1h.1M99.2 150.3h.1M104.8 149.6h.1M103.0 136.3h.1M96.3 157.5h.1M110.3 164.8h.1M81.6 159.6h.1M93.9 155.0h.1M98.3 144.6h.1M110.1 143.8h.1M95.3 152.6h.1M102.5 160.0h.1M101.0 165.8h.1M96.4 148.1h.1M81.6 117.2h.1M92.1 163.7h.1M111.7 175.0h.1M98.0 130.4h.1M93.0 154.4h.1M92.6 145.1h.1M102.2 148.4h.1M99.8 137.0h.1M100.0 138.4h.1M88.0 153.2h.1M88.4 150.7h.1M105.9 136.4h.1M100.3 122.2h.1M89.7 158.9h.1M103.5 164.5h.1M100.0 129.8h.1M88.4 155.5h.1M102.1 157.0h.1M76.8 138.2h.1M88.3 154.5h.1M91.6 123.6h.1M92.0 114.0h.1M68.9 170.5h.1M86.6 155.3h.1M86.8 142.7h.1M95.1 157.9h.1M83.1 137.3h.1M105.8 142.4h.1M99.0 131.0h.1M76.7 153.6h.1M94.8 164.7h.1M111.2 181.2h.1M93.7 145.0h.1M82.5 134.0h.1M92.8 160.3h.1M93.6 142.8h.1M103.9 158.6h.1M93.4 148.7h.1M114.4 150.2h.1M84.4 118.3h.1M96.5 155.6h.1M107.4 166.7h.1M87.8 177.7h.1M93.0 157.7h.1M96.9 162.9h.1M88.3 161.7h.1M90.4 151.1h.1M91.0 144.9h.1M105.6 133.6h.1M105.4 153.1h.1M77.0 134.1h.1M93.8 139.3h.1M105.1 160.4h.1M109.5 166.7h.1M96.3 159.5h.1M101.6 137.5h.1M87.7 141.4h.1M97.3 157.4h.1M88.6 161.4h.1M98.6 166.0h.1M88.2 146.3h.1M82.5 132.9h.1M82.0 169.4h.1M92.9 158.1h.1M90.8 140.3h.1M103.7 147.4h.1M95.2 157.1h.1M78.6 128.6h.1M85.8 176.3h.1M105.7 125.7h.1M102.2 126.7h.1M97.6 162.5h.1M82.3 163.0h.1M93.4 130.8h.1M94.4 148.7h.1M88.3 155.6h.1M99.0 117.4h.1M102.8 145.4h.1M96.0 179.4h.1M86.9 157.3h.1M98.4 162.1h.1M103.7 152.4h.1M100.5 132.1h.1M110.0 155.5h.1M94.4 122.1h.1M91.4 181.0h.1M111.8 142.3h.1M89.7 138.2h.1M87.3 142.9h.1M96.8 136.8h.1M99.6 149.3h.1M83.9 149.1h.1M97.5 159.6h.1M92.7 140.1h.1M95.9 153.4h.1M102.3 146.8h.1M92.3 164.4h.1M84.8 148.4h.1M99.6 146.2h.1M96.7 161.4h.1M88.5 147.4h.1M85.0 151.9h.1M95.4 150.6h.1M98.2 135.3h.1M100.8 145.5h.1M99.7 141.6h.1M96.8 171.7h.1M89.2 160.3h.1M77.6 143.5h.1M84.6 146.4h.1M76.0 150.3h.1M95.9 136.0h.1M79.7 154.4h.1M119.0 142.6h.1M96.6 160.2h.1M86.6 108.2h.1M97.3 156.3h.1M104.1 155.3h.1M103.1 150.1h.1M118.4 122.3h.1M89.1 144.2h.1M100.8 170.7h.1M89.4 162.9h.1M101.7 152.7h.1M93.1 131.9h.1M92.4 145.0h.1M83.4 138.3h.1M97.4 154.9h.1M94.5 165.5h.1M81.6 138.7h.1M92.2 149.8h.1M116.4 178.1h.1M86.7 171.7h.1M92.9 128.1h.1M108.3 135.4h.1M91.3 150.3h.1M106.8 148.3h.1M99.6 134.7h.1M93.2 129.1h.1M98.0 138.8h.1M106.2 150.8h.1M89.5 158.6h.1M87.5 129.1h.1M92.9 142.3h.1M105.1 137.4h.1M92.6 162.2h.1M92.9 141.2h.1M94.9 147.9h.1M91.1 124.8h.1M95.4 121.0h.1M85.2 158.4h.1M89.4 150.9h.1M113.3 138.3h.1M99.6 161.6h.1M98.9 142.1h.1M99.3 145.7h.1M94.4 135.3h.1M81.9 142.7h.1M102.6 173.3h.1M81.4 136.9h.1M87.3 137.8h.1M81.0 139.5h.1M95.6 136.3h.1M76.6 154.5h.1M85.8 148.4h.1M92.1 133.1h.1M101.5 138.4h.1M92.2 158.8h.1M111.7 139.0h.1M98.6 175.9h.1M104.4 146.2h.1M90.1 169.8h.1M93.5 175.1h.1M90.2 164.5h.1M90.8 149.4h.1M104.5 148.8h.1M92.2 135.2h.1M90.7 156.5h.1M81.3 178.5h.1M110.2 162.8h.1M81.8 156.3h.1M95.7 143.5h.1M104.2 156.8h.1M108.9 165.1h.1M104.3 134.3h.1M96.4 122.6h.1M78.3 132.6h.1M94.7 162.1h.1M80.1 163.1h.1M94.1 130.3h.1M95.7 138.5h.1M91.8 139.2h.1M107.1 131.4h.1M83.9 143.7h.1M99.6 158.5h.1M97.1 151.6h.1M93.8 142.6h.1M80.3 115.5h.1M97.7 130.1h.1M93.5 166.6h.1M105.6 144.4h.1M101.2 143.0h.1M82.5 154.8h.1M96.9 153.1h.1M85.2 131.3h.1M108.0 129.4h.1M101.7 179.9h.1M82.3 171.8h.1M113.6 169.4h.1M86.1 172.5h.1M93.9 164.6h.1M89.0 164.5h.1M89.6 148.6h.1M94.1 155.5h.1M102.8 165.0h.1M94.7 154.6h.1M95.1 143.9h.1M96.3 159.6h.1M94.7 152.8h.1M88.7 147.3h.1M100.4 120.4h.1M85.8 156.8h.1M84.0 177.0h.1M97.4 163.4h.1M105.8 153.2h.1M95.3 162.2h.1M83.5 132.6h.1M110.0 151.3h.1M94.7 161.6h.1M101.5 153.4h.1M87.8 174.2h.1M97.7 159.3h.1M85.4 137.1h.1M98.2 167.4h.1M96.0 145.3h.1M95.9 163.2h.1M92.6 172.5h.1M94.0 136.7h.1M91.7 134.4h.1M111.2 166.8h.1M96.9 157.9h.1M85.5 134.9h.1M96.6 154.0h.1M90.8 139.8h.1M104.4 171.8h.1M97.2 149.3h.1M98.5 167.6h.1M80.1 152.1h.1M76.9 123.2h.1M94.9 114.7h.1M86.8 153.4h.1M99.2 155.1h.1M81.1 147.3h.1M108.1 170.1h.1M113.5 139.8h.1M87.6 149.2h.1M77.4 142.4h.1M79.9 143.2h.1M98.1 165.4h.1M100.5 127.7h.1M96.5 122.7h.1M95.7 155.6h.1M94.0 131.6h.1M95.6 145.7h.1M111.1 170.7h.1M89.0 172.2h.1M95.2 137.2h.1M75.5 155.0h.1M112.0 139.3h.1M88.0 129.8h.1M99.7 137.9h.1M92.0 147.5h.1M100.8 125.7h.1M88.7 148.5h.1M102.5 148.8h.1M80.3 126.3h.1M86.7 133.1h.1M89.3 102.7h.1M91.9 165.1h.1M67.7 163.7h.1M108.2 146.7h.1M90.3 172.0h.1M98.7 136.0h.1M91.5 130.1h.1M95.8 123.3h.1M110.5 148.5h.1M88.7 153.8h.1M82.7 147.0h.1M93.0 148.9h.1M103.9 154.7h.1M98.1 118.4h.1M83.6 159.5h.1M88.1 177.0h.1M97.6 162.9h.1M85.1 163.6h.1M76.3 136.3h.1M88.2 156.6h.1M100.7 159.7h.1M101.7 128.3h.1M96.9 152.3h.1M94.7 155.3h.1M105.0 148.6h.1M83.6 133.4h.1M104.9 137.0h.1M113.2 143.6h.1M88.2 102.1h.1M97.6 141.7h.1M93.2 168.5h.1M103.0 133.1h.1M70.7 171.7h.1M97.8 157.1h.1M90.5 135.9h.1M95.3 152.7h.1M83.9 144.7h.1M88.7 152.7h.1M89.4 149.7h.1M102.1 151.4h.1M101.3 151.9h.1M99.4 127.5h.1M89.0 152.7h.1M68.3 145.9h.1M91.1 149.6h.1M99.8 114.3h.1M97.6 138.8h.1M99.6 144.8h.1M92.2 149.6h.1M102.9 155.8h.1M95.2 114.3h.1M84.4 139.4h.1M104.1 167.9h.1M84.3 132.8h.1M89.0 160.6h.1M76.2 143.4h.1M105.7 146.3h.1M93.8 141.4h.1M103.3 174.5h.1M100.9 169.7h.1M79.1 166.3h.1M79.2 136.0h.1M96.7 181.7h.1M87.8 146.4h.1M68.3 133.1h.1M94.1 182.0h.1M81.6 149.2h.1M98.5 147.4h.1M100.8 147.1h.1M98.0 135.7h.1M100.3 161.7h.1M93.9 154.0h.1M100.2 133.5h.1M85.9 142.4h.1M79.6 159.8h.1M102.3 139.9h.1M91.4 162.5h.1M100.1 149.2h.1M87.6 147.2h.1M96.5 154.8h.1M105.5 149.9h.1M90.6 152.9h.1M113.4 150.7h.1M92.4 137.5h.1M98.3 136.3h.1M99.2 129.3h.1M87.6 159.7h.1M80.8 135.6h.1M84.3 148.9h.1M90.9 138.9h.1M102.9 137.9h.1M74.7 172.2h.1M97.3 136.1h.1M89.8 132.5h.1M108.2 151.4h.1M92.2 165.9h.1M91.5 150.3h.1M83.8 145.7h.1M91.4 121.7h.1M102.2 163.0h.1M93.1 120.3h.1M97.7 138.9h.1M103.6 131.8h.1M100.4 145.2h.1M76.5 161.5h.1M109.3 145.1h.1M104.9 148.6h.1M90.2 154.6h.1M104.9 152.5h.1M108.7 167.7h.1M102.8 131.7h.1M93.7 127.7h.1M100.9 145.2h.1M106.8 153.1h.1M103.0 139.2h.1M95.0 154.2h.1M100.4 130.4h.1M102.4 153.1h.1M92.5 147.8h.1M99.4 154.2h.1M112.9 158.6h.1M114.0 139.1h.1M104.1 104.0h.1M114.0 136.1h.1M105.0 135.1h.1M84.2 133.5h.1M103.2 160.4h.1M117.8 137.9h.1M86.3 150.6h.1M77.6 139.2h.1M73.1 146.2h.1M66.5 145.4h.1M74.8 148.0h.1M82.7 142.8h.1M76.8 145.7h.1M76.2 154.4h.1M82.5 154.5h.1M82.1 150.2h.1M82.4 147.4h.1M73.5 150.2h.1M78.1 135.1h.1M84.2 143.9h.1M77.2 146.7h.1M79.4 153.4h.1M69.9 155.7h.1M79.1 153.8h.1M82.3 142.6h.1M80.6 141.9h.1M68.7 146.4h.1M77.8 140.6h.1M74.3 146.9h.1M72.7 148.4h.1M82.7 146.7h.1M77.4 150.8h.1M82.7 150.9h.1M71.0 156.1h.1M76.1 140.9h.1M67.2 157.0h.1M84.4 140.7h.1M68.3 151.7h.1M72.0 143.6h.1M88.1 148.4h.1M76.2 148.7h.1M79.0 149.6h.1M73.0 144.5h.1M91.7 146.4h.1M86.4 146.8h.1M86.7 147.4h.1M74.3 152.3h.1M66.0 158.7h.1M75.0 144.5h.1M79.4 142.4h.1M80.3 141.4h.1M64.0 153.7h.1M78.6 137.7h.1M84.4 148.2h.1M77.4 154.3h.1M88.0 156.3h.1M77.2 138.0h.1M79.0 148.8h.1M75.1 144.6h.1M81.8 139.3h.1M78.6 142.5h.1M88.3 145.2h.1M84.6 156.4h.1M80.3 145.3h.1M79.1 146.9h.1M78.3 146.3h.1M84.4 135.0h.1M66.5 147.4h.1M81.9 147.7h.1M72.7 156.2h.1M84.1 156.1h.1M70.9 155.4h.1M85.0 147.3h.1M74.7 148.3h.1M80.3 147.8h.1M77.6 146.4h.1M72.2 142.8h.1M76.8 162.8h.1M71.5 157.7h.1M80.1 150.8h.1M66.6 148.6h.1M72.1 147.9h.1M75.3 146.1h.1M73.8 160.7h.1M84.4 152.0h.1M75.0 145.9h.1M77.1 146.2h.1M81.6 151.0h.1M78.2 147.5h.1M75.4 155.7h.1M74.9 154.8h.1M78.0 137.0h.1M89.6 140.9h.1M74.2 149.7h.1M83.5 143.1h.1M80.0 148.4h.1M76.3 140.0h.1M67.6 155.8h.1M84.1 151.9h.1M88.3 138.6h.1M77.1 148.4h.1M71.6 146.9h.1M95.1 139.4h.1M83.1 149.0h.1M75.0 156.2h.1M79.4 153.3h.1M74.1 159.8h.1M71.8 155.6h.1M80.0 145.9h.1M78.9 152.4h.1M74.2 163.1h.1M86.7 154.3h.1M78.3 151.5h.1M74.6 150.6h.1M82.8 141.8h.1M75.3 144.1h.1M76.6 148.6h.1M72.3 139.8h.1M86.6 152.2h.1M79.4 157.0h.1M82.8 151.2h.1M78.6 142.9h.1M69.6 147.8h.1M79.1 149.6h.1M68.3 157.2h.1M73.4 149.3h.1M68.0 137.6h.1M86.8 145.6h.1M76.7 152.2h.1M70.9 165.6h.1M81.9 140.0h.1M85.4 152.5h.1M83.4 143.9h.1M70.6 152.4h.1M68.6 143.5h.1M67.7 143.0h.1M87.2 150.7h.1M76.6 151.2h.1M87.1 155.3h.1M80.5 154.8h.1M77.7 144.5h.1M81.3 141.3h.1M85.1 146.7h.1M75.0 152.2h.1M67.1 137.1h.1M81.7 145.5h.1M61.6 144.2h.1M88.0 133.6h.1M81.0 141.3h.1M82.5 147.0h.1M82.6 135.1h.1M75.3 155.0h.1M83.3 144.4h.1M72.9 147.8h.1M78.4 154.7h.1M82.7 150.2h.1M86.0 143.1h.1M74.5 144.7h.1M85.6 147.9h.1M78.6 144.0h.1M77.0 142.1h.1M84.2 160.6h.1M75.1 158.3h.1M73.5 152.3h.1M74.7 142.1h.1M70.9 156.7h.1M77.9 142.2h.1M74.8 148.2h.1M78.7 149.0h.1M67.3 153.6h.1M73.7 148.4h.1M86.9 150.2h.1M73.8 151.4h.1M76.0 151.5h.1M71.5 154.2h.1M75.2 151.0h.1M77.3 148.1h.1M80.9 144.8h.1M71.5 153.0h.1M81.2 147.0h.1M84.8 146.1h.1M65.0 146.7h.1M75.7 141.4h.1M79.0 156.3h.1M79.6 139.0h.1M76.7 147.0h.1M79.6 155.7h.1M80.6 155.2h.1M74.1 154.2h.1M76.4 143.7h.1M78.8 156.1h.1M72.6 154.0h.1M80.7 146.7h.1M74.8 157.4h.1M73.4 147.7h.1M78.7 152.8h.1M89.5 147.3h.1M85.7 145.2h.1M79.5 147.7h.1M78.5 142.0h.1M74.4 152.4h.1M83.3 148.8h.1M76.0 153.5h.1M84.8 154.7h.1M80.4 148.5h.1M70.1 147.4h.1M86.0 136.6h.1M75.6 154.6h.1M77.1 143.4h.1M73.5 152.9h.1M87.3 140.2h.1M78.8 151.1h.1M79.9 158.7h.1M75.1 151.6h.1M87.5 135.9h.1M84.5 151.2h.1M75.2 157.9h.1M72.4 157.0h.1M74.4 145.9h.1M80.2 147.1h.1M70.6 153.2h.1M85.4 160.0h.1M82.0 139.3h.1M82.4 151.4h.1M75.9 164.5h.1M74.3 146.0h.1M78.1 148.1h.1M73.1 147.6h.1M68.9 156.2h.1M76.3 153.4h.1M82.5 141.8h.1M77.1 148.1h.1M72.8 152.3h.1M73.2 167.7h.1M70.4 135.9h.1M74.3 157.1h.1M94.6 165.7h.1M84.8 160.4h.1M110.5 181.0h.1M90.5 182.6h.1M82.2 175.6h.1M98.6 166.4h.1M91.1 165.3h.1M94.3 179.2h.1M100.4 173.9h.1M101.2 160.8h.1M107.0 171.1h.1M85.6 169.2h.1M89.9 172.0h.1M96.1 157.6h.1M102.2 181.7h.1M87.4 180.2h.1M102.1 177.5h.1M104.6 163.2h.1M98.7 165.4h.1M109.3 165.6h.1M86.1 178.1h.1M98.0 171.6h.1M94.9 175.1h.1M105.2 167.2h.1M90.4 168.0h.1M93.5 171.5h.1M85.7 173.2h.1M85.8 169.6h.1M92.4 170.0h.1M103.6 181.2h.1M101.0 180.9h.1M92.2 179.8h.1M93.7 172.8h.1M95.8 163.4h.1M90.1 170.5h.1M96.4 170.7h.1M88.5 164.5h.1M94.1 164.3h.1M86.4 170.8h.1M95.2 166.4h.1M82.4 173.1h.1M99.3 169.0h.1M91.6 157.5h.1M99.9 164.8h.1M98.7 167.9h.1M93.1 170.3h.1M83.8 172.1h.1M88.7 170.0h.1M102.9 160.2h.1M93.1 174.4h.1M94.8 173.8h.1M89.1 161.6h.1M85.5 168.9h.1M98.8 171.9h.1M104.4 172.0h.1M95.3 172.6h.1M82.7 174.9h.1M86.8 169.1h.1M109.2 164.0h.1M94.8 173.2h.1M94.8 171.4h.1M81.0 165.2h.1M103.6 174.7h.1M89.0 166.0h.1M97.2 165.2h.1M95.5 167.6h.1M103.7 173.2h.1M102.2 172.4h.1M107.3 173.9h.1M95.8 165.3h.1M91.3 173.7h.1M93.9 166.8h.1M100.4 168.2h.1M96.6 170.8h.1M89.3 179.7h.1M94.6 177.9h.1M91.8 162.8h.1M85.9 168.3h.1M92.8 171.7h.1M97.3 163.9h.1M95.5 164.1h.1M102.3 169.2h.1M105.7 179.9h.1M99.8 180.2h.1M92.4 170.7h.1M88.4 174.9h.1M85.9 168.4h.1M97.0 168.4h.1M96.3 182.3h.1M87.6 179.8h.1M89.6 165.8h.1M95.5 177.6h.1M89.4 167.0h.1M91.1 167.1h.1M95.2 167.1h.1M92.3 173.5h.1M91.3 178.3h.1M89.6 166.8h.1M107.2 180.4h.1M94.5 176.4h.1M96.2 168.3h.1M98.4 173.2h.1M102.3 160.3h.1M99.2 172.4h.1M89.5 168.8h.1M91.4 163.5h.1M90.3 176.1h.1M84.1 169.1h.1M78.6 167.9h.1M96.5 171.1h.1M94.3 164.7h.1M97.7 166.0h.1M99.9 172.7h.1M91.5 180.3h.1M91.4 177.5h.1M94.7 171.4h.1M100.5 174.0h.1M94.0 170.7h.1M95.4 171.9h.1M91.9 165.2h.1M77.2 170.7h.1M92.4 178.7h.1M96.9 178.3h.1M105.3 170.8h.1M88.5 176.3h.1M90.1 169.9h.1M103.4 174.7h.1M101.1 163.3h.1M94.2 178.1h.1M85.7 172.6h.1M96.6 157.6h.1M104.4 167.1h.1M93.1 181.5h.1M82.4 174.2h.1M91.1 171.7h.1M88.7 179.6h.1M86.7 173.6h.1M97.5 170.9h.1M92.2 169.8h.1M100.7 174.1h.1M93.5 164.9h.1M95.1 174.6h.1M93.8 180.0h.1M92.8 164.6h.1M82.7 176.6h.1M97.7 170.1h.1M93.7 172.4h.1M91.3 178.3h.1M98.1 170.7h.1M83.4 179.7h.1M90.9 165.2h.1M102.4 174.4h.1M80.9 161.5h.1M91.4 163.9h.1M113.4 171.2h.1M99.2 176.8h.1M93.3 162.6h.1M101.0 170.4h.1M97.0 175.7h.1M88.8 181.6h.1M94.5 172.8h.1M91.2 175.7h.1M100.6 168.1h.1M98.9 141.3h.1M95.4 134.7h.1M93.0 125.9h.1M83.5 151.6h.1M104.3 157.2h.1M92.6 161.5h.1M105.0 160.3h.1M111.3 165.7h.1M106.7 127.6h.1M98.2 145.8h.1M99.7 138.0h.1M109.6 153.3h.1M90.2 151.5h.1M100.6 122.0h.1M100.9 131.6h.1M101.1 128.9h.1M91.7 121.8h.1M96.7 131.5h.1M98.2 141.5h.1M106.8 133.3h.1M111.9 125.6h.1M84.6 156.9h.1M106.9 121.5h.1M97.6 130.1h.1M102.4 151.2h.1M99.2 137.8h.1M107.1 149.4h.1M95.2 122.2h.1M94.9 163.4h.1M99.5 137.3h.1M112.1 158.1h.1M95.7 138.4h.1M95.7 158.3h.1M98.2 119.9h.1M112.9 131.7h.1M87.8 166.0h.1M101.0 121.9h.1M101.3 159.3h.1M109.7 136.5h.1M93.4 141.5h.1M101.5 132.1h.1M90.6 135.1h.1M94.7 165.6h.1M85.3 140.8h.1M91.4 125.1h.1M94.7 154.9h.1M92.0 128.6h.1M95.4 144.1h.1M91.7 156.1h.1M90.6 140.3h.1M93.3 123.0h.1M103.1 153.5h.1M101.7 162.9h.1M112.4 150.9h.1M87.1 163.2h.1M107.2 140.8h.1M85.4 128.2h.1M89.8 134.4h.1M83.5 156.6h.1M98.0 163.3h.1M83.4 131.3h.1M85.0 157.9h.1M102.4 154.9h.1M102.5 129.2h.1M85.9 157.9h.1M101.6 138.6h.1M95.8 125.4h.1M109.1 145.4h.1M100.3 130.6h.1M98.8 144.3h.1M112.7 164.2h.1M91.3 128.0h.1M96.6 144.9h.1M106.2 143.0h.1M104.7 126.5h.1M84.2 147.6h.1M83.4 130.3h.1M91.4 161.9h.1M112.1 159.5h.1M85.0 143.8h.1M83.6 130.2h.1M110.6 125.3h.1M87.2 129.4h.1M92.5 143.7h.1M108.9 146.5h.1M94.9 124.9h.1M84.3 154.3h.1M95.5 141.7h.1M104.9 165.2h.1M87.8 137.4h.1M91.0 140.6h.1M93.0 156.4h.1M83.3 138.1h.1M103.6 155.9h.1M85.8 144.3h.1M89.5 124.0h.1M96.4 161.8h.1M105.8 161.6h.1M85.5 124.5h.1M112.0 134.3h.1M98.2 145.6h.1M88.0 123.5h.1M88.3 137.8h.1M99.1 121.6h.1M85.7 143.9h.1M87.9 141.6h.1M111.7 163.0h.1M109.2 157.0h.1M101.5 131.4h.1M105.4 151.1h.1M86.3 164.4h.1M91.3 124.6h.1M83.5 143.9h.1M100.4 125.3h.1M83.1 130.6h.1M86.2 142.1h.1M112.9 118.9h.1M85.7 141.5h.1M112.5 132.6h.1M99.2 121.4h.1M97.6 143.9h.1M86.8 128.0h.1M94.8 128.0h.1M93.5 163.6h.1M103.9 139.3h.1M112.5 144.6h.1M92.7 123.3h.1M83.8 164.1h.1M111.9 146.6h.1M97.5 132.5h.1M95.3 150.2h.1M105.8 149.3h.1M102.2 141.7h.1M99.2 138.9h.1M87.2 122.9h.1M107.0 154.9h.1M90.3 120.3h.1M101.2 121.5h.1M88.7 148.4h.1M90.0 160.3h.1M101.8 161.6h.1M105.4 129.0h.1M112.2 157.5h.1M103.5 127.2h.1M102.1 127.6h.1M101.0 140.6h.1M91.7 146.0h.1M110.4 143.9h.1M100.4 162.3h.1M84.6 142.3h.1M65.9 180.0h.1M74.4 164.8h.1M50.9 129.9h.1M96.2 161.7h.1M50.2 180.4h.1M76.1 122.0h.1M43.1 128.4h.1M96.3 100.8h.1M66.0 175.3h.1M101.7 165.9h.1M49.5 109.1h.1M76.5 136.3h.1M109.1 123.3h.1M97.0 128.1h.1M52.8 135.7h.1M43.6 178.2h.1M85.7 125.1h.1M118.1 147.4h.1M69.5 161.6h.1M94.7 158.5h.1M92.9 101.9h.1M117.9 128.0h.1M69.7 168.6h.1M42.9 113.5h.1M43.6 136.8h.1M112.2 165.2h.1M53.4 116.1h.1M84.7 140.0h.1M89.1 179.0h.1M111.4 107.0h.1M71.2 122.9h.1M56.5 101.0h.1M112.0 103.7h.1M87.1 166.6h.1M119.1 143.5h.1M101.1 150.7h.1M91.4 120.8h.1M75.3 158.2h.1M35.4 111.0h.1M104.8 115.7h.1M65.5 104.0h.1M40.1 178.6h.1M97.8 126.5h.1M118.6 123.2h.1M97.5 134.4h.1M50.0 118.4h.1M64.4 175.6h.1M64.2 122.5h.1M61.0 102.6h.1M93.0 169.7h.1M96.3 160.1h.1M58.8 114.2h.1M68.3 130.5h.1M62.4 112.2h.1M57.1 174.6h.1M90.8 175.8h.1M103.0 103.3h.1M95.7 117.1h.1M116.6 133.5h.1M114.9 151.0h.1" stroke="#111" stroke-width="0.85" stroke-linecap="square" stroke-opacity="0.85" fill="none"/>
</g>
<rect x="34.30" y="5.40" width="86.50" height="86.30" fill="none" stroke="#3a3a3a" stroke-width="1.25"/>
<path d="M34.3 91.7h-2M34.3 91.7v2M34.3 70.4h-2M55.7 91.7v2M34.3 49.1h-2M77.1 91.7v2M34.3 27.8h-2M98.5 91.7v2M34.3 6.5h-2M119.9 91.7v2" stroke="#333" stroke-width="0.8"/>
<rect x="34.30" y="97.80" width="86.50" height="86.30" fill="none" stroke="#3a3a3a" stroke-width="1.25"/>
<path d="M34.3 184.1h-2M34.3 184.1v2M34.3 162.8h-2M55.7 184.1v2M34.3 141.5h-2M77.1 184.1v2M34.3 120.2h-2M98.5 184.1v2M34.3 98.9h-2M119.9 184.1v2" stroke="#333" stroke-width="0.8"/>
<rect x="51.20" y="21.90" width="28.10" height="29.20" fill="none" stroke="#2a2a2a" stroke-width="1.1"/>
<rect x="82.40" y="25.40" width="30.70" height="48.50" fill="none" stroke="#2a2a2a" stroke-width="1.1"/>
<rect x="34.30" y="59.00" width="35.90" height="32.70" fill="none" stroke="#2a2a2a" stroke-width="1.1"/>
<rect x="51.20" y="114.30" width="28.10" height="29.20" fill="none" stroke="#2a2a2a" stroke-width="1.1"/>
<rect x="82.40" y="117.80" width="30.70" height="48.50" fill="none" stroke="#2a2a2a" stroke-width="1.1"/>
<rect x="34.30" y="151.40" width="35.90" height="32.70" fill="none" stroke="#2a2a2a" stroke-width="1.1"/>
<text x="51.8" y="20.6" font-size="9.8" textLength="11.2" lengthAdjust="spacingAndGlyphs">21</text>
<text x="103.8" y="24.0" font-size="9.8" textLength="11.2" lengthAdjust="spacingAndGlyphs">16</text>
<text x="35.4" y="57.9" font-size="9.8" textLength="11.2" lengthAdjust="spacingAndGlyphs">58</text>
<text x="51.3" y="111.6" font-size="9.8" textLength="11.2" lengthAdjust="spacingAndGlyphs">16</text>
<text x="103.8" y="116.3" font-size="9.8" textLength="11.2" lengthAdjust="spacingAndGlyphs">35</text>
<text x="35.6" y="150.1" font-size="9.8" textLength="11.2" lengthAdjust="spacingAndGlyphs">42</text>
<text x="129.5" y="49.5" font-size="10.5" textLength="15.5" lengthAdjust="spacingAndGlyphs">WT</text>
<text x="128.5" y="141.2" font-size="10.5" textLength="38" lengthAdjust="spacingAndGlyphs">CD43KO</text>
<text x="27.5" y="113" font-size="10.5" textLength="45" lengthAdjust="spacingAndGlyphs" transform="rotate(-90 27.5 113)">Annexin V</text>
<text x="75.8" y="197.3" font-size="10.5" textLength="8" lengthAdjust="spacingAndGlyphs">PI</text>
<path d="M219.2 2.6V176.7H424.5" stroke="#000" stroke-width="1.9" fill="none"/>
<path d="M219.2 176.70h-3.6M219.2 155.04h-3.6M219.2 133.38h-3.6M219.2 111.72h-3.6M219.2 90.06h-3.6M219.2 68.40h-3.6M219.2 46.74h-3.6M219.2 25.08h-3.6M219.2 3.42h-3.6" stroke="#000" stroke-width="1.5"/>
<text x="213.6" y="180.0" font-size="9.1" text-anchor="end" fill="#000">0</text>
<text x="213.6" y="158.3" font-size="9.1" text-anchor="end" fill="#000">10</text>
<text x="213.6" y="136.7" font-size="9.1" text-anchor="end" fill="#000">20</text>
<text x="213.6" y="115.0" font-size="9.1" text-anchor="end" fill="#000">30</text>
<text x="213.6" y="93.4" font-size="9.1" text-anchor="end" fill="#000">40</text>
<text x="213.6" y="71.7" font-size="9.1" text-anchor="end" fill="#000">50</text>
<text x="213.6" y="50.0" font-size="9.1" text-anchor="end" fill="#000">60</text>
<text x="213.6" y="28.4" font-size="9.1" text-anchor="end" fill="#000">70</text>
<text x="213.6" y="6.7" font-size="9.1" text-anchor="end" fill="#000">80</text>
<rect x="229.3" y="41.76" width="7.5" height="134.94" fill="#000"/>
<rect x="236.8" y="90.13" width="6.6" height="86.57" fill="#808080" stroke="#000" stroke-width="1"/>
<path d="M233.20 29.85V41.76M231.00 29.85h4.4M231.00 41.76h4.4" stroke="#000" stroke-width="1.0" fill="none"/>
<path d="M240.20 84.64V94.61M238.00 84.64h4.4M238.00 94.61h4.4" stroke="#000" stroke-width="1.0" fill="none"/>
<rect x="263.3" y="80.75" width="7.5" height="95.95" fill="#000"/>
<rect x="270.8" y="120.88" width="6.6" height="55.82" fill="#808080" stroke="#000" stroke-width="1"/>
<path d="M267.20 73.60V80.75M265.00 73.60h4.4M265.00 80.75h4.4" stroke="#000" stroke-width="1.0" fill="none"/>
<path d="M274.20 111.29V129.48M272.00 111.29h4.4M272.00 129.48h4.4" stroke="#000" stroke-width="1.0" fill="none"/>
<rect x="297.3" y="126.45" width="7.5" height="50.25" fill="#000"/>
<rect x="304.8" y="124.78" width="6.6" height="51.92" fill="#808080" stroke="#000" stroke-width="1"/>
<path d="M301.20 117.78V126.45M299.00 117.78h4.4M299.00 126.45h4.4" stroke="#000" stroke-width="1.0" fill="none"/>
<path d="M308.20 116.70V131.86M306.00 116.70h4.4M306.00 131.86h4.4" stroke="#000" stroke-width="1.0" fill="none"/>
<rect x="331.3" y="98.29" width="7.5" height="78.41" fill="#000"/>
<rect x="338.8" y="142.11" width="6.6" height="34.59" fill="#808080" stroke="#000" stroke-width="1"/>
<path d="M335.20 96.12V98.29M333.00 96.12h4.4M333.00 98.29h4.4" stroke="#000" stroke-width="1.0" fill="none"/>
<path d="M342.20 136.63V146.59M340.00 136.63h4.4M340.00 146.59h4.4" stroke="#000" stroke-width="1.0" fill="none"/>
<rect x="365.3" y="27.68" width="7.5" height="149.02" fill="#000"/>
<rect x="372.8" y="23.41" width="6.6" height="153.29" fill="#808080" stroke="#000" stroke-width="1"/>
<path d="M369.20 16.20V27.68M367.00 16.20h4.4M367.00 27.68h4.4" stroke="#000" stroke-width="1.0" fill="none"/>
<path d="M376.20 12.08V33.74M374.00 12.08h4.4M374.00 33.74h4.4" stroke="#000" stroke-width="1.0" fill="none"/>
<rect x="399.0" y="48.26" width="7.5" height="128.44" fill="#000"/>
<rect x="406.5" y="53.09" width="6.6" height="123.61" fill="#808080" stroke="#000" stroke-width="1"/>
<path d="M402.90 39.16V48.26M400.70 39.16h4.4M400.70 48.26h4.4" stroke="#000" stroke-width="1.0" fill="none"/>
<path d="M409.90 44.79V60.39M407.70 44.79h4.4M407.70 60.39h4.4" stroke="#000" stroke-width="1.0" fill="none"/>
<text x="236" y="193.2" font-size="8.4" text-anchor="middle" fill="#000">BM</text>
<text x="236" y="203.29999999999998" font-size="8.4" text-anchor="middle" fill="#000">GR-1+</text>
<text x="270" y="193.2" font-size="8.4" text-anchor="middle" fill="#000">BM</text>
<text x="270" y="203.29999999999998" font-size="8.4" text-anchor="middle" fill="#000">B220+</text>
<text x="304.5" y="193.2" font-size="8.4" text-anchor="middle" fill="#000">SP</text>
<text x="304.5" y="203.29999999999998" font-size="8.4" text-anchor="middle" fill="#000">B220+</text>
<text x="339" y="193.2" font-size="8.4" text-anchor="middle" fill="#000">SP</text>
<text x="339" y="203.29999999999998" font-size="8.4" text-anchor="middle" fill="#000">CD4/8+</text>
<text x="373.5" y="193.2" font-size="8.4" text-anchor="middle" fill="#000">BM</text>
<text x="373.5" y="203.29999999999998" font-size="8.4" text-anchor="middle" fill="#000">Gr-1+</text>
<text x="373.5" y="213.39999999999998" font-size="8.4" text-anchor="middle" fill="#000">10ng/mL</text>
<text x="373.5" y="223.5" font-size="8.4" text-anchor="middle" fill="#000">IL3</text>
<text x="406" y="193.2" font-size="8.4" text-anchor="middle" fill="#000">Mφ</text>
<text x="194.4" y="91" font-size="8.3" text-anchor="middle" font-weight="bold" textLength="81" lengthAdjust="spacingAndGlyphs" transform="rotate(-90 194.4 91)" fill="#000">% of PI- &amp; AnnexinV-</text>
<rect x="436.8" y="103.8" width="5.6" height="5.6" fill="#000"/>
<rect x="437.5" y="119.5" width="4.4" height="4.4" fill="#808080" stroke="#000" stroke-width="1.5"/>
<text x="443.5" y="109.8" font-size="8.6">WT</text>
<text x="443.5" y="125.2" font-size="8.6" textLength="33.5" lengthAdjust="spacingAndGlyphs">CD43KO</text>
<path d="M44.0 332.4L44.7 331.3L45.3 330.2L46.0 328.8L46.5 327.9L47.0 326.7L47.5 325.3L47.9 324.3L48.4 323.0L48.6 321.7L48.9 320.4L49.1 319.2L49.4 317.6L49.6 316.4L49.8 315.0L50.1 314.1L50.3 312.6L50.5 311.2L50.6 309.7L50.8 308.6L50.9 307.4L51.1 306.0L51.2 305.3L51.3 303.9L51.5 301.3L51.6 300.2L51.8 299.5L51.9 298.2L52.1 297.1L52.2 295.8L52.4 295.1L52.5 292.7L52.6 291.7L52.8 291.2L52.9 289.4L53.1 288.1L53.2 286.4L53.4 284.7L53.5 284.0L53.7 282.7L53.8 280.9L53.9 279.8L54.1 278.7L54.2 277.1L54.4 276.1L54.5 274.9L54.6 273.6L54.8 272.1L54.9 271.2L55.0 270.0L55.2 268.5L55.3 266.8L55.4 266.0L55.6 264.3L55.7 263.4L55.8 261.5L55.9 260.8L56.1 259.2L56.4 257.5L56.6 256.5L56.8 255.4L57.0 254.2L57.2 252.9L57.5 254.1L57.8 255.9L58.0 256.8L58.2 255.7L58.5 254.6L58.7 252.5L58.9 251.8L59.1 250.9L59.4 250.7L59.6 251.8L59.9 253.7L60.1 254.8L60.4 256.3L60.6 257.1L60.7 258.0L60.9 259.8L61.0 261.0L61.2 262.7L61.3 263.8L61.5 264.5L61.7 265.9L61.8 268.0L62.0 269.2L62.2 270.0L62.4 271.5L62.6 273.0L62.8 274.3L63.0 275.7L63.1 276.8L63.3 278.0L63.4 279.2L63.6 281.0L63.8 281.1L63.9 283.2L64.1 284.5L64.2 285.3L64.4 287.3L64.6 288.2L64.8 290.0L64.9 291.0L65.1 292.6L65.3 294.1L65.5 295.1L65.6 295.9L65.8 297.0L66.0 299.4L66.2 300.1L66.4 301.2L66.5 302.8L66.7 303.9L66.9 305.6L67.1 306.6L67.3 307.9L67.6 308.9L67.8 310.6L68.0 311.4L68.2 313.3L68.5 314.8L68.8 315.1L69.1 316.2L69.4 318.3L69.6 320.1L69.9 320.5L70.4 321.7L70.9 323.3L71.4 324.2L72.1 325.4L73.0 326.3L74.0 327.3L75.2 327.7L76.2 328.6L77.2 329.3L78.3 329.9L79.6 330.0L80.9 329.9L82.2 329.6L83.4 329.1L84.7 328.9L86.0 329.2L87.3 329.1L88.5 329.7L89.7 330.3L90.9 330.5L92.2 330.8L93.5 331.2L94.7 331.6L96.0 331.9L97.3 332.2L98.6 332.3L99.8 332.6L101.0 333.1L102.2 333.6L103.5 334.1L104.8 334.3L106.0 334.8L107.2 335.2L108.5 335.7L109.7 336.0L111.0 336.2L112.3 336.4L113.6 336.6L114.9 336.9L116.2 337.0L117.5 337.3L118.8 337.4L120.1 337.6L121.4 337.7L122.7 337.9L124.0 338.0" fill="none" stroke="#111" stroke-width="1.25" stroke-linejoin="round" stroke-dasharray="2.3 1.6"/>
<path d="M44.0 332.0L44.7 331.1L45.5 330.0L46.1 328.6L46.6 327.4L47.1 326.1L47.6 325.2L48.0 323.8L48.3 322.8L48.5 320.7L48.8 320.5L49.1 318.6L49.3 317.7L49.6 316.1L49.8 314.7L50.1 313.7L50.2 312.6L50.4 310.8L50.5 309.6L50.7 308.6L50.9 306.6L51.0 305.1L51.2 304.6L51.4 302.8L51.5 301.0L51.7 300.2L51.8 299.0L52.0 297.4L52.2 296.0L52.3 295.3L52.4 294.4L52.6 292.6L52.7 291.1L52.9 290.3L53.0 289.1L53.2 287.4L53.3 286.5L53.5 285.4L53.6 283.5L53.7 281.9L53.9 281.2L54.0 279.8L54.2 278.9L54.3 276.5L54.5 275.5L54.6 274.1L54.8 272.4L54.9 271.9L55.0 270.8L55.2 269.0L55.3 268.6L55.5 267.0L55.6 265.7L55.8 264.3L55.9 263.2L56.1 260.9L56.4 260.5L56.6 259.2L56.9 256.8L57.1 256.5L57.4 254.9L57.6 254.6L57.8 255.3L58.0 256.8L58.2 258.3L58.3 259.0L58.5 259.5L58.6 257.9L58.8 256.9L58.9 255.1L59.0 254.5L59.2 253.0L59.3 251.4L59.5 250.4L59.6 249.7L59.8 251.3L60.0 251.0L60.1 253.4L60.3 254.6L60.5 255.6L60.7 256.5L60.9 258.8L61.2 258.9L61.6 261.0L62.0 262.6L62.2 260.0L62.4 259.3L62.7 257.5L62.9 256.9L63.1 256.2L63.3 256.7L63.4 256.3L63.6 258.1L63.7 260.0L63.9 261.7L64.0 262.5L64.1 263.2L64.3 265.0L64.4 266.2L64.7 267.4L64.9 268.4L65.2 270.2L65.5 271.5L65.7 272.6L66.0 273.8L66.2 274.6L66.3 276.3L66.5 278.3L66.7 279.0L66.9 279.7L67.0 282.3L67.2 283.2L67.4 285.2L67.5 285.6L67.7 286.7L67.9 287.5L68.0 290.1L68.2 291.9L68.4 291.7L68.5 293.1L68.7 294.9L68.9 295.6L69.2 297.1L69.9 298.1L70.7 299.4L71.6 300.7L71.9 301.5L72.1 303.2L72.3 303.9L72.5 305.5L72.8 305.7L73.0 307.3L73.2 309.6L73.4 310.3L73.7 312.1L73.9 313.3L74.1 315.0L74.3 316.0L74.9 317.3L75.5 318.0L76.2 318.6L77.3 317.9L78.2 318.6L79.0 319.4L79.7 320.7L80.4 322.0L81.1 323.1L82.3 323.6L83.5 323.7L84.6 324.8L85.4 324.3L86.0 323.3L86.6 322.0L87.2 320.5L87.9 319.4L88.7 319.2L89.3 317.7L89.9 316.9L90.5 315.9L91.0 313.5L91.4 312.8L91.7 311.5L92.1 310.3L92.5 309.1L92.9 307.7L93.3 306.4L93.6 306.3L94.0 308.1L94.3 309.1L94.9 310.7L95.7 311.4L96.7 312.7L97.7 313.6L98.2 314.6L98.7 315.8L99.2 316.9L99.7 317.9L100.2 319.2L100.8 320.3L101.3 321.8L101.9 322.8L102.5 324.1L103.1 324.8L103.8 326.4L104.6 327.2L105.4 328.2L106.3 329.3L107.2 330.1L108.1 331.2L109.1 332.0L110.1 332.8L111.1 333.6L112.2 334.5L113.3 334.9L114.5 334.2L115.7 333.9L117.0 333.5L118.3 334.0L119.6 333.8L120.8 333.7L121.8 334.5L122.8 335.2L123.8 336.2L124.8 336.9L126.0 337.6L127.2 337.9L128.5 338.1L129.8 338.2L131.1 338.3L132.4 338.4L133.8 338.4L135.1 338.4L136.4 338.4L137.7 338.4L139.0 338.4" fill="none" stroke="#111" stroke-width="1.1" stroke-linejoin="round"/>
<path d="M144.4 324.0L144.9 322.7L145.4 321.5L145.9 319.8L146.3 319.6L146.7 318.2L147.1 316.5L147.5 315.6L147.9 314.3L148.3 312.7L148.7 312.0L149.0 310.3L149.4 309.0L149.7 307.6L150.1 306.8L150.4 305.3L150.7 304.3L151.0 302.6L151.4 301.6L151.7 300.0L152.0 299.3L152.3 297.8L152.6 296.6L152.8 295.3L153.1 293.5L153.4 292.9L153.7 292.1L154.0 289.5L154.2 288.2L154.5 287.0L154.8 286.5L155.0 285.0L155.3 284.0L155.5 282.6L155.8 281.2L156.0 279.9L156.2 278.5L156.4 277.5L156.7 275.5L156.9 274.5L157.1 273.4L157.3 272.7L157.5 270.5L157.7 269.1L158.0 268.0L158.2 267.3L158.5 265.6L158.7 264.8L159.0 262.4L159.2 262.2L159.5 260.9L159.7 258.7L159.9 258.0L160.2 257.1L160.4 255.4L160.6 254.4L160.9 253.7L161.8 251.9L162.6 250.8L163.7 249.9L164.5 251.1L165.2 251.9L165.4 253.2L165.6 254.5L165.8 256.1L166.0 256.8L166.2 257.9L166.4 258.9L166.5 261.5L166.7 262.4L166.8 264.2L167.0 264.9L167.1 266.0L167.3 267.7L167.5 268.8L167.6 269.7L167.8 271.1L168.0 273.3L168.2 274.1L168.3 275.5L168.5 276.5L168.7 277.7L168.9 279.5L169.1 280.5L169.2 281.5L169.4 283.0L169.6 284.1L169.8 285.7L170.0 287.4L170.2 288.0L170.3 290.1L170.5 290.6L170.7 292.2L170.9 293.1L171.2 294.6L171.4 296.0L171.6 297.2L171.8 298.4L172.0 299.7L172.2 300.9L172.4 301.9L172.7 303.7L172.9 305.2L173.1 306.6L173.4 307.8L173.6 309.8L173.9 310.3L174.2 311.3L174.5 313.4L174.7 313.7L175.0 315.6L175.4 316.2L175.8 317.9L176.3 318.5L176.7 320.4L177.3 321.3L178.3 322.1L179.2 323.2L180.4 322.5L181.6 321.7L182.7 321.0L184.0 321.0L185.3 320.8L186.5 320.4L187.7 320.1L189.0 319.4L190.3 319.7L191.6 319.9L192.9 319.7L194.0 319.3L195.2 318.8L196.1 318.1L197.0 317.4L197.7 315.6L198.5 315.0L199.1 313.5L199.6 313.2L200.1 311.2L200.6 310.2L201.1 308.5L201.5 307.3L201.9 306.4L202.3 305.0L202.7 304.0L203.1 302.1L203.5 301.6L204.0 299.8L204.4 299.5L204.8 297.5L205.2 296.8L205.5 294.7L205.9 294.0L206.2 292.3L206.6 291.2L207.0 290.1L207.4 288.8L207.9 287.8L208.4 286.7L208.9 285.5L209.7 284.2L210.7 282.9L211.7 282.4L212.9 282.0L213.8 280.4L214.8 280.5L215.2 280.9L215.6 282.1L215.9 283.8L216.2 285.0L216.4 286.1L216.7 287.0L216.9 288.7L217.2 290.0L217.4 290.9L217.7 292.8L217.8 293.9L218.0 294.4L218.2 296.4L218.4 297.2L218.6 299.3L218.8 300.5L218.9 301.1L219.1 302.5L219.3 304.2L219.5 305.3L219.7 307.2L219.8 308.3L220.0 309.2L220.2 310.8L220.4 311.2L220.6 313.3L220.8 314.8L221.0 315.7L221.2 316.9L221.4 318.5L221.6 320.1L221.8 321.0L222.0 322.0L222.3 323.8L222.6 324.5L222.8 326.2L223.1 327.3L223.3 328.8L223.6 329.8L224.0 331.3L224.5 332.4L224.9 333.5L225.3 334.8L226.0 335.9L227.0 336.8L228.0 337.6" fill="none" stroke="#111" stroke-width="1.25" stroke-linejoin="round" stroke-dasharray="2.3 1.6"/>
<path d="M144.4 328.0L145.5 328.9L146.5 328.6L147.4 327.7L148.2 326.9L148.8 325.1L149.4 324.0L150.0 322.7L150.6 321.8L151.2 321.0L151.7 319.5L152.2 318.5L152.6 316.3L153.1 315.9L153.5 314.2L153.9 314.2L154.3 312.5L154.6 311.3L155.0 309.6L155.3 308.6L155.7 307.4L156.0 305.7L156.4 304.3L156.7 303.2L157.0 301.7L157.3 300.5L157.6 299.3L157.9 297.9L158.3 297.3L158.6 294.9L158.9 294.8L159.2 292.8L159.5 291.6L159.9 290.0L160.2 289.3L160.4 287.9L160.7 286.9L161.0 285.3L161.3 284.3L161.6 283.8L162.0 281.9L162.3 280.2L162.7 279.6L163.0 277.8L163.2 276.9L163.3 275.6L163.5 273.8L163.7 271.8L163.8 271.3L164.0 270.4L164.1 271.0L164.2 272.7L164.4 274.2L164.5 274.8L164.6 276.9L164.8 278.4L165.6 277.9L166.6 277.1L167.3 277.0L167.6 278.8L167.8 279.1L168.1 280.3L168.3 281.9L168.6 282.5L169.0 283.4L169.3 285.0L169.6 286.8L170.0 288.1L170.3 288.5L170.6 289.6L170.9 291.6L171.1 292.9L171.4 294.3L171.7 295.9L172.0 297.4L172.2 298.2L172.5 299.7L172.7 300.2L173.0 301.5L173.3 303.4L173.6 304.8L173.9 306.1L174.2 307.3L174.5 308.7L174.9 310.0L175.3 310.0L175.7 311.7L176.2 313.5L176.7 314.7L177.3 315.0L177.9 317.3L178.6 317.8L179.3 318.9L180.1 320.1L181.3 320.9L182.3 320.2L183.1 319.9L183.8 318.5L184.3 317.0L184.8 316.0L185.4 316.2L186.1 317.6L186.7 316.7L187.3 315.2L188.1 314.3L188.9 313.3L189.9 313.4L190.9 314.3L191.4 312.6L191.8 311.3L192.3 310.4L193.3 310.2L193.9 309.7L194.4 311.3L194.9 311.0L195.2 311.1L195.6 309.5L196.0 308.6L196.6 306.8L197.2 305.2L197.8 305.9L198.3 307.0L198.8 307.5L199.0 306.1L199.3 305.7L199.6 304.2L199.8 304.1L200.1 301.4L200.6 300.2L201.1 299.2L201.6 297.3L201.9 296.4L202.2 296.2L202.5 294.2L202.8 292.7L203.1 291.1L203.4 290.7L203.8 289.5L204.1 288.0L204.5 286.5L204.8 285.5L205.2 284.3L205.5 282.6L205.8 281.9L206.2 279.4L206.6 278.5L207.0 277.7L207.4 276.6L207.7 274.8L208.0 274.2L208.2 273.3L208.5 271.7L208.8 270.3L208.9 269.3L208.9 267.8L209.0 265.8L209.1 264.9L209.2 264.3L209.3 261.9L209.3 261.1L209.4 259.6L209.5 258.1L209.6 256.7L209.7 258.2L209.9 259.6L210.0 260.9L210.2 261.4L210.3 263.2L210.5 263.5L210.7 262.5L210.9 261.1L211.1 259.9L211.3 258.7L211.5 257.3L211.7 255.3L211.9 254.4L212.1 252.7L212.3 250.7L212.5 249.7L212.8 250.1L213.7 249.2L214.1 249.9L214.3 251.9L214.5 254.1L214.7 254.7L214.9 256.2L215.1 257.2L215.3 258.6L215.5 260.5L215.7 261.6L215.9 262.5L216.1 264.2L216.3 265.6L216.4 266.3L216.6 267.8L216.8 269.1L216.9 270.0L217.1 272.1L217.2 272.8L217.4 273.9L217.5 274.7L217.7 276.2L217.8 278.8L217.9 278.9L218.1 280.9L218.2 281.8L218.3 283.5L218.5 284.8L218.6 285.5L218.7 287.0L218.8 288.5L219.0 289.8L219.1 291.1L219.2 292.2L219.4 294.0L219.5 295.6L219.6 296.5L219.8 297.3L219.9 299.1L220.0 300.2L220.2 301.7L220.3 303.6L220.5 304.0L220.6 305.4L220.8 306.3L221.0 307.8L221.1 309.0L221.3 311.3L221.4 312.0L221.6 312.9L221.7 315.3L221.9 315.2L222.0 317.4L222.2 318.7L222.4 319.9L222.5 320.9L222.7 322.2L222.9 323.4L223.1 325.0L223.3 325.6L223.5 327.3L223.8 328.7L224.1 329.9L224.4 331.0L224.7 332.5L225.0 333.7L225.6 335.0L226.3 336.1L227.1 337.0L228.3 337.4L229.6 337.9L230.9 338.1L232.2 338.2L233.5 338.4L234.8 338.4L236.1 338.4L237.4 338.4L238.7 338.4L240.0 338.4" fill="none" stroke="#111" stroke-width="1.1" stroke-linejoin="round"/>
<path d="M245.4 297.7L245.6 297.4L245.8 299.7L246.0 300.7L246.2 302.0L246.4 303.4L246.6 304.1L246.8 306.0L247.1 307.0L247.4 309.8L247.7 310.0L248.1 310.7L248.4 309.5L248.8 308.1L249.2 306.7L249.6 305.7L249.9 304.7L250.3 303.2L250.6 302.3L250.9 300.7L251.3 299.5L251.6 298.7L251.8 297.1L252.1 295.4L252.3 294.3L252.6 293.2L252.8 292.4L253.1 290.4L253.3 289.1L253.6 288.2L253.8 286.3L254.0 285.2L254.2 284.3L254.5 282.9L254.7 281.5L254.9 280.4L255.0 277.8L255.2 277.9L255.4 275.9L255.6 274.4L255.8 273.7L256.0 272.6L256.2 270.9L256.4 269.4L256.7 268.5L257.0 267.2L257.2 266.4L257.5 264.9L257.9 263.4L258.3 262.5L258.7 260.8L259.1 259.3L259.5 258.6L259.9 257.3L260.3 255.8L260.7 254.4L261.2 253.5L261.7 251.3L262.2 251.2L263.3 251.9L263.9 252.2L264.2 254.0L264.5 255.0L264.7 256.9L265.0 257.2L265.1 258.9L265.3 260.7L265.5 262.2L265.6 262.3L265.8 264.2L265.9 265.8L266.1 266.8L266.2 268.9L266.4 269.2L266.5 271.0L266.6 271.8L266.8 274.0L266.9 274.8L267.0 276.0L267.1 276.8L267.3 279.3L267.4 280.3L267.6 281.6L267.7 283.0L267.9 284.1L268.0 285.0L268.2 286.3L268.3 287.6L268.5 289.6L268.7 289.9L268.9 291.5L269.1 292.9L269.3 294.4L269.6 295.8L269.8 296.5L270.2 297.6L270.5 299.4L270.9 301.1L271.3 302.2L271.7 303.3L272.1 304.3L272.5 305.8L273.0 306.8L273.5 308.4L273.9 309.1L274.4 310.6L274.9 311.8L275.4 313.2L276.0 314.3L276.8 316.0L277.7 316.6L278.8 317.3L279.7 317.2L280.5 318.7L281.3 318.0L282.1 317.3L282.6 315.2L283.1 315.1L283.6 313.8L284.1 311.8L284.6 310.7L285.1 309.5L285.6 308.6L286.2 307.7L286.8 307.0L287.8 305.4L288.8 305.6L289.7 306.4L290.5 308.0L291.3 308.6L292.1 309.9L292.9 310.0L293.8 311.4L294.6 312.2L295.4 314.0L296.2 314.7L297.2 315.3L298.3 315.9L299.4 316.9L300.5 317.3L301.6 317.6L302.7 317.3L303.9 317.2L305.0 315.8L306.3 315.4L307.5 314.7L308.4 315.4L309.3 317.0L309.7 318.3L310.1 319.3L310.5 320.6L310.9 321.8L311.3 323.1L311.7 324.0L312.1 325.4L312.5 326.8L313.0 327.9L313.5 329.2L314.0 330.3L314.6 331.6L315.3 332.7L316.0 333.7L316.9 334.7L317.9 335.7L318.8 336.6L319.9 337.3L321.0 337.9" fill="none" stroke="#111" stroke-width="1.25" stroke-linejoin="round" stroke-dasharray="2.3 1.6"/>
<path d="M245.4 296.8L245.6 295.9L245.8 299.0L246.0 299.9L246.2 301.8L246.4 302.6L246.6 304.6L246.8 305.1L247.1 306.1L247.3 307.9L247.6 309.1L247.8 310.0L248.1 310.4L248.5 309.6L248.8 308.4L249.2 306.6L249.5 305.4L249.9 303.4L250.2 303.8L250.5 301.6L250.9 301.1L251.2 299.4L251.4 298.8L251.7 297.3L251.9 295.5L252.2 294.7L252.4 292.4L252.7 292.1L253.0 289.6L253.2 289.1L253.5 288.1L253.7 286.5L254.0 284.9L254.2 283.5L254.4 282.4L254.5 281.7L254.7 280.3L254.8 278.5L255.0 276.8L255.2 276.3L255.3 274.1L255.5 273.2L255.8 271.8L256.0 271.2L256.3 269.7L256.5 268.5L256.8 267.2L257.1 265.4L257.4 264.7L257.7 263.9L258.1 261.9L258.4 261.0L258.7 259.4L259.1 258.6L259.4 257.2L259.8 256.0L260.1 254.5L260.5 253.9L261.0 251.8L261.4 250.5L261.9 249.3L263.2 249.4L263.9 249.6L264.5 250.8L265.0 252.6L265.2 254.1L265.4 255.1L265.6 254.9L265.8 257.0L266.0 258.2L266.2 259.5L266.3 261.1L266.5 263.4L266.6 263.8L266.7 264.9L266.9 266.8L267.0 267.9L267.1 269.2L267.2 270.1L267.4 271.7L267.6 273.2L267.7 273.4L267.9 274.9L268.1 277.4L268.3 278.6L268.5 279.3L268.7 280.3L268.9 282.0L269.1 282.8L269.3 284.5L269.5 286.7L269.7 287.3L269.9 289.0L270.2 289.7L270.4 291.3L270.7 293.0L270.9 293.0L271.3 294.7L271.7 296.1L272.1 297.5L272.5 299.3L272.9 300.2L273.3 300.4L273.8 302.2L274.5 302.2L275.5 301.8L275.9 304.3L276.3 304.2L276.7 306.0L277.1 306.8L277.7 308.7L278.3 309.6L279.0 310.6L279.9 311.5L280.6 311.8L281.2 309.8L281.8 308.7L282.9 309.2L283.6 309.9L284.0 308.0L284.4 306.4L284.7 305.4L284.9 305.4L285.2 303.0L285.5 302.1L285.7 300.7L286.3 299.3L287.2 298.0L287.8 297.0L288.4 295.9L289.1 293.9L289.9 295.1L290.7 293.5L291.7 294.0L292.0 295.1L292.3 296.1L292.6 298.2L292.8 299.0L293.1 300.5L293.5 300.9L293.8 303.0L294.3 304.8L295.3 303.0L295.8 304.4L296.3 305.3L296.8 307.0L297.5 306.9L298.3 305.4L299.3 304.3L300.3 304.3L300.8 305.4L301.3 306.4L301.7 308.0L302.5 307.3L303.3 305.7L303.6 304.8L303.9 304.9L304.1 302.6L304.4 301.0L304.8 300.9L305.4 298.4L306.3 297.2L307.4 298.1L308.2 299.3L309.0 301.2L309.6 302.6L310.3 302.4L310.7 305.1L311.0 305.3L311.2 307.2L311.5 308.6L311.7 309.9L312.0 311.0L312.3 312.3L312.5 313.0L312.8 314.9L313.0 316.5L313.4 317.7L313.8 319.6L314.2 320.2L314.4 321.4L314.7 322.9L314.9 323.8L315.2 324.7L315.5 325.7L315.8 327.8L316.1 328.9L316.4 330.2L316.8 331.3L317.4 332.5L318.0 333.8L318.8 334.7L319.6 335.6L320.5 336.6L321.6 337.3L322.8 337.8L324.0 338.1L325.3 338.3L326.6 338.5L327.9 338.7L329.2 338.7L330.5 338.7L331.9 338.7L333.2 338.8L334.5 338.8L335.8 338.8L337.1 338.9L338.4 338.9L339.7 339.0L341.0 338.9" fill="none" stroke="#111" stroke-width="1.1" stroke-linejoin="round"/>
<path d="M44.0 432.0L44.4 433.2L44.8 434.5L45.3 435.5L45.9 434.2L46.4 433.1L47.2 432.0L48.2 431.2L48.9 430.0L49.5 429.0L50.1 427.8L50.4 426.7L50.7 425.3L51.1 424.0L51.4 422.4L51.8 421.8L52.1 419.7L52.4 419.1L52.8 417.5L53.1 416.1L53.4 414.8L53.7 413.5L53.9 412.6L54.2 411.1L54.4 410.4L54.6 407.9L54.7 407.2L54.9 405.6L55.0 404.9L55.2 402.6L55.4 401.9L55.5 400.8L55.7 398.9L55.8 398.4L55.9 396.8L56.0 395.8L56.1 394.5L56.2 392.5L56.3 391.3L56.4 390.2L56.6 389.2L56.7 387.9L56.8 386.0L56.9 384.8L57.1 383.4L57.2 382.2L57.4 381.0L57.5 379.7L57.7 379.2L57.9 377.0L58.0 375.7L58.2 374.7L58.4 372.9L58.6 371.8L58.8 370.6L59.0 369.6L59.2 367.6L59.6 367.3L59.9 365.4L60.3 364.3L60.6 363.3L60.9 361.9L61.1 360.8L61.4 359.2L61.6 357.8L61.8 356.6L62.0 354.9L62.2 354.3L62.4 352.3L62.6 350.9L62.8 350.7L63.1 351.2L63.3 352.2L63.6 354.5L63.8 355.1L64.1 356.8L64.3 357.5L64.6 358.9L64.9 359.7L65.1 360.9L65.4 362.6L65.6 364.2L65.9 365.8L66.2 367.6L66.4 367.7L66.6 369.7L66.7 370.5L66.9 371.9L67.0 372.8L67.2 374.1L67.3 375.6L67.5 376.8L67.7 378.5L67.9 379.6L68.1 381.5L68.4 382.5L68.6 383.8L68.8 385.4L69.3 386.4L69.8 387.4L70.6 388.4L71.4 389.4L72.1 390.9L72.7 392.0L73.2 393.1L73.7 394.4L74.7 394.8L75.4 396.2L76.1 396.3L76.6 396.0L77.1 394.4L77.9 394.7L78.6 394.5L78.9 393.0L79.2 391.7L79.5 390.9L80.2 389.5L81.0 389.2L81.5 390.9L82.0 391.4L82.7 393.7L83.3 393.7L83.7 392.5L84.0 392.0L84.4 390.7L85.1 388.9L85.8 387.9L86.5 387.0L87.3 386.2L88.1 385.3L88.6 386.6L89.1 388.2L89.5 389.2L89.9 390.6L90.3 391.8L90.9 392.4L91.5 393.6L92.2 394.1L92.9 396.1L93.6 397.7L94.4 397.3L95.3 397.6L95.6 398.8L95.9 399.8L96.2 401.0L96.6 402.3L97.3 403.1L97.9 404.5L98.6 405.7L99.1 407.1L99.6 408.4L100.1 409.1L100.5 410.9L100.9 411.6L101.2 413.1L101.6 414.5L102.0 415.6L102.4 416.9L102.8 418.2L103.3 419.2L103.8 420.4L104.3 421.7L104.8 423.2" fill="none" stroke="#111" stroke-width="1.25" stroke-linejoin="round" stroke-dasharray="2.3 1.6"/>
<path d="M44.0 431.1L44.3 432.1L44.6 433.4L45.0 434.5L45.6 434.1L46.4 433.2L47.5 432.3L48.6 432.4L49.6 433.0L49.9 431.5L50.2 430.8L50.5 428.9L50.8 427.9L51.1 427.2L51.4 425.2L51.7 424.0L52.1 422.5L52.4 421.6L52.8 419.4L53.1 418.7L53.4 418.3L53.8 416.5L54.1 415.0L54.4 414.0L54.8 412.8L55.1 411.4L55.4 410.3L55.8 408.1L56.1 407.8L56.4 405.9L56.6 405.3L56.9 403.7L57.1 402.0L57.4 401.1L57.6 399.4L57.9 399.0L58.1 397.3L58.4 396.4L58.7 394.2L58.9 394.1L59.2 392.0L59.6 391.5L60.0 390.0L60.4 387.9L60.8 387.3L61.7 386.0L62.7 386.8L63.3 388.3L63.7 389.2L64.0 390.6L64.3 390.9L64.8 391.5L65.4 390.4L65.8 391.5L66.0 392.0L66.2 393.8L66.4 395.1L66.7 395.5L67.0 396.1L67.5 395.6L67.9 393.6L68.2 394.6L68.4 396.8L68.6 397.8L68.8 398.9L68.9 400.4L69.1 401.4L69.9 402.3L70.6 403.4L71.1 405.0L71.6 406.6L72.0 404.5L72.4 403.4L72.7 402.1L73.2 402.4L73.7 404.3L74.1 404.9L74.4 402.9L74.6 402.3L74.9 400.4L75.1 399.9L75.5 398.7L76.0 396.8L76.5 395.4L76.9 397.4L77.2 398.2L77.6 399.4L77.9 398.6L78.1 398.0L78.4 396.1L78.6 394.7L78.9 392.7L79.1 392.0L79.4 390.4L79.7 389.9L79.9 388.2L80.2 388.8L80.5 390.1L80.8 391.3L81.1 393.1L81.6 392.3L82.0 390.7L82.5 390.4L82.7 391.9L83.0 393.5L83.2 394.3L83.5 396.1L83.8 395.0L84.2 393.9L84.6 392.1L84.8 391.8L84.9 389.7L85.0 388.4L85.1 387.9L85.2 386.0L85.2 384.6L85.3 384.1L85.4 382.3L85.5 381.4L85.6 379.5L85.6 379.9L85.7 381.4L85.8 382.2L85.9 384.3L86.0 384.6L86.0 386.0L86.1 387.4L86.2 389.2L86.3 389.9L86.4 391.1L86.6 391.5L87.1 390.8L87.6 388.8L87.7 389.7L87.8 391.6L87.9 393.2L88.0 394.0L88.1 395.6L88.2 396.0L88.3 398.2L88.4 399.5L88.5 399.5L88.6 398.1L88.7 397.0L88.8 394.9L88.9 394.3L89.0 392.0L89.1 391.1L89.2 390.6L89.3 389.2L89.4 386.7L89.5 386.5L89.6 384.7L89.7 383.2L89.8 382.4L89.9 381.0L90.1 380.3L90.3 377.8L90.6 376.9L90.8 375.8L91.1 373.7L91.3 373.8L91.5 372.8L91.7 370.4L91.9 369.6L92.1 368.0L92.3 366.9L92.4 365.2L92.6 364.6L92.7 362.4L92.8 362.2L93.0 360.5L93.1 360.1L93.2 356.9L93.3 356.3L93.3 354.5L93.4 353.7L93.5 352.7L93.5 350.7L93.6 349.5L93.8 350.7L93.9 352.8L94.1 354.6L94.2 355.9L94.4 356.7L94.6 357.5L95.0 359.0L95.3 359.8L95.5 361.0L95.8 363.5L96.1 364.2L96.3 365.7L96.5 366.8L96.7 368.8L96.8 370.1L97.0 370.4L97.1 371.9L97.3 373.1L97.4 375.3L97.6 376.5L97.8 377.1L98.0 379.6L98.2 379.9L98.4 380.6L98.6 381.5L98.8 383.7L99.0 385.2L99.1 386.1L99.3 387.8L99.5 389.4L99.7 390.2L99.9 391.9L100.1 393.5L100.4 394.3L100.6 395.1L100.8 396.8L101.0 398.2L101.3 400.2L101.8 400.2L102.3 400.9L102.6 403.0L102.8 404.3L103.0 405.3L103.2 407.0L103.4 408.2L103.7 409.9L103.9 410.3L104.1 411.6L104.3 413.2L104.5 414.3L104.8 416.4L105.0 417.3L105.3 418.4L105.5 420.2L105.8 421.1L106.1 422.5L106.4 423.7L106.8 424.7L107.2 425.9L107.9 427.1L108.6 427.6L109.3 426.7L110.1 427.3L110.9 428.2L111.4 429.2L111.8 431.0L112.5 431.5L113.4 432.8L114.4 433.6L115.5 434.0L116.6 433.0L117.5 432.2L118.3 432.0L119.0 433.3L119.8 434.2L120.8 435.0L121.9 435.7L123.0 436.5L124.1 437.1L125.3 437.7L126.5 438.1L127.8 438.6L129.0 439.0L130.3 439.2L131.6 439.4L132.9 439.6L134.2 439.6L135.5 439.8L136.8 439.8L138.1 439.9L139.4 440.0" fill="none" stroke="#111" stroke-width="1.1" stroke-linejoin="round"/>
<path d="M144.4 438.4L145.7 438.2L147.0 438.0L148.1 437.3L149.2 436.6L150.2 435.8L151.0 434.7L151.8 433.7L152.6 432.7L153.3 431.7L153.9 430.4L154.5 429.1L155.1 427.9L155.6 427.1L156.1 425.7L156.6 424.1L157.0 423.2L157.4 421.7L157.8 420.6L158.2 419.4L158.6 418.0L158.9 417.1L159.2 415.7L159.5 414.2L159.7 413.3L160.0 412.1L160.3 410.0L160.5 409.2L160.8 407.7L161.1 406.7L161.3 405.0L161.6 404.2L161.8 402.9L162.1 401.5L162.3 399.9L162.6 398.9L162.9 397.4L163.1 396.0L163.3 395.2L163.5 393.5L163.7 393.0L163.9 391.5L164.1 389.3L164.3 388.8L164.5 387.0L164.7 386.1L164.9 384.8L165.1 382.8L165.3 382.1L165.5 380.8L165.7 380.0L165.9 377.9L166.2 377.3L166.4 375.4L166.7 374.4L166.9 372.9L167.0 372.4L167.2 370.8L167.4 370.2L167.5 368.3L167.7 367.0L167.8 365.7L168.0 363.9L168.3 362.8L168.6 362.1L168.9 360.2L169.2 359.1L169.9 357.9L170.5 357.0L171.0 355.4L171.5 354.3L171.8 353.2L172.0 351.8L172.3 350.2L172.5 351.1L172.7 351.6L172.9 352.9L173.1 354.2L173.4 356.3L173.6 357.1L173.8 358.2L174.0 359.4L174.2 361.2L174.6 362.0L175.3 363.0L175.7 364.9L175.9 365.5L176.1 367.1L176.3 368.5L176.5 369.7L176.7 371.1L176.9 372.9L177.1 373.5L177.3 374.6L177.4 375.7L177.6 377.5L177.8 378.8L178.0 380.3L178.3 381.3L178.5 382.6L178.7 383.8L178.9 385.2L179.1 386.7L179.4 387.8L179.6 389.2L179.8 391.2L180.0 392.0L180.2 392.5L180.5 395.0L180.7 395.8L181.0 396.6L181.2 398.5L181.5 399.5L181.8 400.5L182.2 401.8L182.6 402.9L182.9 404.5L183.2 406.2L183.5 407.0L183.8 408.5L184.2 410.3L184.6 410.4L185.0 412.2L185.4 413.2L185.9 414.2L186.5 415.4L187.1 416.8L187.7 418.1L188.4 419.0L189.0 420.3L189.6 421.6L190.2 422.7L191.1 423.6L192.3 424.3L193.4 424.9L194.5 425.9L195.5 425.8L196.3 424.6L197.1 423.8L197.9 422.4L198.8 421.5L199.6 420.7L200.3 419.6L200.9 418.7L201.5 417.2L202.5 415.8L203.4 416.0L204.1 414.6L204.7 412.7L205.5 412.5L206.4 411.1L207.2 409.4L208.0 408.9L208.6 407.7L209.2 407.3L209.9 405.3L210.7 404.5L211.4 403.4L211.9 402.1L212.4 400.7L212.9 399.9L213.3 398.9L213.7 397.5L214.1 395.8L214.5 394.4L214.9 393.6L215.3 392.1L215.6 390.9L216.0 389.3L216.3 389.3L216.6 387.6L216.9 385.7L217.2 385.1L217.5 383.9L217.7 381.4L218.0 380.7L218.2 379.5L218.4 378.5L218.6 377.0L218.9 375.7L219.1 374.4L219.4 373.8L219.6 372.7L219.9 370.4L220.6 369.3L221.7 369.9L222.8 367.9L223.5 367.0L224.0 366.0L224.5 365.4L224.8 366.8L225.1 367.9L225.4 368.7L225.6 370.5L225.8 371.7L225.9 373.6L226.1 374.2L226.3 375.0L226.4 376.4L226.6 378.6L226.7 379.2L226.9 380.0L227.0 381.8L227.2 383.3L227.4 385.0L227.5 385.5L227.7 387.4L227.8 388.8L228.0 389.5L228.1 391.0L228.3 393.0L228.4 394.3L228.6 395.3L228.8 396.4L228.9 398.0L229.1 398.8L229.2 400.1L229.4 401.2L229.5 402.8L229.7 404.0L229.8 406.3L230.0 406.6L230.2 408.4L230.3 409.7L230.5 410.5L230.7 412.3L230.9 412.4L231.1 414.5L231.3 416.0L231.5 416.3L231.7 418.0L231.9 419.9L232.2 420.8L232.4 421.9L232.7 423.4L233.0 424.6L233.3 426.1L233.6 427.3L233.9 428.5L234.3 429.7L234.8 431.0L235.3 432.3L235.9 433.4L236.6 434.5L237.3 435.6L238.2 436.5L239.1 437.5L240.0 438.4" fill="none" stroke="#111" stroke-width="1.25" stroke-linejoin="round" stroke-dasharray="2.3 1.6"/>
<path d="M144.4 437.9L145.7 438.2L147.0 438.4L148.2 437.8L149.4 437.3L150.5 436.7L151.5 435.7L152.4 435.0L153.2 433.8L154.0 433.1L154.8 431.9L155.6 430.7L156.3 429.7L157.0 428.6L157.6 427.5L158.2 426.6L158.9 425.3L159.5 424.4L160.1 423.0L160.9 421.8L161.7 420.3L162.2 419.0L162.7 418.4L163.1 417.4L163.5 416.5L163.8 414.3L164.1 413.4L164.4 411.7L165.0 410.7L165.6 408.8L165.9 408.8L166.2 406.9L166.4 405.9L166.7 404.9L167.0 403.5L167.4 401.5L167.7 401.6L168.2 400.0L169.1 398.9L170.0 397.5L171.2 396.5L172.4 396.3L173.7 396.9L174.9 397.6L175.7 398.2L176.2 400.5L176.5 401.1L176.7 402.7L176.9 403.9L177.0 404.3L177.2 406.6L177.6 407.6L178.0 408.0L178.4 410.2L179.3 409.7L179.9 410.3L180.2 411.6L180.6 411.7L181.2 413.4L182.0 414.3L182.8 415.6L183.7 416.6L184.4 418.1L185.0 419.1L185.6 419.7L186.4 421.3L187.2 422.5L188.3 422.8L189.4 423.0L190.6 423.8L191.8 423.6L192.8 423.9L193.7 425.2L194.2 426.2L194.7 427.9L195.2 427.2L195.7 425.9L196.2 424.4L196.9 423.6L197.4 422.2L197.9 421.0L198.4 420.4L198.9 418.5L199.4 417.0L199.9 416.7L200.4 415.9L200.8 414.6L201.3 413.0L201.8 412.4L202.3 410.1L202.8 410.0L203.2 408.8L203.6 406.4L204.0 405.5L204.4 403.5L205.3 402.8L205.9 402.3L206.3 400.3L206.6 399.7L207.2 398.6L207.8 397.3L208.4 396.5L208.8 395.8L209.3 393.7L209.7 392.9L210.1 391.8L210.4 389.9L210.9 391.0L211.4 391.4L211.8 392.4L212.1 391.4L212.4 389.9L212.7 389.4L213.0 387.8L213.2 386.2L213.5 384.6L213.7 382.9L214.0 382.1L214.5 381.0L215.0 379.6L215.7 378.5L216.6 377.5L217.3 376.9L218.0 374.7L218.6 374.2L218.9 373.1L219.1 372.1L219.3 370.8L219.5 369.1L219.7 367.6L219.9 366.1L220.1 365.8L220.3 364.3L220.4 362.8L220.6 361.1L220.8 359.6L220.9 359.4L221.0 357.5L221.1 356.4L221.2 355.7L221.3 352.9L221.4 352.0L221.5 351.2L221.6 350.6L221.8 351.1L222.0 352.9L222.2 353.9L222.3 355.2L222.5 355.4L222.7 354.0L222.9 353.2L223.1 351.7L223.4 352.6L223.8 352.8L224.1 354.6L224.2 355.1L224.4 356.3L224.6 357.7L224.7 359.9L224.9 361.0L225.0 361.5L225.2 364.1L225.3 365.3L225.4 366.0L225.5 367.3L225.7 368.7L225.8 369.5L225.9 372.4L226.0 372.4L226.1 373.8L226.2 375.1L226.3 376.2L226.4 377.4L226.5 379.3L226.6 379.9L226.7 381.3L226.8 382.7L226.9 384.7L227.0 385.2L227.1 386.5L227.2 388.4L227.3 389.0L227.4 390.7L227.5 392.5L227.6 393.6L227.7 394.8L227.8 396.7L227.9 397.2L228.1 398.4L228.2 399.2L228.3 401.3L228.4 402.8L228.5 403.6L228.6 406.0L228.7 406.9L228.8 408.2L228.9 408.5L229.0 410.5L229.1 411.8L229.2 412.1L229.3 414.3L229.4 415.5L229.5 416.2L229.6 418.4L229.7 420.2L229.9 421.0L230.0 421.8L230.1 423.3L230.3 425.0L230.4 425.8L230.7 427.3L230.9 428.5L231.2 429.9L231.4 431.4L231.7 432.2L232.2 433.7L232.7 434.8L233.2 436.0L234.1 436.9L235.1 437.9L236.2 438.4L237.5 438.7L238.7 439.1L240.0 439.4" fill="none" stroke="#111" stroke-width="1.1" stroke-linejoin="round"/>
<path d="M245.4 418.3L246.5 419.2L247.5 418.9L248.3 420.6L248.8 420.5L249.2 419.4L249.6 418.0L250.0 417.0L250.4 415.3L250.7 414.2L251.0 412.8L251.2 411.0L251.5 409.9L251.8 409.0L252.1 407.4L252.3 406.7L252.5 405.5L252.7 404.3L253.0 402.4L253.2 401.6L253.4 399.5L253.7 398.3L253.9 397.3L254.2 396.1L254.5 394.2L254.7 392.8L255.0 392.3L255.2 390.6L255.4 390.0L255.6 388.4L255.8 387.1L255.9 385.8L256.1 384.7L256.3 383.0L256.5 382.2L256.7 380.3L256.9 379.1L257.1 377.7L257.3 376.8L257.5 375.3L257.7 373.7L257.9 373.5L258.1 371.3L258.3 370.1L258.5 369.0L258.7 368.2L258.9 366.2L259.1 365.2L259.2 363.7L259.4 361.9L259.6 361.4L259.9 360.2L260.4 358.5L260.8 357.4L261.1 355.6L261.3 354.3L261.5 353.4L261.6 352.5L261.8 350.9L261.9 352.5L262.0 354.0L262.2 355.0L262.3 356.5L262.4 358.1L262.5 358.4L262.6 360.1L262.9 357.9L263.2 357.4L263.4 356.0L263.7 354.5L263.9 354.2L264.1 355.9L264.3 357.1L264.5 358.5L264.7 359.5L264.9 361.3L265.1 362.0L265.6 363.5L266.1 364.6L266.4 364.4L266.6 362.1L266.8 361.2L267.0 360.5L267.3 358.6L267.6 357.1L268.1 356.4L268.6 355.0L268.9 356.5L269.2 357.1L269.5 358.8L269.8 360.2L270.5 361.5L271.1 361.9L271.3 364.0L271.6 364.5L271.8 365.6L272.1 367.1L272.4 368.7L272.7 369.8L273.0 371.4L273.3 372.7L273.6 373.9L273.9 374.9L274.2 376.9L274.5 376.8L274.9 378.2L275.2 379.9L275.6 380.9L276.0 380.5L276.5 379.9L277.0 378.7L277.4 379.4L277.8 381.8L278.1 383.2L278.5 384.5L278.9 385.1L279.3 386.6L279.7 385.8L280.2 385.1L280.8 383.9L281.8 385.1L282.3 386.0L282.8 387.7L283.1 387.7L283.5 386.5L283.8 384.3L284.1 382.9L284.4 382.4L284.7 380.8L285.0 379.9L285.3 378.6L285.8 378.8L286.5 380.2L287.0 379.2L287.5 377.9L287.9 377.2L288.1 379.4L288.3 380.1L288.5 381.7L288.8 382.8L289.0 384.4L289.2 385.3L289.5 386.6L289.8 387.8L290.0 388.8L290.3 390.1L290.6 391.6L290.9 392.9L291.2 393.8L291.5 396.3L291.8 396.4L292.1 397.9L292.4 400.1L292.8 400.3L293.3 402.0L293.8 403.2L294.4 404.0L295.1 404.7L295.8 405.8L296.5 407.4L297.1 408.7L297.6 409.0L298.0 411.1L298.4 412.0L299.1 413.5L300.3 413.6L301.6 412.9L302.9 412.9L304.2 413.0L305.4 413.8L306.7 414.8L308.0 414.1L308.7 415.0L309.3 416.3L309.9 417.3L310.6 418.6L311.2 419.7L311.9 420.7L312.7 421.5L313.7 422.5L314.7 423.5L315.4 424.4L316.0 425.9L316.6 426.9L317.2 427.9L317.8 429.3L318.4 430.1L319.0 431.5L319.7 432.6L320.4 433.5L321.2 434.6L322.1 435.6L323.1 436.5L324.2 437.2L325.2 437.9L326.5 438.3L327.7 438.7L329.0 439.0" fill="none" stroke="#111" stroke-width="1.25" stroke-linejoin="round" stroke-dasharray="2.3 1.6"/>
<path d="M245.4 416.8L246.2 418.3L247.0 419.4L247.6 420.6L248.3 422.0L248.8 421.3L249.2 420.4L249.6 418.8L250.0 417.1L250.3 416.1L250.7 415.2L251.0 413.5L251.4 412.6L251.7 411.9L252.0 410.4L252.3 409.1L252.6 407.7L252.9 406.2L253.2 404.2L253.5 404.2L253.8 401.8L254.1 401.3L254.5 399.9L254.8 398.7L255.2 397.5L255.5 396.0L255.8 395.3L256.2 393.0L256.5 392.7L256.8 390.3L257.2 390.4L257.5 388.3L257.9 387.5L258.2 386.7L258.5 383.8L258.8 383.3L259.1 382.5L259.4 381.3L260.1 380.4L260.8 379.6L261.5 380.7L262.0 380.4L262.5 379.3L263.0 378.1L264.0 379.3L264.8 378.1L265.5 377.3L266.5 378.6L267.2 377.6L267.9 375.9L268.9 376.9L269.6 376.3L270.2 374.6L270.7 372.8L271.2 372.0L271.7 373.0L272.2 373.9L272.7 375.0L273.0 376.8L273.4 377.2L273.8 380.0L274.2 380.2L274.5 381.3L274.9 383.7L275.4 381.6L275.9 380.6L276.3 380.4L276.6 381.2L276.9 382.8L277.2 384.5L277.6 385.6L278.1 386.7L278.6 388.4L279.0 387.7L279.5 386.4L279.9 384.6L280.2 387.5L280.6 388.5L280.9 389.6L281.5 390.0L282.3 390.4L282.7 389.2L283.1 387.4L283.5 387.4L283.8 386.0L284.2 384.3L284.6 382.6L285.0 382.4L285.3 380.8L285.7 379.8L286.1 379.8L286.5 382.3L286.8 382.4L287.2 384.6L287.5 384.1L287.8 386.4L288.1 387.6L288.5 386.1L289.0 385.7L289.5 384.2L290.0 382.9L290.5 382.0L290.9 380.6L291.2 380.0L291.6 378.8L292.0 377.5L292.4 375.7L292.8 374.6L293.2 374.3L293.7 372.2L294.1 371.1L294.5 369.6L294.8 368.9L295.1 367.7L295.4 366.4L295.8 365.0L296.1 363.9L296.5 362.2L296.8 361.3L297.1 359.3L297.4 358.5L297.7 357.6L298.2 357.5L298.7 359.6L299.1 359.7L299.2 357.7L299.4 356.2L299.6 354.9L299.8 353.9L299.9 353.2L300.1 351.9L300.2 352.1L300.3 353.9L300.4 353.9L300.5 354.6L300.6 356.1L300.7 357.2L300.8 359.1L300.9 360.5L301.0 362.6L301.1 360.0L301.2 359.3L301.3 358.0L301.3 356.7L301.4 355.2L301.5 355.1L301.6 352.8L301.7 351.6L301.8 350.6L301.9 351.2L301.9 353.2L302.0 353.1L302.1 354.9L302.2 356.1L302.2 357.6L302.3 359.3L302.4 359.9L302.5 360.6L302.5 362.9L302.6 363.7L302.9 365.7L303.1 366.8L303.4 368.9L303.7 369.5L303.9 370.2L304.1 372.0L304.3 373.6L304.5 374.5L304.7 375.7L304.9 376.9L305.0 378.1L305.2 379.2L305.4 381.5L305.5 382.4L305.7 382.9L305.8 385.3L306.0 386.1L306.1 387.5L306.3 388.8L306.4 390.6L306.6 390.3L306.8 392.6L306.9 394.2L307.1 395.2L307.2 395.8L307.4 397.3L307.5 399.2L307.7 401.1L307.8 400.9L308.0 402.8L308.2 404.5L308.3 405.7L308.5 407.2L308.6 408.8L308.8 409.9L309.0 410.2L309.1 412.0L309.3 412.9L309.5 414.7L309.7 416.7L309.9 417.7L310.1 419.5L310.3 420.4L310.5 421.6L310.7 422.8L311.0 423.6L311.2 425.0L311.6 426.5L311.9 427.8L312.2 429.0L312.5 430.0L312.9 431.2L313.3 432.5L313.8 434.0L314.4 435.0L315.1 436.2L316.0 437.0L316.9 437.9L318.2 438.4L319.4 438.8L320.7 439.1L322.0 439.3L323.3 439.4L324.6 439.6L325.9 439.6L327.2 439.6L328.5 439.7L329.8 439.8L331.1 439.7L332.4 439.8L333.7 439.9L335.1 439.9L336.4 439.8L337.7 439.9L339.0 439.9L340.3 440.0L341.6 440.0" fill="none" stroke="#111" stroke-width="1.1" stroke-linejoin="round"/>
<rect x="44.10" y="242.80" width="95.90" height="96.50" fill="none" stroke="#333" stroke-width="1.0"/>
<path d="M44.1 242.8h-2.0M44.1 248.8h-1.4M44.1 254.9h-1.4M44.1 260.9h-1.4M44.1 266.9h-2.0M44.1 273.0h-1.4M44.1 279.0h-1.4M44.1 285.0h-1.4M44.1 291.1h-2.0M44.1 297.1h-1.4M44.1 303.1h-1.4M44.1 309.1h-1.4M44.1 315.2h-2.0M44.1 321.2h-1.4M44.1 327.2h-1.4M44.1 333.3h-1.4M44.1 339.3h-2.0M44.1 339.3v2.1M48.9 339.3v1.5M53.7 339.3v1.5M58.5 339.3v1.5M63.3 339.3v1.5M68.1 339.3v2.1M72.9 339.3v1.5M77.7 339.3v1.5M82.5 339.3v1.5M87.3 339.3v1.5M92.1 339.3v2.1M96.8 339.3v1.5M101.6 339.3v1.5M106.4 339.3v1.5M111.2 339.3v1.5M116.0 339.3v2.1M120.8 339.3v1.5M125.6 339.3v1.5M130.4 339.3v1.5M135.2 339.3v1.5M140.0 339.3v2.1" stroke="#222" stroke-width="0.85"/>
<path d="M44.1 339.3H140.0" stroke="#111" stroke-width="1.3"/>
<rect x="144.60" y="242.80" width="96.30" height="96.50" fill="none" stroke="#333" stroke-width="1.0"/>
<path d="M144.6 242.8h-2.0M144.6 248.8h-1.4M144.6 254.9h-1.4M144.6 260.9h-1.4M144.6 266.9h-2.0M144.6 273.0h-1.4M144.6 279.0h-1.4M144.6 285.0h-1.4M144.6 291.1h-2.0M144.6 297.1h-1.4M144.6 303.1h-1.4M144.6 309.1h-1.4M144.6 315.2h-2.0M144.6 321.2h-1.4M144.6 327.2h-1.4M144.6 333.3h-1.4M144.6 339.3h-2.0M144.6 339.3v2.1M149.4 339.3v1.5M154.2 339.3v1.5M159.0 339.3v1.5M163.9 339.3v1.5M168.7 339.3v2.1M173.5 339.3v1.5M178.3 339.3v1.5M183.1 339.3v1.5M187.9 339.3v1.5M192.8 339.3v2.1M197.6 339.3v1.5M202.4 339.3v1.5M207.2 339.3v1.5M212.0 339.3v1.5M216.8 339.3v2.1M221.6 339.3v1.5M226.5 339.3v1.5M231.3 339.3v1.5M236.1 339.3v1.5M240.9 339.3v2.1" stroke="#222" stroke-width="0.85"/>
<path d="M144.6 339.3H240.9" stroke="#111" stroke-width="1.3"/>
<rect x="245.80" y="242.80" width="96.10" height="96.50" fill="none" stroke="#333" stroke-width="1.0"/>
<path d="M245.8 242.8h-2.0M245.8 248.8h-1.4M245.8 254.9h-1.4M245.8 260.9h-1.4M245.8 266.9h-2.0M245.8 273.0h-1.4M245.8 279.0h-1.4M245.8 285.0h-1.4M245.8 291.1h-2.0M245.8 297.1h-1.4M245.8 303.1h-1.4M245.8 309.1h-1.4M245.8 315.2h-2.0M245.8 321.2h-1.4M245.8 327.2h-1.4M245.8 333.3h-1.4M245.8 339.3h-2.0M245.8 339.3v2.1M250.6 339.3v1.5M255.4 339.3v1.5M260.2 339.3v1.5M265.0 339.3v1.5M269.8 339.3v2.1M274.6 339.3v1.5M279.4 339.3v1.5M284.2 339.3v1.5M289.0 339.3v1.5M293.9 339.3v2.1M298.7 339.3v1.5M303.5 339.3v1.5M308.3 339.3v1.5M313.1 339.3v1.5M317.9 339.3v2.1M322.7 339.3v1.5M327.5 339.3v1.5M332.3 339.3v1.5M337.1 339.3v1.5M341.9 339.3v2.1" stroke="#222" stroke-width="0.85"/>
<path d="M245.8 339.3H341.9" stroke="#111" stroke-width="1.3"/>
<rect x="44.10" y="344.10" width="95.90" height="95.70" fill="none" stroke="#333" stroke-width="1.0"/>
<path d="M44.1 344.1h-2.0M44.1 350.1h-1.4M44.1 356.1h-1.4M44.1 362.0h-1.4M44.1 368.0h-2.0M44.1 374.0h-1.4M44.1 380.0h-1.4M44.1 386.0h-1.4M44.1 392.0h-2.0M44.1 397.9h-1.4M44.1 403.9h-1.4M44.1 409.9h-1.4M44.1 415.9h-2.0M44.1 421.9h-1.4M44.1 427.8h-1.4M44.1 433.8h-1.4M44.1 439.8h-2.0M44.1 439.8v2.1M48.9 439.8v1.5M53.7 439.8v1.5M58.5 439.8v1.5M63.3 439.8v1.5M68.1 439.8v2.1M72.9 439.8v1.5M77.7 439.8v1.5M82.5 439.8v1.5M87.3 439.8v1.5M92.1 439.8v2.1M96.8 439.8v1.5M101.6 439.8v1.5M106.4 439.8v1.5M111.2 439.8v1.5M116.0 439.8v2.1M120.8 439.8v1.5M125.6 439.8v1.5M130.4 439.8v1.5M135.2 439.8v1.5M140.0 439.8v2.1" stroke="#222" stroke-width="0.85"/>
<path d="M44.1 439.8H140.0" stroke="#111" stroke-width="1.3"/>
<rect x="144.60" y="344.10" width="96.30" height="95.70" fill="none" stroke="#333" stroke-width="1.0"/>
<path d="M144.6 344.1h-2.0M144.6 350.1h-1.4M144.6 356.1h-1.4M144.6 362.0h-1.4M144.6 368.0h-2.0M144.6 374.0h-1.4M144.6 380.0h-1.4M144.6 386.0h-1.4M144.6 392.0h-2.0M144.6 397.9h-1.4M144.6 403.9h-1.4M144.6 409.9h-1.4M144.6 415.9h-2.0M144.6 421.9h-1.4M144.6 427.8h-1.4M144.6 433.8h-1.4M144.6 439.8h-2.0M144.6 439.8v2.1M149.4 439.8v1.5M154.2 439.8v1.5M159.0 439.8v1.5M163.9 439.8v1.5M168.7 439.8v2.1M173.5 439.8v1.5M178.3 439.8v1.5M183.1 439.8v1.5M187.9 439.8v1.5M192.8 439.8v2.1M197.6 439.8v1.5M202.4 439.8v1.5M207.2 439.8v1.5M212.0 439.8v1.5M216.8 439.8v2.1M221.6 439.8v1.5M226.5 439.8v1.5M231.3 439.8v1.5M236.1 439.8v1.5M240.9 439.8v2.1" stroke="#222" stroke-width="0.85"/>
<path d="M144.6 439.8H240.9" stroke="#111" stroke-width="1.3"/>
<rect x="245.80" y="344.10" width="96.10" height="95.70" fill="none" stroke="#333" stroke-width="1.0"/>
<path d="M245.8 344.1h-2.0M245.8 350.1h-1.4M245.8 356.1h-1.4M245.8 362.0h-1.4M245.8 368.0h-2.0M245.8 374.0h-1.4M245.8 380.0h-1.4M245.8 386.0h-1.4M245.8 392.0h-2.0M245.8 397.9h-1.4M245.8 403.9h-1.4M245.8 409.9h-1.4M245.8 415.9h-2.0M245.8 421.9h-1.4M245.8 427.8h-1.4M245.8 433.8h-1.4M245.8 439.8h-2.0M245.8 439.8v2.1M250.6 439.8v1.5M255.4 439.8v1.5M260.2 439.8v1.5M265.0 439.8v1.5M269.8 439.8v2.1M274.6 439.8v1.5M279.4 439.8v1.5M284.2 439.8v1.5M289.0 439.8v1.5M293.9 439.8v2.1M298.7 439.8v1.5M303.5 439.8v1.5M308.3 439.8v1.5M313.1 439.8v1.5M317.9 439.8v2.1M322.7 439.8v1.5M327.5 439.8v1.5M332.3 439.8v1.5M337.1 439.8v1.5M341.9 439.8v2.1" stroke="#222" stroke-width="0.85"/>
<path d="M245.8 439.8H341.9" stroke="#111" stroke-width="1.3"/>
<text x="346.8" y="291" font-size="10.5" textLength="34.6" lengthAdjust="spacingAndGlyphs">No Treg</text>
<text x="346.8" y="386.9" font-size="10.5" textLength="52" lengthAdjust="spacingAndGlyphs">30,000 Treg</text>
<text x="24.3" y="363.6" font-size="10.5" textLength="36" lengthAdjust="spacingAndGlyphs" transform="rotate(-90 24.3 363.6)">Relative</text>
<text x="38.2" y="363.4" font-size="10.5" textLength="53.4" lengthAdjust="spacingAndGlyphs" transform="rotate(-90 38.2 363.4)">cell number</text>
<text x="83" y="454.6" font-size="10.5" textLength="23.2" lengthAdjust="spacingAndGlyphs">CFSE</text>
<text x="189.2" y="456" font-size="10.5" textLength="7.8" lengthAdjust="spacingAndGlyphs">PI</text>
<text x="264" y="453" font-size="10.5" textLength="45.8" lengthAdjust="spacingAndGlyphs">Annexin V</text>
<path d="M59.9 474.8V618.4H234" stroke="#000" stroke-width="2" fill="none"/>
<path d="M59.9 618.40h-4.4M59.9 598.00h-4.4M59.9 577.60h-4.4M59.9 557.20h-4.4M59.9 536.80h-4.4M59.9 516.40h-4.4M59.9 496.00h-4.4M59.9 475.60h-4.4M59.9 618.4v4M102.9 618.4v4M146.3 618.4v4M189.7 618.4v4M233.2 618.4v4" stroke="#000" stroke-width="1.6"/>
<text x="52.0" y="622.1" font-size="10.4" text-anchor="end" fill="#000">0</text>
<text x="52.0" y="601.7" font-size="10.4" text-anchor="end" fill="#000">5</text>
<text x="52.0" y="581.3" font-size="10.4" text-anchor="end" fill="#000">10</text>
<text x="52.0" y="560.9" font-size="10.4" text-anchor="end" fill="#000">15</text>
<text x="52.0" y="540.5" font-size="10.4" text-anchor="end" fill="#000">20</text>
<text x="52.0" y="520.1" font-size="10.4" text-anchor="end" fill="#000">25</text>
<text x="52.0" y="499.7" font-size="10.4" text-anchor="end" fill="#000">30</text>
<text x="52.0" y="479.3" font-size="10.4" text-anchor="end" fill="#000">35</text>
<rect x="69.2" y="571.5" width="11.8" height="46.90" fill="#000"/>
<rect x="81.0" y="497.3" width="12.8" height="121.10" fill="#898989"/>
<path d="M75.10 564.00V571.50M72.50 564.00h5.2M72.50 571.50h5.2" stroke="#000" stroke-width="1.25" fill="none"/>
<path d="M87.40 490.00V505.00M84.80 490.00h5.2M84.80 505.00h5.2" stroke="#000" stroke-width="1.25" fill="none"/>
<rect x="112.4" y="558.8" width="11.8" height="59.60" fill="#000"/>
<rect x="124.2" y="529.2" width="12.8" height="89.20" fill="#898989"/>
<path d="M118.30 555.00V558.80M115.70 555.00h5.2M115.70 558.80h5.2" stroke="#000" stroke-width="1.25" fill="none"/>
<path d="M130.60 524.20V533.80M128.00 524.20h5.2M128.00 533.80h5.2" stroke="#000" stroke-width="1.25" fill="none"/>
<rect x="155.8" y="606.2" width="11.8" height="12.20" fill="#000"/>
<rect x="167.60000000000002" y="593.5" width="12.8" height="24.90" fill="#898989"/>
<path d="M161.70 604.20V606.20M159.10 604.20h5.2M159.10 606.20h5.2" stroke="#000" stroke-width="1.25" fill="none"/>
<path d="M174.00 585.40V601.50M171.40 585.40h5.2M171.40 601.50h5.2" stroke="#000" stroke-width="1.25" fill="none"/>
<rect x="199.2" y="604.6" width="11.8" height="13.80" fill="#000"/>
<rect x="211.0" y="597.3" width="12.8" height="21.10" fill="#898989"/>
<path d="M205.10 601.50V604.60M202.50 601.50h5.2M202.50 604.60h5.2" stroke="#000" stroke-width="1.25" fill="none"/>
<path d="M217.40 592.30V603.00M214.80 592.30h5.2M214.80 603.00h5.2" stroke="#000" stroke-width="1.25" fill="none"/>
<text x="82.6" y="637.8" font-size="10.4" text-anchor="middle" textLength="14.6" lengthAdjust="spacingAndGlyphs" fill="#000">WT</text>
<text x="129.2" y="637.8" font-size="10.4" text-anchor="middle" textLength="39.4" lengthAdjust="spacingAndGlyphs" fill="#000">CD43KO</text>
<text x="176.5" y="637.8" font-size="10.4" text-anchor="middle" textLength="14.6" lengthAdjust="spacingAndGlyphs" fill="#000">WT</text>
<text x="223.2" y="637.8" font-size="10.4" text-anchor="middle" textLength="39.4" lengthAdjust="spacingAndGlyphs" fill="#000">CD43KO</text>
<path d="M67.6 643.6H142.8M157.2 644.3H232.4" stroke="#000" stroke-width="1.1"/>
<text x="105.6" y="655.6" font-size="10.4" text-anchor="middle" textLength="22.3" lengthAdjust="spacingAndGlyphs" fill="#000">2 hrs</text>
<text x="192.7" y="655.8" font-size="10.4" text-anchor="middle" textLength="28" lengthAdjust="spacingAndGlyphs" fill="#000">16 hrs</text>
<text x="79.8" y="490.2" font-size="10" text-anchor="middle" fill="#444">**</text>
<text x="121" y="490.2" font-size="10" text-anchor="middle" fill="#444">*</text>
<text x="21.6" y="555" font-size="9.7" text-anchor="middle" textLength="79.5" lengthAdjust="spacingAndGlyphs" transform="rotate(-90 21.6 555)">Caspase3 activity</text>
<text x="35.4" y="560" font-size="9.7" text-anchor="middle" textLength="69.5" lengthAdjust="spacingAndGlyphs" transform="rotate(-90 35.4 560)">(Ex499/Em520)</text>
<path d="M282.8 474.6V620.0H456.6" stroke="#000" stroke-width="2" fill="none"/>
<path d="M282.8 620.00h-4M282.8 595.90h-4M282.8 571.80h-4M282.8 547.70h-4M282.8 523.60h-4M282.8 499.50h-4M282.8 475.40h-4M282.8 620.0v4M326.2 620.0v4M369.6 620.0v4M413 620.0v4M456.3 620.0v4" stroke="#000" stroke-width="1.6"/>
<text x="275.8" y="623.7" font-size="10.4" text-anchor="end" fill="#000">0</text>
<text x="275.8" y="599.6" font-size="10.4" text-anchor="end" fill="#000">20</text>
<text x="275.8" y="575.5" font-size="10.4" text-anchor="end" fill="#000">40</text>
<text x="275.8" y="551.4" font-size="10.4" text-anchor="end" fill="#000">60</text>
<text x="275.8" y="527.3" font-size="10.4" text-anchor="end" fill="#000">80</text>
<text x="275.8" y="503.2" font-size="10.4" text-anchor="end" fill="#000">100</text>
<text x="275.8" y="479.1" font-size="10.4" text-anchor="end" fill="#000">120</text>
<rect x="292.3" y="612.7" width="11.8" height="7.30" fill="#000"/>
<rect x="304.1" y="612.3" width="12.8" height="7.70" fill="#898989"/>
<path d="M298.20 611.30V612.70M295.60 611.30h5.2M295.60 612.70h5.2" stroke="#000" stroke-width="1.25" fill="none"/>
<path d="M310.50 609.50V615.00M307.90 609.50h5.2M307.90 615.00h5.2" stroke="#000" stroke-width="1.25" fill="none"/>
<rect x="335.8" y="612.7" width="11.8" height="7.30" fill="#000"/>
<rect x="347.6" y="612.7" width="12.8" height="7.30" fill="#898989"/>
<path d="M341.70 609.50V612.70M339.10 609.50h5.2M339.10 612.70h5.2" stroke="#000" stroke-width="1.25" fill="none"/>
<path d="M354.00 609.50V616.00M351.40 609.50h5.2M351.40 616.00h5.2" stroke="#000" stroke-width="1.25" fill="none"/>
<rect x="378.4" y="558.1" width="11.8" height="61.90" fill="#000"/>
<rect x="390.2" y="511.6" width="12.8" height="108.40" fill="#898989"/>
<path d="M384.30 549.10V558.10M381.70 549.10h5.2M381.70 558.10h5.2" stroke="#000" stroke-width="1.25" fill="none"/>
<path d="M396.60 502.00V521.50M394.00 502.00h5.2M394.00 521.50h5.2" stroke="#000" stroke-width="1.25" fill="none"/>
<rect x="421.2" y="528.4" width="11.8" height="91.60" fill="#000"/>
<rect x="433.0" y="520.9" width="12.8" height="99.10" fill="#898989"/>
<path d="M427.10 519.10V528.40M424.50 519.10h5.2M424.50 528.40h5.2" stroke="#000" stroke-width="1.25" fill="none"/>
<path d="M439.40 510.10V532.00M436.80 510.10h5.2M436.80 532.00h5.2" stroke="#000" stroke-width="1.25" fill="none"/>
<text x="305.9" y="639.2" font-size="10.4" text-anchor="middle" textLength="14.6" lengthAdjust="spacingAndGlyphs" fill="#000">WT</text>
<text x="352.4" y="639.2" font-size="10.4" text-anchor="middle" textLength="39.4" lengthAdjust="spacingAndGlyphs" fill="#000">CD43KO</text>
<text x="399.3" y="639.2" font-size="10.4" text-anchor="middle" textLength="14.6" lengthAdjust="spacingAndGlyphs" fill="#000">WT</text>
<text x="446" y="639.2" font-size="10.4" text-anchor="middle" textLength="39.4" lengthAdjust="spacingAndGlyphs" fill="#000">CD43KO</text>
<path d="M292.4 645.4H367.6M381.2 645.6H456" stroke="#000" stroke-width="1.1"/>
<text x="330.3" y="656.8" font-size="10.4" text-anchor="middle" textLength="22.3" lengthAdjust="spacingAndGlyphs" fill="#000">2 hrs</text>
<text x="418.3" y="656.8" font-size="10.4" text-anchor="middle" textLength="28" lengthAdjust="spacingAndGlyphs" fill="#000">16 hrs</text>
<text x="385.8" y="491.5" font-size="10" text-anchor="middle" fill="#444">*</text>
<text x="245.4" y="597.5" font-size="10.1" textLength="64.3" lengthAdjust="spacingAndGlyphs" transform="rotate(-90 245.4 597.5)">Percentage of</text>
<text x="257.7" y="597.5" font-size="10.1" textLength="77.8" lengthAdjust="spacingAndGlyphs" transform="rotate(-90 257.7 597.5)">AnnexinV+ &amp; PI+</text>
<rect x="470.5" y="547.4" width="5.2" height="5.2" fill="#000"/>
<rect x="470.5" y="565.2" width="5.2" height="5.2" fill="#8c8c8c"/>
<text x="479" y="552.4" font-size="9.9" textLength="39.3" lengthAdjust="spacingAndGlyphs" fill="#000">No Treat.</text>
<text x="479" y="570.4" font-size="9.9" textLength="41.5" lengthAdjust="spacingAndGlyphs" fill="#000">L685,458</text>
</svg></body></html>
